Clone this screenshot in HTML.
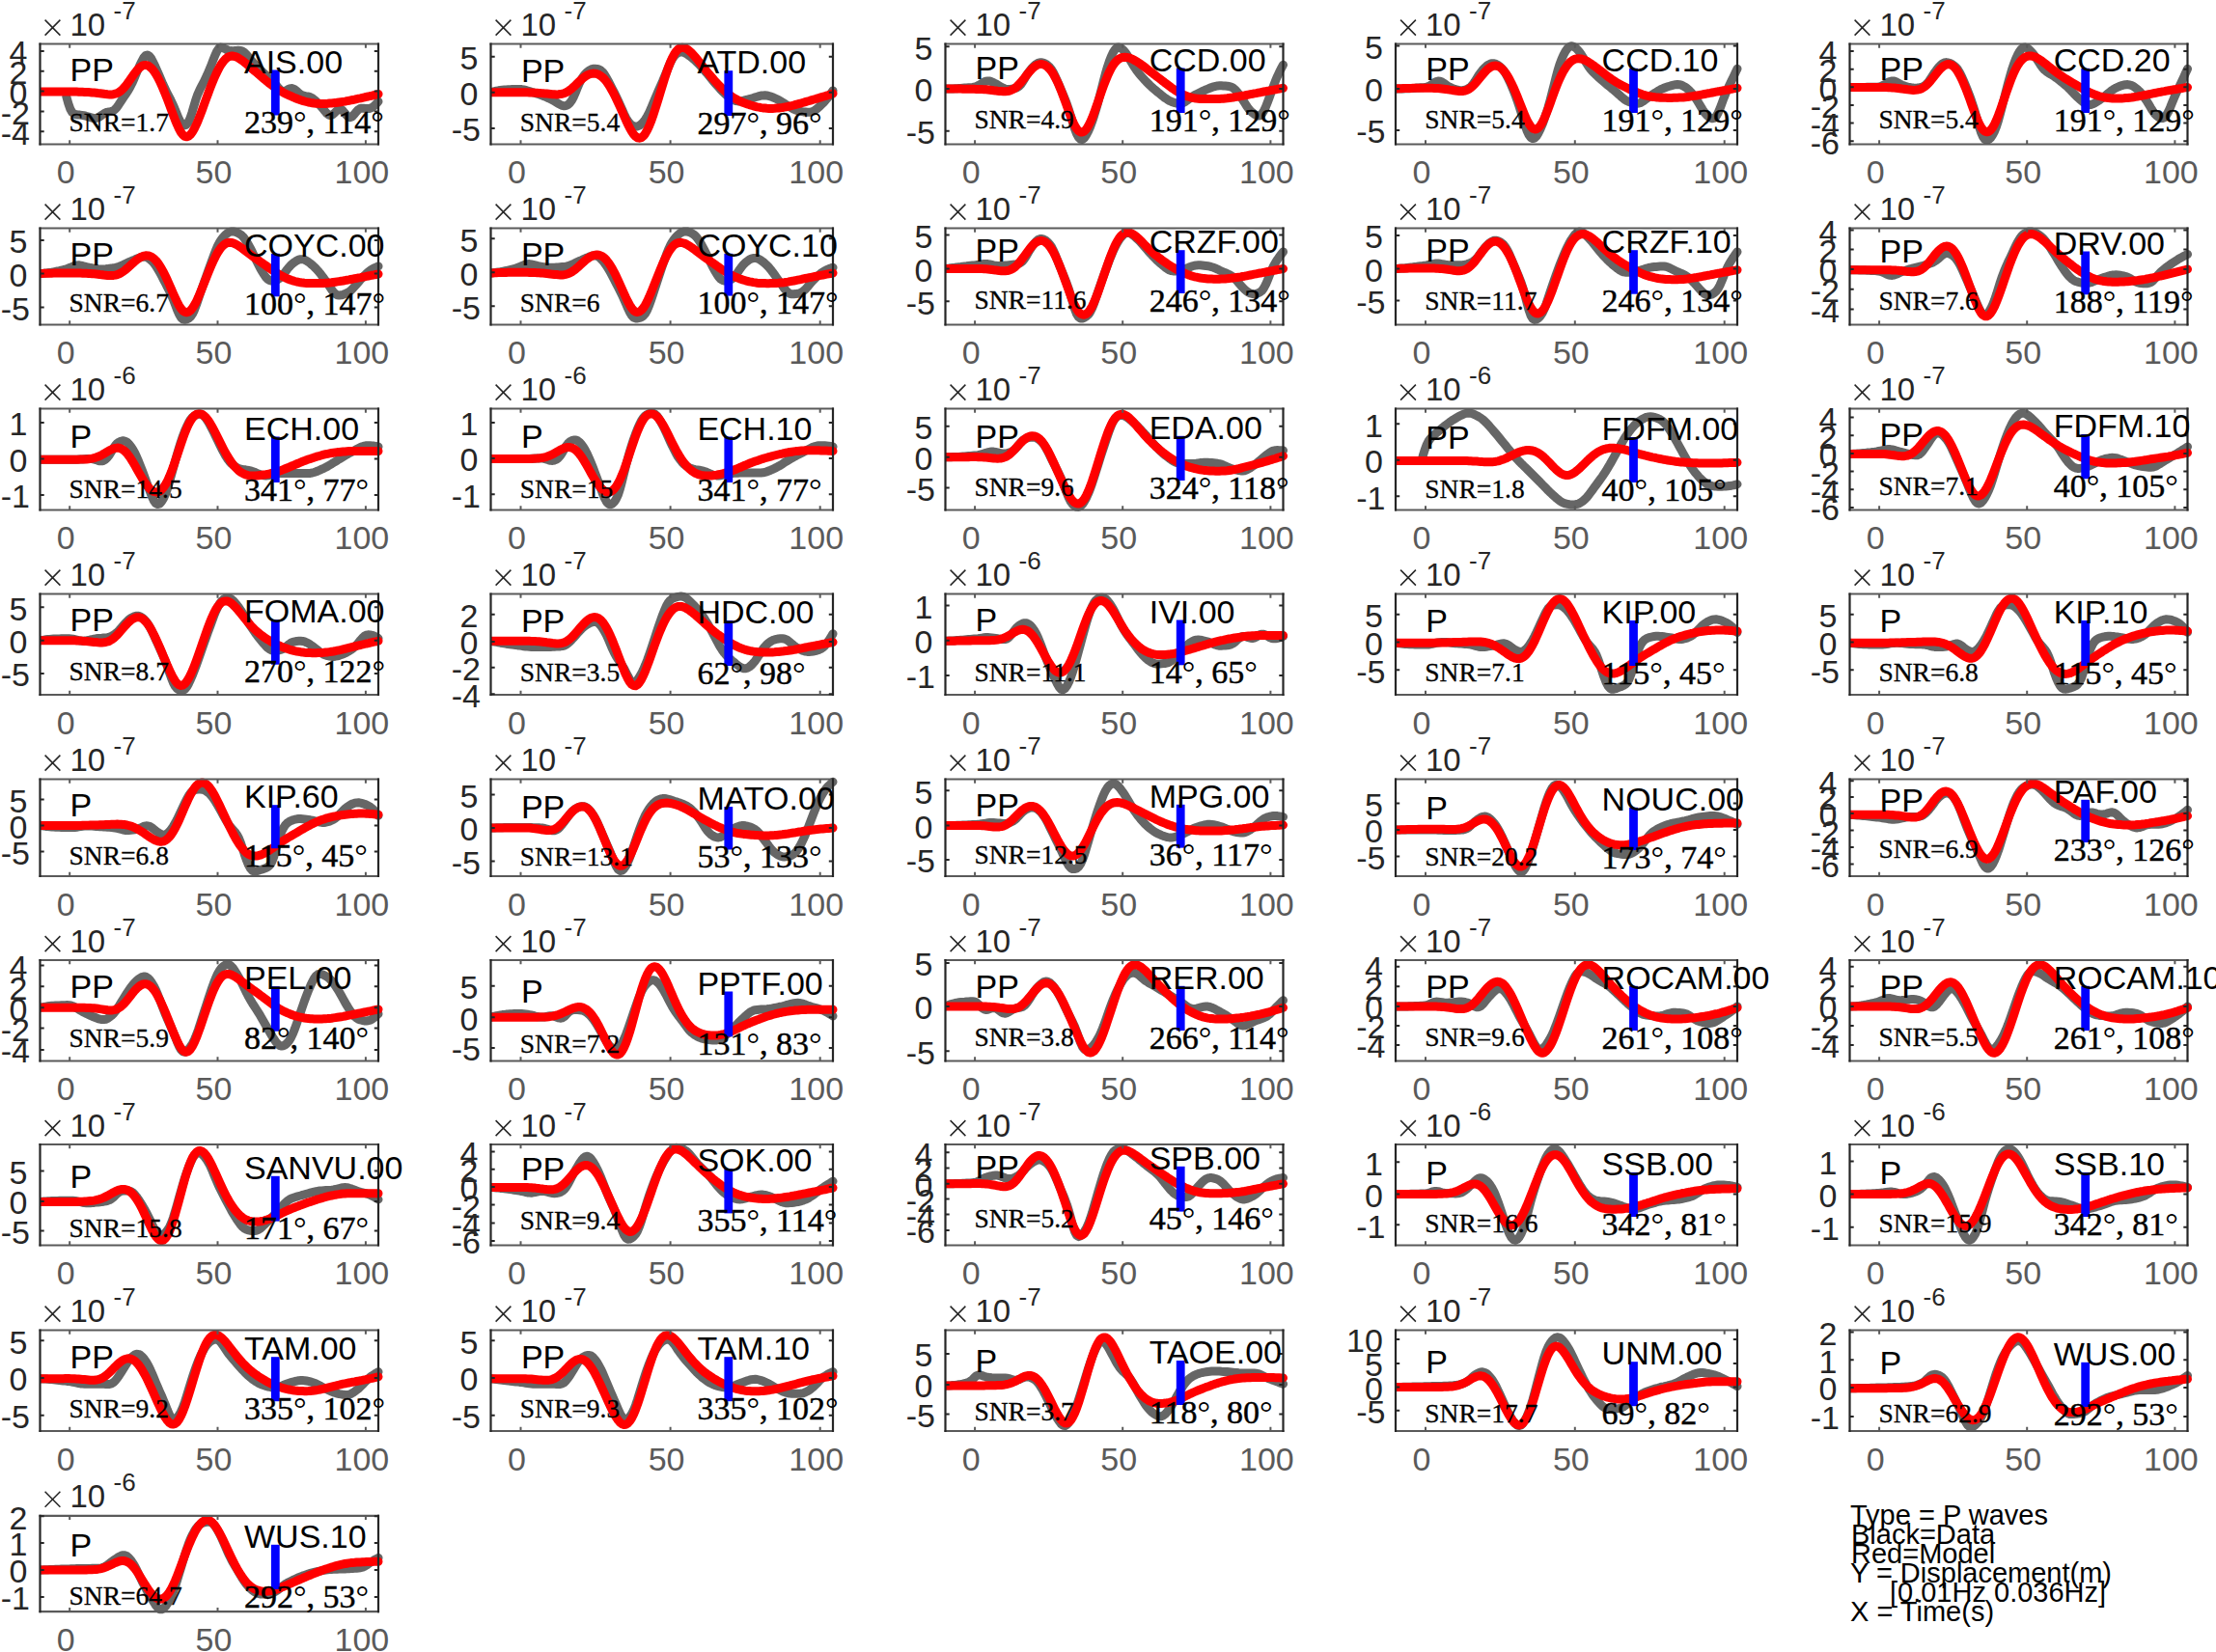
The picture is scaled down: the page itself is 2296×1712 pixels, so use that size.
<!DOCTYPE html><html><head><meta charset="utf-8"><title>Waveform fits</title><style>html,body{margin:0;padding:0;background:#fff;overflow:hidden}svg{display:block}</style></head><body>
<svg width="2296" height="1712" viewBox="0 0 2296 1712" font-family="Liberation Sans, sans-serif">
<rect width="100%" height="100%" fill="#fff"/>
<clipPath id="c0"><rect x="41.5" y="37.5" width="355.5" height="120.0"/></clipPath>
<g clip-path="url(#c0)" fill="none" stroke-linejoin="round" stroke-linecap="round">
<path d="M68.8,100.1l2,7.1 2,5.7 2,3.5 2,1.7 2,0.6 2,0.3 2,0.1 2,0.3 2,0.3 2,0.5 2,0.6 2,0.6 2,0.6 2,0.4 2,0.1 2,-0.4 2,-0.9 2,-1.4 2,-1.4 2,-1.3 2,-0.8 2,-0.4 2,-0.3 2,-0.6 2,-1.3 2,-2.1 2,-2.8 2,-3 2,-3.1 2,-2.9 2,-2.9 2,-3.1 2,-3.5 2,-4 2,-4.5 2,-4.7 2,-4.8 2,-4.5 2,-4.2 2,-3.6 2,-2.4 2,-0.6 2,1.1 2,2.7 2,3.8 2,4.2 2,4.5 2,4.6 2,4.7 2,4.6 2,4.3 2,4.1 2,3.9 2,3.9 2,4.2 2,4.5 2,4.9 2,4.9 2,4.1 2,2.9 2,1.1 2,-0.6 2,-2.4 2,-4.1 2,-5.8 2,-6.9 2,-6.8 2,-5.6 2,-4.5 2,-3.9 2,-3.8 2,-4.1 2,-4.3 2,-4.7 2,-4.9 2,-5.2 2,-5.1 2,-4.3 2,-2.9 2,-1 2,0.3 2,1 2,1.1 2,0.8 2,0.3 2,0.1 2,-0.1 2,-0.2 2,-0.1 2,0.1 2,0.5 2,1.2 2,1.9 2,2.3 2,2.5 2,2.4 2,2.1 2,2.1 2,2.1 2,2 2,1.9 2,2 2,1.8 2,1.7 2,1.7 2,1.7 2,1.9 2,2.3 2,2.5 2,2.5 2,2 2,1 2,-0.1 2,-0.8 2,-1.1 2,-0.8 2,-0.1 2,0.8 2,1.5 2,1.8 2,1.7 2,1.2 2,0.6 2,0.4 2,0.3 2,0.5 2,0.9 2,1.4 2,1.6 2,1.9 2,2 2,2.3 2,2.4 2,2.5 2,2.3 2,1.5 2,0.3 2,-0.9 2,-1.7 2,-2 2,-1.4 2,-0.3 2,1.1 2,2.3 2,2.5 2,2 2,0.6 2,-0.9 2,-2.1 2,-2.5 2,-2.2 2,-1.3 2,-0.5 2,0.1 2,0.2 2,0.1 2,-0.2 2,-0.6 2,-1.3 2,-1.8 2,-2.2 1.2,-1.4" stroke="#666666" stroke-width="9"/>
<path d="M41.5,95.0l2,0 2,0 2,0 2,0 2,0 2,0 2,0 2,0 2,0 2,0 2,0 2,0 2,0 2,0 2,0 2,0 2,0.1 2,0 2,0 2,0.1 2,0 2,0.1 2,0.1 2,0.1 2,0.1 2,0.1 2,0.2 2,0.1 2,0.2 2,0.3 2,0.2 2,0.3 2,0.3 2,0.3 2,0.2 2,0.1 2,0 2,-0.2 2,-0.5 2,-0.7 2,-1.2 2,-1.5 2,-1.8 2,-2.3 2,-2.5 2,-2.7 2,-2.9 2,-2.9 2,-2.7 2,-2.6 2,-2.2 2,-1.8 2,-1.3 2,-0.7 2,0 2,0.7 2,1.3 2,1.9 2,2.5 2,3 2,3.5 2,3.9 2,4.3 2,4.7 2,4.9 2,5.1 2,5.3 2,5.3 2,5.4 2,5.2 2,4.8 2,4.4 2,3.6 2,2.6 2,1.6 2,0.4 2,-0.8 2,-1.7 2,-2.7 2,-3.6 2,-4.1 2,-4.7 2,-5.1 2,-5.3 2,-5.5 2,-5.5 2,-5.4 2,-5.4 2,-5.1 2,-4.9 2,-4.5 2,-4.2 2,-3.8 2,-3.3 2,-2.7 2,-2.2 2,-1.7 2,-1 2,-0.5 2,0 2,0.5 2,0.7 2,1.1 2,1.3 2,1.4 2,1.6 2,1.6 2,1.7 2,1.8 2,1.7 2,1.7 2,1.7 2,1.7 2,1.7 2,1.7 2,1.7 2,1.7 2,1.6 2,1.7 2,1.5 2,1.5 2,1.4 2,1.4 2,1.2 2,1.1 2,1.1 2,1 2,1 2,0.9 2,0.9 2,0.9 2,0.9 2,0.8 2,0.8 2,0.7 2,0.6 2,0.6 2,0.5 2,0.5 2,0.4 2,0.3 2,0.3 2,0.2 2,0.1 2,0.1 2,0.1 2,-0.1 2,0 2,-0.1 2,-0.2 2,-0.1 2,-0.2 2,-0.2 2,-0.3 2,-0.3 2,-0.3 2,-0.3 2,-0.3 2,-0.4 2,-0.4 2,-0.4 2,-0.4 2,-0.4 2,-0.5 2,-0.4 2,-0.4 2,-0.5 2,-0.4 2,-0.5 2,-0.4 2,-0.5 2,-0.4 2,-0.5 2,-0.5 2,-0.4 0.5,-0.2" stroke="#ff0000" stroke-width="9"/>
</g>
<rect x="280.9" y="72.5" width="8.8" height="47.0" fill="#0000ff"/>
<path d="M40.5,45.5 H393.0 M40.5,149.5 H393.0" stroke="#5a5a5a" stroke-width="2.2" fill="none"/>
<path d="M41.5,44.5 V150.5 M392.0,44.5 V150.5" stroke="#262626" stroke-width="2.2" fill="none"/>
<text x="68.2" y="190.3" font-size="34" fill="#5a5a5a" text-anchor="middle">0</text>
<text x="221.5" y="190.3" font-size="34" fill="#5a5a5a" text-anchor="middle">50</text>
<text x="374.9" y="190.3" font-size="34" fill="#5a5a5a" text-anchor="middle">100</text>
<path d="M72.2,149.5 V145.3 M72.2,45.5 V49.7 M225.5,149.5 V145.3 M225.5,45.5 V49.7 M378.9,149.5 V145.3 M378.9,45.5 V49.7" stroke="#5a5a5a" stroke-width="2" fill="none"/>
<text x="28.3" y="66.4" font-size="34" fill="#262626" text-anchor="end">4</text>
<text x="28.3" y="87.2" font-size="34" fill="#262626" text-anchor="end">2</text>
<text x="28.3" y="108.0" font-size="34" fill="#262626" text-anchor="end">0</text>
<text x="31.0" y="128.9" font-size="34" fill="#262626" text-anchor="end">-2</text>
<text x="31.0" y="149.7" font-size="34" fill="#262626" text-anchor="end">-4</text>
<path d="M41.5,53.0 H45.7 M392.0,53.0 H387.8 M41.5,73.8 H45.7 M392.0,73.8 H387.8 M41.5,94.6 H45.7 M392.0,94.6 H387.8 M41.5,115.5 H45.7 M392.0,115.5 H387.8 M41.5,136.2 H45.7 M392.0,136.2 H387.8" stroke="#262626" stroke-width="2" fill="none"/>
<path d="M46.6,20.6 l15.8,16 M62.4,20.6 l-15.8,16" stroke="#262626" stroke-width="1.5"/>
<text x="72.5" y="37.1" font-size="33" fill="#262626">10</text>
<text x="117.5" y="20.1" font-size="26" fill="#262626">-7</text>
<text x="72.5" y="84.3" font-size="34" fill="#000">PP</text>
<text x="253.0" y="75.5" font-size="34" fill="#000">AIS.00</text>
<text x="71.5" y="135.7" font-size="27.5" fill="#000" stroke="#000" stroke-width="0.3" font-family="Liberation Serif, serif">SNR=<tspan>1.7</tspan></text>
<text x="253.0" y="138.1" font-size="34" fill="#000" stroke="#000" stroke-width="0.45" font-family="Liberation Serif, serif">239<tspan stroke-width="0">°</tspan>, 114<tspan stroke-width="0">°</tspan></text>
<clipPath id="c1"><rect x="508.5" y="37.5" width="359.5" height="120.0"/></clipPath>
<g clip-path="url(#c1)" fill="none" stroke-linejoin="round" stroke-linecap="round">
<path d="M508.5,95.7l2,-0.5 2,-0.5 2,-0.5 2,-0.4 2,-0.3 2,-0.3 2,-0.2 2,-0.1 2,-0.2 2,0 2,-0.1 2,-0.1 2,0 2,0 2,0 2,0.1 2,0.3 2,0.5 2,0.6 2,0.6 2,0.7 2,0.6 2,0.6 2,0.6 2,0.7 2,0.7 2,0.7 2,0.8 2,0.9 2,0.9 2,1 2,1 2,1.1 2,1.2 2,1.2 2,1.2 2,0.9 2,0.4 2,-0.2 2,-1 2,-1.9 2,-2.8 2,-3.8 2,-4.7 2,-5 2,-4.6 2,-3.8 2,-3.1 2,-2.4 2,-2 2,-1.6 2,-1 2,-0.6 2,-0.1 2,0.2 2,0.5 2,1.1 2,1.8 2,2.7 2,3.3 2,3.7 2,3.8 2,3.9 2,3.9 2,4.1 2,4.2 2,4.4 2,4.6 2,4.5 2,4.1 2,3.4 2,2.5 2,1.7 2,1.1 2,0.4 2,-0.2 2,-0.8 2,-1.5 2,-2.1 2,-2.6 2,-3.2 2,-3.8 2,-4.5 2,-4.9 2,-4.9 2,-4.7 2,-4.6 2,-4.5 2,-4.5 2,-4.8 2,-4.9 2,-5 2,-4.6 2,-3.9 2,-2.9 2,-2.1 2,-1.4 2,-0.7 2,-0.1 2,0.5 2,0.9 2,1.3 2,1.4 2,1.6 2,1.6 2,1.8 2,1.9 2,2.1 2,2.1 2,2.3 2,2.3 2,2.3 2,2.5 2,2.4 2,2.5 2,2.4 2,2.3 2,2.2 2,2.3 2,2.1 2,1.9 2,1.8 2,1.6 2,1.5 2,1.3 2,1 2,0.8 2,0.3 2,0 2,-0.3 2,-0.4 2,-0.5 2,-0.5 2,-0.6 2,-0.5 2,-0.6 2,-0.7 2,-0.6 2,-0.6 2,-0.5 2,-0.2 2,-0.1 2,0.2 2,0.4 2,0.7 2,0.7 2,0.8 2,0.9 2,1 2,1.1 2,1.3 2,1.2 2,1.3 2,1.3 2,1.3 2,1.1 2,1.1 2,0.9 2,0.7 2,0.5 2,0.3 2,0.3 2,0.2 2,0.2 2,0 2,-0.3 2,-0.7 2,-1.1 2,-1.5 2,-1.8 2,-1.9 2,-1.9 2,-2.2 2,-2.3 2,-2.5 2,-2.7 2,-2.8 0.5,-0.7" stroke="#666666" stroke-width="9"/>
<path d="M508.5,95.8l2,0 2,0 2,0 2,0 2,0 2,0 2,0 2,0 2,0 2,-0.1 2,0 2,0 2,0 2,0 2,0 2,0 2,0.1 2,0 2,0 2,0.1 2,0.1 2,0.1 2,0.1 2,0.1 2,0.1 2,0.2 2,0.1 2,0.2 2,0.2 2,0.2 2,0.2 2,0.2 2,0.1 2,0.1 2,-0.1 2,-0.2 2,-0.3 2,-0.6 2,-0.9 2,-1.1 2,-1.4 2,-1.6 2,-1.8 2,-1.9 2,-2 2,-1.9 2,-1.8 2,-1.7 2,-1.5 2,-1.2 2,-0.9 2,-0.6 2,-0.3 2,0.1 2,0.4 2,0.8 2,1.3 2,1.6 2,2 2,2.5 2,2.9 2,3.2 2,3.5 2,3.9 2,4 2,4.3 2,4.4 2,4.5 2,4.5 2,4.5 2,4.2 2,4 2,3.5 2,3 2,2.2 2,1.4 2,0.4 2,-0.5 2,-1.6 2,-2.5 2,-3.5 2,-4.2 2,-5 2,-5.6 2,-6.1 2,-6.3 2,-6.5 2,-6.6 2,-6.6 2,-6.5 2,-6.1 2,-5.8 2,-5.2 2,-4.5 2,-3.8 2,-3 2,-2.1 2,-1.4 2,-0.5 2,0.1 2,0.7 2,1.2 2,1.6 2,1.9 2,2.2 2,2.3 2,2.4 2,2.5 2,2.5 2,2.5 2,2.5 2,2.5 2,2.4 2,2.4 2,2.3 2,2.3 2,2.2 2,2.2 2,2 2,2 2,1.9 2,1.8 2,1.6 2,1.5 2,1.5 2,1.2 2,1.2 2,1.1 2,1 2,0.9 2,0.8 2,0.7 2,0.7 2,0.7 2,0.6 2,0.6 2,0.5 2,0.5 2,0.4 2,0.4 2,0.3 2,0.2 2,0.2 2,0.1 2,0 2,0 2,-0.1 2,-0.2 2,-0.1 2,-0.3 2,-0.2 2,-0.4 2,-0.3 2,-0.4 2,-0.4 2,-0.5 2,-0.5 2,-0.6 2,-0.5 2,-0.6 2,-0.5 2,-0.6 2,-0.6 2,-0.6 2,-0.5 2,-0.6 2,-0.6 2,-0.6 2,-0.6 2,-0.6 2,-0.6 2,-0.6 2,-0.6 2,-0.6 2,-0.6 2,-0.7 2,-0.6 0.5,-0.2" stroke="#ff0000" stroke-width="9"/>
</g>
<rect x="750.4" y="73.2" width="8.8" height="46.8" fill="#0000ff"/>
<path d="M507.5,45.5 H864.0 M507.5,149.5 H864.0" stroke="#5a5a5a" stroke-width="2.2" fill="none"/>
<path d="M508.5,44.5 V150.5 M863.0,44.5 V150.5" stroke="#262626" stroke-width="2.2" fill="none"/>
<text x="535.5" y="190.3" font-size="34" fill="#5a5a5a" text-anchor="middle">0</text>
<text x="690.6" y="190.3" font-size="34" fill="#5a5a5a" text-anchor="middle">50</text>
<text x="845.7" y="190.3" font-size="34" fill="#5a5a5a" text-anchor="middle">100</text>
<path d="M539.5,149.5 V145.3 M539.5,45.5 V49.7 M694.6,149.5 V145.3 M694.6,45.5 V49.7 M849.7,149.5 V145.3 M849.7,45.5 V49.7" stroke="#5a5a5a" stroke-width="2" fill="none"/>
<text x="495.3" y="72.2" font-size="34" fill="#262626" text-anchor="end">5</text>
<text x="495.3" y="109.2" font-size="34" fill="#262626" text-anchor="end">0</text>
<text x="498.0" y="146.4" font-size="34" fill="#262626" text-anchor="end">-5</text>
<path d="M508.5,58.8 H512.7 M863.0,58.8 H858.8 M508.5,95.8 H512.7 M863.0,95.8 H858.8 M508.5,133.0 H512.7 M863.0,133.0 H858.8" stroke="#262626" stroke-width="2" fill="none"/>
<path d="M513.6,20.6 l15.8,16 M529.4,20.6 l-15.8,16" stroke="#262626" stroke-width="1.5"/>
<text x="539.5" y="37.1" font-size="33" fill="#262626">10</text>
<text x="584.5" y="20.1" font-size="26" fill="#262626">-7</text>
<text x="539.9" y="85.0" font-size="34" fill="#000">PP</text>
<text x="722.4" y="76.2" font-size="34" fill="#000">ATD.00</text>
<text x="538.8" y="136.2" font-size="27.5" fill="#000" stroke="#000" stroke-width="0.3" font-family="Liberation Serif, serif">SNR=<tspan>5.4</tspan></text>
<text x="722.4" y="138.6" font-size="34" fill="#000" stroke="#000" stroke-width="0.45" font-family="Liberation Serif, serif">297<tspan stroke-width="0">°</tspan>, 96<tspan stroke-width="0">°</tspan></text>
<clipPath id="c2"><rect x="979.5" y="37.5" width="355.0" height="120.0"/></clipPath>
<g clip-path="url(#c2)" fill="none" stroke-linejoin="round" stroke-linecap="round">
<path d="M979.5,92.0l2,0 2,0 2,-0.1 2,0 2,-0.1 2,-0.1 2,-0.1 2,-0.1 2,-0.2 2,-0.2 2,-0.1 2,-0.2 2,-0.1 2,-0.2 2,-0.3 2,-0.6 2,-0.9 2,-1.2 2,-1.3 2,-1.2 2,-0.8 2,-0.3 2,0.2 2,0.7 2,0.9 2,1 2,1.2 2,1.2 2,1.2 2,1 2,0.8 2,0.3 2,0 2,-0.2 2,-0.3 2,-0.4 2,-0.6 2,-1.2 2,-1.9 2,-2.8 2,-3.3 2,-3.4 2,-3 2,-2.7 2,-2.4 2,-2 2,-1.7 2,-1.2 2,-0.6 2,0 2,0.6 2,1 2,1.4 2,1.9 2,2.5 2,3.3 2,4.1 2,4.4 2,4.7 2,4.7 2,4.7 2,4.9 2,5.3 2,5.8 2,6.3 2,6.7 2,6.3 2,5.3 2,3.7 2,2 2,0.2 2,-1.6 2,-2.9 2,-3.8 2,-4.5 2,-5.4 2,-6 2,-6.5 2,-7.1 2,-7.6 2,-7.8 2,-8 2,-7.5 2,-6.7 2,-5.9 2,-5.1 2,-4.2 2,-3 2,-1.6 2,-0.3 2,0.9 2,1.6 2,2.3 2,2.7 2,3.2 2,3.4 2,3.5 2,3.2 2,2.9 2,2.7 2,2.4 2,2.3 2,2.3 2,2.1 2,2 2,2 2,1.8 2,1.8 2,1.7 2,1.7 2,1.6 2,1.6 2,1.6 2,1.5 2,1.3 2,1.2 2,0.9 2,0.8 2,0.7 2,0.5 2,0.2 2,-0.1 2,-0.5 2,-1 2,-1.4 2,-1.5 2,-1.5 2,-1.3 2,-1.3 2,-1.1 2,-1 2,-1 2,-1 2,-0.9 2,-0.9 2,-0.8 2,-0.8 2,-0.8 2,-0.7 2,-0.5 2,-0.4 2,-0.1 2,0 2,0.1 2,0.1 2,0.2 2,0.3 2,0.6 2,1 2,1.6 2,2.1 2,2.5 2,2.8 2,3.1 2,3.2 2,3.2 2,2.9 2,2.3 2,1.9 2,1.5 2,1.1 2,0.6 2,-0.2 2,-1.7 2,-3.1 2,-4.3 2,-5.1 2,-5.4 2,-5.6 2,-5.4 2,-5.3 2,-4.7 2,-4.3 2,-3.9 2,-3.7" stroke="#666666" stroke-width="9"/>
<path d="M979.5,92.0l2,0 2,0 2,0 2,0.1 2,0 2,0 2,0 2,0 2,0.1 2,0 2,0 2,0 2,0.1 2,0 2,0 2,0.1 2,0 2,0.1 2,0.1 2,0.1 2,0.1 2,0.2 2,0.2 2,0.2 2,0.3 2,0.2 2,0.3 2,0.2 2,0.2 2,0.2 2,0 2,-0.2 2,-0.3 2,-0.7 2,-1 2,-1.2 2,-1.6 2,-2 2,-2.2 2,-2.4 2,-2.5 2,-2.6 2,-2.5 2,-2.3 2,-2.1 2,-1.8 2,-1.4 2,-1 2,-0.5 2,0 2,0.5 2,1 2,1.5 2,2 2,2.6 2,3 2,3.6 2,4 2,4.5 2,4.9 2,5.2 2,5.5 2,5.5 2,5.5 2,5.3 2,4.8 2,4.2 2,3.3 2,2.3 2,1.2 2,0.1 2,-1 2,-2.1 2,-3.1 2,-3.9 2,-4.6 2,-5.1 2,-5.6 2,-5.7 2,-5.8 2,-5.8 2,-5.5 2,-5.2 2,-4.9 2,-4.4 2,-3.8 2,-3.3 2,-2.6 2,-2.1 2,-1.6 2,-1 2,-0.5 2,-0.2 2,0.2 2,0.4 2,0.7 2,0.9 2,1.1 2,1.1 2,1.3 2,1.4 2,1.4 2,1.5 2,1.5 2,1.6 2,1.5 2,1.5 2,1.6 2,1.5 2,1.6 2,1.5 2,1.6 2,1.5 2,1.6 2,1.5 2,1.5 2,1.5 2,1.4 2,1.3 2,1.3 2,1.2 2,1 2,1 2,0.9 2,0.8 2,0.6 2,0.6 2,0.5 2,0.4 2,0.3 2,0.2 2,0.2 2,0.1 2,0.1 2,0 2,0 2,0 2,0 2,0 2,-0.1 2,0 2,-0.1 2,-0.1 2,-0.1 2,-0.2 2,-0.2 2,-0.3 2,-0.3 2,-0.2 2,-0.4 2,-0.3 2,-0.3 2,-0.4 2,-0.4 2,-0.3 2,-0.4 2,-0.4 2,-0.4 2,-0.4 2,-0.4 2,-0.3 2,-0.4 2,-0.4 2,-0.4 2,-0.4 2,-0.4 2,-0.3 2,-0.4 2,-0.4 2,-0.4 2,-0.3 2,-0.4 2,-0.4 2,-0.4 2,-0.3" stroke="#ff0000" stroke-width="9"/>
</g>
<rect x="1218.8" y="70.5" width="8.8" height="46.5" fill="#0000ff"/>
<path d="M978.5,45.5 H1330.5 M978.5,149.5 H1330.5" stroke="#5a5a5a" stroke-width="2.2" fill="none"/>
<path d="M979.5,44.5 V150.5 M1329.5,44.5 V150.5" stroke="#262626" stroke-width="2.2" fill="none"/>
<text x="1006.1" y="190.3" font-size="34" fill="#5a5a5a" text-anchor="middle">0</text>
<text x="1159.2" y="190.3" font-size="34" fill="#5a5a5a" text-anchor="middle">50</text>
<text x="1312.4" y="190.3" font-size="34" fill="#5a5a5a" text-anchor="middle">100</text>
<path d="M1010.1,149.5 V145.3 M1010.1,45.5 V49.7 M1163.2,149.5 V145.3 M1163.2,45.5 V49.7 M1316.4,149.5 V145.3 M1316.4,45.5 V49.7" stroke="#5a5a5a" stroke-width="2" fill="none"/>
<text x="966.3" y="61.6" font-size="34" fill="#262626" text-anchor="end">5</text>
<text x="966.3" y="105.4" font-size="34" fill="#262626" text-anchor="end">0</text>
<text x="969.0" y="149.2" font-size="34" fill="#262626" text-anchor="end">-5</text>
<path d="M979.5,48.2 H983.7 M1329.5,48.2 H1325.3 M979.5,92.0 H983.7 M1329.5,92.0 H1325.3 M979.5,135.8 H983.7 M1329.5,135.8 H1325.3" stroke="#262626" stroke-width="2" fill="none"/>
<path d="M984.6,20.6 l15.8,16 M1000.4,20.6 l-15.8,16" stroke="#262626" stroke-width="1.5"/>
<text x="1010.5" y="37.1" font-size="33" fill="#262626">10</text>
<text x="1055.5" y="20.1" font-size="26" fill="#262626">-7</text>
<text x="1010.5" y="82.3" font-size="34" fill="#000">PP</text>
<text x="1190.7" y="73.5" font-size="34" fill="#000">CCD.00</text>
<text x="1009.4" y="133.2" font-size="27.5" fill="#000" stroke="#000" stroke-width="0.3" font-family="Liberation Serif, serif">SNR=<tspan>4.9</tspan></text>
<text x="1190.7" y="135.6" font-size="34" fill="#000" stroke="#000" stroke-width="0.45" font-family="Liberation Serif, serif">191<tspan stroke-width="0">°</tspan>, 129<tspan stroke-width="0">°</tspan></text>
<clipPath id="c3"><rect x="1446.0" y="37.5" width="359.0" height="120.0"/></clipPath>
<g clip-path="url(#c3)" fill="none" stroke-linejoin="round" stroke-linecap="round">
<path d="M1446.0,92.0l2,0 2,0 2,-0.1 2,0 2,-0.1 2,0 2,-0.1 2,-0.2 2,-0.1 2,-0.1 2,-0.2 2,-0.1 2,-0.2 2,-0.1 2,-0.2 2,-0.3 2,-0.7 2,-1 2,-1.4 2,-1.4 2,-1.2 2,-0.5 2,0.2 2,0.8 2,1.3 2,1.4 2,1.4 2,1.1 2,0.9 2,0.8 2,0.7 2,0.6 2,0.3 2,0.2 2,-0.2 2,-0.4 2,-0.7 2,-1.1 2,-1.5 2,-2.3 2,-2.9 2,-3.2 2,-3.3 2,-2.9 2,-2.5 2,-2.1 2,-1.9 2,-1.5 2,-1 2,-0.5 2,0.1 2,0.6 2,1.1 2,1.4 2,1.9 2,2.4 2,3.1 2,3.7 2,4.2 2,4.5 2,4.9 2,5.1 2,5.5 2,5.9 2,6.3 2,6.6 2,6.5 2,5.8 2,4.4 2,2.8 2,1.1 2,-0.5 2,-2 2,-3.2 2,-4.1 2,-4.7 2,-5.4 2,-6 2,-6.5 2,-7.1 2,-7.6 2,-8 2,-8 2,-7.4 2,-6.5 2,-5.3 2,-4.5 2,-3.7 2,-2.8 2,-1.9 2,-0.7 2,0.4 2,1.1 2,1.8 2,2.2 2,2.7 2,3.2 2,3.4 2,3.4 2,3.2 2,2.7 2,2.3 2,2 2,1.9 2,1.8 2,1.8 2,1.8 2,1.7 2,1.7 2,1.7 2,1.6 2,1.6 2,1.7 2,1.7 2,1.7 2,1.8 2,1.9 2,1.6 2,1.5 2,1.1 2,0.9 2,0.8 2,0.6 2,0.3 2,0.1 2,-0.3 2,-0.7 2,-1.2 2,-1.4 2,-1.6 2,-1.4 2,-1.4 2,-1.4 2,-1.3 2,-1.2 2,-1.3 2,-1.1 2,-1 2,-0.8 2,-0.8 2,-0.7 2,-0.6 2,-0.6 2,-0.5 2,-0.4 2,-0.2 2,0.2 2,0.5 2,0.9 2,1.1 2,1.5 2,1.7 2,2.1 2,2.4 2,2.7 2,3 2,3.1 2,3.4 2,3.3 2,3.1 2,2.4 2,1.9 2,1.2 2,0.7 2,-0.3 2,-1.7 2,-3.4 2,-4.7 2,-5.4 2,-5.4 2,-5 2,-4.6 2,-4.3 2,-4.2 2,-4.1 2,-4.2 2,-4.1" stroke="#666666" stroke-width="9"/>
<path d="M1446.0,91.9l2,-0.1 2,0 2,-0.1 2,-0.1 2,-0.1 2,0 2,-0.1 2,0 2,-0.1 2,0 2,0 2,-0.1 2,0 2,0 2,0 2,0 2,0 2,0.1 2,0 2,0.1 2,0.1 2,0.1 2,0.2 2,0.2 2,0.2 2,0.2 2,0.3 2,0.4 2,0.3 2,0.3 2,0.4 2,0.2 2,0.2 2,0.1 2,-0.2 2,-0.4 2,-0.7 2,-1.1 2,-1.4 2,-1.7 2,-2 2,-2.3 2,-2.4 2,-2.5 2,-2.4 2,-2.3 2,-2.2 2,-1.8 2,-1.4 2,-1.1 2,-0.5 2,-0.1 2,0.5 2,1 2,1.6 2,2.1 2,2.5 2,3 2,3.5 2,3.9 2,4.2 2,4.6 2,4.8 2,5.1 2,5.1 2,5 2,4.9 2,4.4 2,3.8 2,3 2,2 2,0.9 2,-0.3 2,-1.3 2,-2.3 2,-3.3 2,-4 2,-4.7 2,-5.1 2,-5.4 2,-5.6 2,-5.5 2,-5.3 2,-5 2,-4.7 2,-4.2 2,-3.8 2,-3.2 2,-2.8 2,-2.3 2,-1.8 2,-1.3 2,-0.9 2,-0.4 2,-0.1 2,0.2 2,0.6 2,0.8 2,1 2,1.1 2,1.3 2,1.4 2,1.4 2,1.5 2,1.6 2,1.5 2,1.6 2,1.5 2,1.6 2,1.5 2,1.5 2,1.4 2,1.3 2,1.3 2,1.2 2,1.2 2,1.1 2,1 2,1 2,1 2,1 2,0.9 2,0.9 2,0.9 2,0.8 2,0.8 2,0.7 2,0.7 2,0.6 2,0.6 2,0.4 2,0.4 2,0.4 2,0.2 2,0.3 2,0.1 2,0.2 2,0.1 2,0 2,0 2,0.1 2,0 2,0 2,-0.1 2,0 2,-0.1 2,-0.1 2,-0.1 2,-0.1 2,-0.2 2,-0.2 2,-0.3 2,-0.3 2,-0.3 2,-0.3 2,-0.3 2,-0.4 2,-0.3 2,-0.4 2,-0.4 2,-0.4 2,-0.4 2,-0.3 2,-0.4 2,-0.4 2,-0.4 2,-0.4 2,-0.3 2,-0.4 2,-0.4 2,-0.3 2,-0.4 2,-0.3 2,-0.4 2,-0.4 2,-0.3 2,-0.4" stroke="#ff0000" stroke-width="9"/>
</g>
<rect x="1688.1" y="70.8" width="8.8" height="46.2" fill="#0000ff"/>
<path d="M1445.0,45.5 H1801.0 M1445.0,149.5 H1801.0" stroke="#5a5a5a" stroke-width="2.2" fill="none"/>
<path d="M1446.0,44.5 V150.5 M1800.0,44.5 V150.5" stroke="#262626" stroke-width="2.2" fill="none"/>
<text x="1473.0" y="190.3" font-size="34" fill="#5a5a5a" text-anchor="middle">0</text>
<text x="1627.8" y="190.3" font-size="34" fill="#5a5a5a" text-anchor="middle">50</text>
<text x="1782.7" y="190.3" font-size="34" fill="#5a5a5a" text-anchor="middle">100</text>
<path d="M1477.0,149.5 V145.3 M1477.0,45.5 V49.7 M1631.8,149.5 V145.3 M1631.8,45.5 V49.7 M1786.7,149.5 V145.3 M1786.7,45.5 V49.7" stroke="#5a5a5a" stroke-width="2" fill="none"/>
<text x="1432.8" y="60.9" font-size="34" fill="#262626" text-anchor="end">5</text>
<text x="1432.8" y="105.4" font-size="34" fill="#262626" text-anchor="end">0</text>
<text x="1435.5" y="148.4" font-size="34" fill="#262626" text-anchor="end">-5</text>
<path d="M1446.0,47.5 H1450.2 M1800.0,47.5 H1795.8 M1446.0,92.0 H1450.2 M1800.0,92.0 H1795.8 M1446.0,135.0 H1450.2 M1800.0,135.0 H1795.8" stroke="#262626" stroke-width="2" fill="none"/>
<path d="M1451.1,20.6 l15.8,16 M1466.9,20.6 l-15.8,16" stroke="#262626" stroke-width="1.5"/>
<text x="1477.0" y="37.1" font-size="33" fill="#262626">10</text>
<text x="1522.0" y="20.1" font-size="26" fill="#262626">-7</text>
<text x="1477.3" y="82.5" font-size="34" fill="#000">PP</text>
<text x="1659.6" y="73.8" font-size="34" fill="#000">CCD.10</text>
<text x="1476.3" y="133.2" font-size="27.5" fill="#000" stroke="#000" stroke-width="0.3" font-family="Liberation Serif, serif">SNR=<tspan>5.4</tspan></text>
<text x="1659.6" y="135.6" font-size="34" fill="#000" stroke="#000" stroke-width="0.45" font-family="Liberation Serif, serif">191<tspan stroke-width="0">°</tspan>, 129<tspan stroke-width="0">°</tspan></text>
<clipPath id="c4"><rect x="1916.5" y="37.5" width="355.0" height="120.0"/></clipPath>
<g clip-path="url(#c4)" fill="none" stroke-linejoin="round" stroke-linecap="round">
<path d="M1916.5,90.5l2,0 2,0 2,0 2,0 2,0 2,-0.1 2,0 2,0 2,-0.1 2,0 2,-0.1 2,0 2,0 2,0 2,-0.2 2,-0.4 2,-0.8 2,-1.1 2,-1.3 2,-1.2 2,-0.9 2,-0.4 2,0.2 2,0.7 2,1.1 2,1.1 2,1 2,0.9 2,0.6 2,0.6 2,0.4 2,0.4 2,0.2 2,0.1 2,-0.1 2,-0.2 2,-0.5 2,-0.7 2,-1.2 2,-1.8 2,-2.5 2,-3 2,-3.1 2,-3 2,-2.7 2,-2.5 2,-2.2 2,-1.7 2,-1 2,-0.4 2,0.3 2,0.7 2,1 2,1.3 2,1.7 2,2.4 2,3.3 2,3.9 2,4.6 2,4.7 2,5 2,5.1 2,5.5 2,6 2,6.5 2,7.1 2,7.2 2,6.3 2,4.6 2,2.6 2,0.9 2,-0.6 2,-1.8 2,-2.9 2,-3.9 2,-5.1 2,-6.2 2,-7.2 2,-7.7 2,-7.9 2,-7.8 2,-7.7 2,-7.4 2,-6.8 2,-5.9 2,-5.2 2,-4.4 2,-3.6 2,-2.6 2,-1.4 2,-0.1 2,0.8 2,1.5 2,2 2,2.3 2,2.7 2,3.1 2,3.2 2,3.1 2,2.6 2,2.2 2,1.6 2,1.4 2,1.2 2,1.2 2,1.3 2,1.4 2,1.5 2,1.6 2,1.5 2,1.7 2,1.7 2,1.8 2,2 2,2.1 2,2.1 2,2 2,2 2,1.9 2,1.7 2,1.6 2,1.4 2,0.9 2,0.4 2,-0.2 2,-0.6 2,-1 2,-1.3 2,-1.3 2,-1.4 2,-1.4 2,-1.5 2,-1.7 2,-1.7 2,-1.6 2,-1.5 2,-1.3 2,-1.1 2,-0.9 2,-0.8 2,-0.7 2,-0.6 2,-0.3 2,-0.1 2,0.3 2,0.7 2,1 2,1.3 2,1.6 2,1.9 2,2.2 2,2.6 2,2.9 2,3 2,3.3 2,3.4 2,3.2 2,2.8 2,2.1 2,1.5 2,1 2,0.2 2,-0.8 2,-2.2 2,-3.5 2,-4.6 2,-5 2,-4.8 2,-4.5 2,-4.3 2,-4.2 2,-4.3 2,-4.3 2,-4.4 2,-4.4" stroke="#666666" stroke-width="9"/>
<path d="M1916.5,90.5l2,0 2,0 2,0 2,0 2,0 2,0 2,0 2,0 2,0 2,0 2,0 2,0 2,0 2,0 2,0 2,0 2,0 2,0.1 2,0 2,0.1 2,0.1 2,0.1 2,0.2 2,0.2 2,0.2 2,0.2 2,0.3 2,0.2 2,0.3 2,0.3 2,0.2 2,0.2 2,0.2 2,-0.1 2,-0.2 2,-0.4 2,-0.7 2,-1.1 2,-1.4 2,-1.7 2,-2 2,-2.3 2,-2.5 2,-2.5 2,-2.5 2,-2.5 2,-2.2 2,-1.9 2,-1.5 2,-1 2,-0.4 2,0.3 2,0.9 2,1.6 2,2.2 2,2.9 2,3.5 2,4 2,4.5 2,4.8 2,5.2 2,5.4 2,5.6 2,5.5 2,5.4 2,5 2,4.5 2,3.8 2,2.8 2,1.8 2,0.6 2,-0.5 2,-1.5 2,-2.6 2,-3.5 2,-4.3 2,-5 2,-5.4 2,-5.7 2,-5.8 2,-5.9 2,-5.7 2,-5.5 2,-5.2 2,-4.7 2,-4.1 2,-3.7 2,-3 2,-2.4 2,-1.9 2,-1.3 2,-0.8 2,-0.4 2,0.1 2,0.4 2,0.7 2,1 2,1.1 2,1.3 2,1.4 2,1.6 2,1.6 2,1.6 2,1.6 2,1.6 2,1.5 2,1.5 2,1.5 2,1.4 2,1.3 2,1.3 2,1.3 2,1.2 2,1.2 2,1.2 2,1.2 2,1.1 2,1.2 2,1.2 2,1.1 2,1.1 2,1.1 2,1.1 2,1 2,1 2,0.9 2,0.8 2,0.7 2,0.7 2,0.5 2,0.5 2,0.5 2,0.3 2,0.3 2,0.2 2,0.1 2,0.1 2,0 2,0 2,0 2,-0.1 2,-0.1 2,-0.2 2,-0.2 2,-0.2 2,-0.2 2,-0.3 2,-0.3 2,-0.3 2,-0.4 2,-0.4 2,-0.4 2,-0.4 2,-0.4 2,-0.4 2,-0.4 2,-0.4 2,-0.4 2,-0.4 2,-0.4 2,-0.4 2,-0.4 2,-0.3 2,-0.4 2,-0.4 2,-0.3 2,-0.4 2,-0.3 2,-0.3 2,-0.4 2,-0.3 2,-0.3 2,-0.4 2,-0.3 2,-0.3" stroke="#ff0000" stroke-width="9"/>
</g>
<rect x="2156.3" y="70.8" width="8.8" height="46.2" fill="#0000ff"/>
<path d="M1915.5,45.5 H2267.5 M1915.5,149.5 H2267.5" stroke="#5a5a5a" stroke-width="2.2" fill="none"/>
<path d="M1916.5,44.5 V150.5 M2266.5,44.5 V150.5" stroke="#262626" stroke-width="2.2" fill="none"/>
<text x="1943.1" y="190.3" font-size="34" fill="#5a5a5a" text-anchor="middle">0</text>
<text x="2096.2" y="190.3" font-size="34" fill="#5a5a5a" text-anchor="middle">50</text>
<text x="2249.4" y="190.3" font-size="34" fill="#5a5a5a" text-anchor="middle">100</text>
<path d="M1947.1,149.5 V145.3 M1947.1,45.5 V49.7 M2100.2,149.5 V145.3 M2100.2,45.5 V49.7 M2253.4,149.5 V145.3 M2253.4,45.5 V49.7" stroke="#5a5a5a" stroke-width="2" fill="none"/>
<text x="1903.3" y="66.4" font-size="34" fill="#262626" text-anchor="end">4</text>
<text x="1903.3" y="85.1" font-size="34" fill="#262626" text-anchor="end">2</text>
<text x="1903.3" y="103.7" font-size="34" fill="#262626" text-anchor="end">0</text>
<text x="1906.0" y="122.4" font-size="34" fill="#262626" text-anchor="end">-2</text>
<text x="1906.0" y="141.0" font-size="34" fill="#262626" text-anchor="end">-4</text>
<text x="1906.0" y="159.7" font-size="34" fill="#262626" text-anchor="end">-6</text>
<path d="M1916.5,53.0 H1920.7 M2266.5,53.0 H2262.3 M1916.5,71.7 H1920.7 M2266.5,71.7 H2262.3 M1916.5,90.3 H1920.7 M2266.5,90.3 H2262.3 M1916.5,109.0 H1920.7 M2266.5,109.0 H2262.3 M1916.5,127.6 H1920.7 M2266.5,127.6 H2262.3 M1916.5,146.2 H1920.7 M2266.5,146.2 H2262.3" stroke="#262626" stroke-width="2" fill="none"/>
<path d="M1921.6,20.6 l15.8,16 M1937.4,20.6 l-15.8,16" stroke="#262626" stroke-width="1.5"/>
<text x="1947.5" y="37.1" font-size="33" fill="#262626">10</text>
<text x="1992.5" y="20.1" font-size="26" fill="#262626">-7</text>
<text x="1947.5" y="82.5" font-size="34" fill="#000">PP</text>
<text x="2127.7" y="73.8" font-size="34" fill="#000">CCD.20</text>
<text x="1946.4" y="133.2" font-size="27.5" fill="#000" stroke="#000" stroke-width="0.3" font-family="Liberation Serif, serif">SNR=<tspan>5.4</tspan></text>
<text x="2127.7" y="135.6" font-size="34" fill="#000" stroke="#000" stroke-width="0.45" font-family="Liberation Serif, serif">191<tspan stroke-width="0">°</tspan>, 129<tspan stroke-width="0">°</tspan></text>
<clipPath id="c5"><rect x="41.5" y="228.5" width="355.5" height="116.0"/></clipPath>
<g clip-path="url(#c5)" fill="none" stroke-linejoin="round" stroke-linecap="round">
<path d="M41.5,283.5l2,-0.1 2,-0.1 2,-0.2 2,-0.3 2,-0.3 2,-0.3 2,-0.4 2,-0.4 2,-0.4 2,-0.4 2,-0.5 2,-0.4 2,-0.5 2,-0.6 2,-0.8 2,-0.8 2,-0.9 2,-0.8 2,-0.4 2,-0.1 2,0.3 2,0.4 2,0.5 2,0.6 2,0.4 2,0.5 2,0.3 2,0.4 2,0.3 2,0.3 2,0.1 2,0.1 2,-0.1 2,-0.1 2,-0.2 2,-0.3 2,-0.2 2,-0.4 2,-0.4 2,-0.5 2,-0.6 2,-0.8 2,-0.9 2,-1 2,-0.9 2,-0.9 2,-0.9 2,-0.9 2,-0.8 2,-0.9 2,-0.8 2,-0.7 2,-0.5 2,-0.1 2,0.3 2,0.9 2,1.5 2,1.8 2,2.3 2,2.7 2,3.1 2,3.5 2,3.8 2,3.9 2,3.8 2,3.9 2,3.9 2,4.2 2,4.7 2,5.2 2,5.3 2,4.7 2,3.5 2,1.8 2,0.4 2,-0.4 2,-0.9 2,-1.8 2,-2.9 2,-4.3 2,-5.3 2,-5.9 2,-5.9 2,-5.8 2,-5.6 2,-5.6 2,-5.5 2,-5.6 2,-5.6 2,-5.5 2,-5.2 2,-4.6 2,-3.8 2,-3 2,-2.6 2,-2.1 2,-1.7 2,-1.1 2,-0.7 2,0 2,0.3 2,0.7 2,1 2,1.3 2,1.8 2,2.4 2,3 2,3.4 2,3.7 2,3.9 2,4.2 2,4.1 2,4.1 2,3.9 2,3.5 2,3.3 2,2.8 2,2.1 2,1.2 2,0.4 2,-0.1 2,-0.5 2,-0.7 2,-1.1 2,-1.6 2,-2.3 2,-2.7 2,-2.7 2,-2.5 2,-2.1 2,-1.8 2,-1.5 2,-1.3 2,-0.9 2,-0.5 2,0 2,0.5 2,1 2,1.3 2,1.5 2,1.7 2,1.8 2,2 2,2.2 2,2.4 2,2.6 2,2.6 2,2.8 2,2.9 2,3 2,3 2,2.7 2,1.9 2,1.1 2,0.3 2,-0.2 2,-0.5 2,-0.7 2,-0.9 2,-1.2 2,-1.6 2,-1.9 2,-2.2 2,-2.3 2,-2.3 2,-2.3 2,-2.2 2,-2.1 2,-2 2,-1.8 2,-1.5 2,-1.3 2,-1.1 2,-0.9 2,-0.9 0.5,-0.2" stroke="#666666" stroke-width="9"/>
<path d="M41.5,283.5l2,-0.1 2,-0.1 2,0 2,-0.1 2,0 2,0 2,-0.1 2,0 2,0 2,-0.1 2,0 2,0 2,0 2,0 2,0 2,0 2,0 2,0 2,0 2,0.1 2,0 2,0.1 2,0 2,0.1 2,0.1 2,0.1 2,0.2 2,0.1 2,0.2 2,0.2 2,0.3 2,0.2 2,0.3 2,0.2 2,0.2 2,0.1 2,0.1 2,-0.2 2,-0.3 2,-0.5 2,-0.8 2,-1.1 2,-1.2 2,-1.5 2,-1.7 2,-1.7 2,-1.9 2,-1.8 2,-1.8 2,-1.6 2,-1.5 2,-1.3 2,-0.9 2,-0.7 2,-0.3 2,0.1 2,0.6 2,1 2,1.5 2,1.9 2,2.5 2,2.9 2,3.3 2,3.6 2,4.1 2,4.2 2,4.5 2,4.6 2,4.6 2,4.4 2,4.2 2,3.8 2,3.1 2,2.3 2,1.4 2,0.3 2,-0.6 2,-1.5 2,-2.4 2,-3.2 2,-3.7 2,-4.3 2,-4.7 2,-4.9 2,-5 2,-5.1 2,-5 2,-4.8 2,-4.7 2,-4.4 2,-4 2,-3.6 2,-3.1 2,-2.6 2,-2 2,-1.5 2,-0.9 2,-0.4 2,0.1 2,0.5 2,0.8 2,1 2,1.3 2,1.4 2,1.4 2,1.5 2,1.5 2,1.5 2,1.5 2,1.5 2,1.5 2,1.4 2,1.4 2,1.5 2,1.4 2,1.4 2,1.4 2,1.4 2,1.4 2,1.4 2,1.4 2,1.3 2,1.2 2,1.2 2,1.2 2,1 2,1 2,0.9 2,0.8 2,0.8 2,0.6 2,0.6 2,0.5 2,0.4 2,0.4 2,0.3 2,0.2 2,0.1 2,0.1 2,0.1 2,0 2,0 2,0 2,0 2,0 2,-0.1 2,-0.1 2,-0.1 2,-0.1 2,-0.2 2,-0.2 2,-0.3 2,-0.3 2,-0.3 2,-0.3 2,-0.3 2,-0.3 2,-0.4 2,-0.4 2,-0.3 2,-0.4 2,-0.4 2,-0.4 2,-0.4 2,-0.4 2,-0.3 2,-0.4 2,-0.4 2,-0.4 2,-0.4 2,-0.4 2,-0.4 2,-0.3 2,-0.4 2,-0.4 0.5,-0.1" stroke="#ff0000" stroke-width="9"/>
</g>
<rect x="280.9" y="262.8" width="8.8" height="44.5" fill="#0000ff"/>
<path d="M40.5,236.5 H393.0 M40.5,336.5 H393.0" stroke="#5a5a5a" stroke-width="2.2" fill="none"/>
<path d="M41.5,235.5 V337.5 M392.0,235.5 V337.5" stroke="#262626" stroke-width="2.2" fill="none"/>
<text x="68.2" y="377.3" font-size="34" fill="#5a5a5a" text-anchor="middle">0</text>
<text x="221.5" y="377.3" font-size="34" fill="#5a5a5a" text-anchor="middle">50</text>
<text x="374.9" y="377.3" font-size="34" fill="#5a5a5a" text-anchor="middle">100</text>
<path d="M72.2,336.5 V332.3 M72.2,236.5 V240.7 M225.5,336.5 V332.3 M225.5,236.5 V240.7 M378.9,336.5 V332.3 M378.9,236.5 V240.7" stroke="#5a5a5a" stroke-width="2" fill="none"/>
<text x="28.3" y="262.4" font-size="34" fill="#262626" text-anchor="end">5</text>
<text x="28.3" y="296.9" font-size="34" fill="#262626" text-anchor="end">0</text>
<text x="31.0" y="331.9" font-size="34" fill="#262626" text-anchor="end">-5</text>
<path d="M41.5,249.0 H45.7 M392.0,249.0 H387.8 M41.5,283.5 H45.7 M392.0,283.5 H387.8 M41.5,318.5 H45.7 M392.0,318.5 H387.8" stroke="#262626" stroke-width="2" fill="none"/>
<path d="M46.6,211.6 l15.8,16 M62.4,211.6 l-15.8,16" stroke="#262626" stroke-width="1.5"/>
<text x="72.5" y="228.1" font-size="33" fill="#262626">10</text>
<text x="117.5" y="211.1" font-size="26" fill="#262626">-7</text>
<text x="72.5" y="274.6" font-size="34" fill="#000">PP</text>
<text x="253.0" y="265.8" font-size="34" fill="#000">COYC.00</text>
<text x="71.5" y="323.4" font-size="27.5" fill="#000" stroke="#000" stroke-width="0.3" font-family="Liberation Serif, serif">SNR=<tspan>6.7</tspan></text>
<text x="253.0" y="325.9" font-size="34" fill="#000" stroke="#000" stroke-width="0.45" font-family="Liberation Serif, serif">100<tspan stroke-width="0">°</tspan>, 147<tspan stroke-width="0">°</tspan></text>
<clipPath id="c6"><rect x="508.5" y="228.5" width="359.5" height="116.0"/></clipPath>
<g clip-path="url(#c6)" fill="none" stroke-linejoin="round" stroke-linecap="round">
<path d="M508.5,283.0l2,-0.2 2,-0.2 2,-0.3 2,-0.3 2,-0.3 2,-0.4 2,-0.4 2,-0.4 2,-0.5 2,-0.5 2,-0.5 2,-0.5 2,-0.5 2,-0.7 2,-0.7 2,-0.9 2,-0.9 2,-0.7 2,-0.4 2,-0.1 2,0.3 2,0.4 2,0.5 2,0.6 2,0.4 2,0.4 2,0.3 2,0.2 2,0.2 2,0.2 2,0.1 2,0 2,0 2,-0.1 2,-0.1 2,-0.2 2,-0.2 2,-0.2 2,-0.3 2,-0.5 2,-0.6 2,-0.8 2,-0.9 2,-1 2,-1 2,-0.9 2,-0.8 2,-0.9 2,-0.9 2,-0.8 2,-0.9 2,-0.7 2,-0.5 2,-0.1 2,0.5 2,1.1 2,1.7 2,2.2 2,2.5 2,2.8 2,3.2 2,3.6 2,3.7 2,3.9 2,3.9 2,3.9 2,4 2,4.1 2,4.3 2,4.6 2,4.6 2,4.3 2,3.3 2,2.1 2,0.8 2,0 2,-0.5 2,-0.7 2,-1.3 2,-2.3 2,-3.6 2,-4.7 2,-5.6 2,-5.9 2,-6.1 2,-6.1 2,-6.2 2,-6.1 2,-5.9 2,-5.7 2,-5.5 2,-5 2,-4.4 2,-3.6 2,-2.9 2,-2.4 2,-2 2,-1.6 2,-1.1 2,-0.7 2,-0.1 2,0.2 2,0.6 2,0.9 2,1.2 2,1.7 2,2.3 2,2.8 2,3.3 2,3.7 2,3.8 2,4.1 2,4.2 2,4.1 2,3.9 2,3.7 2,3.3 2,3 2,2.3 2,1.4 2,0.6 2,0 2,-0.4 2,-0.7 2,-1 2,-1.6 2,-2.3 2,-2.9 2,-3 2,-2.8 2,-2.4 2,-1.9 2,-1.6 2,-1.3 2,-1 2,-0.6 2,-0.1 2,0.4 2,0.8 2,1.2 2,1.5 2,1.7 2,1.8 2,2.1 2,2.4 2,2.6 2,2.8 2,2.8 2,2.8 2,2.9 2,2.8 2,2.8 2,2.4 2,1.9 2,1.2 2,0.5 2,0 2,-0.2 2,-0.3 2,-0.5 2,-0.9 2,-1.3 2,-1.9 2,-2.2 2,-2.4 2,-2.4 2,-2.2 2,-2 2,-1.9 2,-1.7 2,-1.6 2,-1.4 2,-1.1 2,-1.1 2,-0.9 2,-0.7 2,-0.8 0.5,-0.1" stroke="#666666" stroke-width="9"/>
<path d="M508.5,282.9l2,0 2,-0.1 2,-0.1 2,-0.1 2,0 2,-0.1 2,-0.1 2,0 2,-0.1 2,0 2,0 2,0 2,-0.1 2,0 2,0 2,0 2,0.1 2,0 2,0 2,0.1 2,0 2,0.1 2,0.1 2,0.1 2,0.1 2,0.2 2,0.1 2,0.2 2,0.2 2,0.2 2,0.3 2,0.2 2,0.2 2,0.2 2,0.2 2,0.1 2,0 2,-0.2 2,-0.4 2,-0.6 2,-0.9 2,-1.1 2,-1.4 2,-1.5 2,-1.7 2,-1.8 2,-1.9 2,-1.8 2,-1.8 2,-1.6 2,-1.4 2,-1.2 2,-0.8 2,-0.6 2,-0.2 2,0.2 2,0.7 2,1.1 2,1.6 2,2.1 2,2.5 2,3 2,3.4 2,3.7 2,4 2,4.3 2,4.4 2,4.5 2,4.5 2,4.4 2,4.1 2,3.7 2,3.1 2,2.4 2,1.4 2,0.4 2,-0.5 2,-1.5 2,-2.3 2,-3.1 2,-3.8 2,-4.3 2,-4.6 2,-5 2,-5 2,-5.1 2,-5 2,-4.9 2,-4.7 2,-4.4 2,-4.1 2,-3.6 2,-3.1 2,-2.6 2,-2 2,-1.4 2,-0.8 2,-0.4 2,0.2 2,0.5 2,0.8 2,1.1 2,1.2 2,1.3 2,1.5 2,1.4 2,1.5 2,1.5 2,1.5 2,1.5 2,1.5 2,1.4 2,1.5 2,1.4 2,1.4 2,1.4 2,1.5 2,1.4 2,1.4 2,1.3 2,1.3 2,1.3 2,1.2 2,1.1 2,1 2,1 2,0.9 2,0.8 2,0.8 2,0.7 2,0.6 2,0.6 2,0.5 2,0.5 2,0.4 2,0.4 2,0.3 2,0.3 2,0.2 2,0.1 2,0.1 2,0 2,0.1 2,0 2,-0.1 2,0 2,-0.1 2,-0.1 2,-0.1 2,-0.2 2,-0.2 2,-0.2 2,-0.3 2,-0.3 2,-0.4 2,-0.4 2,-0.3 2,-0.4 2,-0.4 2,-0.4 2,-0.4 2,-0.5 2,-0.4 2,-0.4 2,-0.4 2,-0.4 2,-0.4 2,-0.4 2,-0.4 2,-0.4 2,-0.4 2,-0.3 2,-0.4 2,-0.4 2,-0.4 2,-0.3 2,-0.4 0.5,-0.1" stroke="#ff0000" stroke-width="9"/>
</g>
<rect x="750.4" y="262.8" width="8.8" height="43.8" fill="#0000ff"/>
<path d="M507.5,236.5 H864.0 M507.5,336.5 H864.0" stroke="#5a5a5a" stroke-width="2.2" fill="none"/>
<path d="M508.5,235.5 V337.5 M863.0,235.5 V337.5" stroke="#262626" stroke-width="2.2" fill="none"/>
<text x="535.5" y="377.3" font-size="34" fill="#5a5a5a" text-anchor="middle">0</text>
<text x="690.6" y="377.3" font-size="34" fill="#5a5a5a" text-anchor="middle">50</text>
<text x="845.7" y="377.3" font-size="34" fill="#5a5a5a" text-anchor="middle">100</text>
<path d="M539.5,336.5 V332.3 M539.5,236.5 V240.7 M694.6,336.5 V332.3 M694.6,236.5 V240.7 M849.7,336.5 V332.3 M849.7,236.5 V240.7" stroke="#5a5a5a" stroke-width="2" fill="none"/>
<text x="495.3" y="260.6" font-size="34" fill="#262626" text-anchor="end">5</text>
<text x="495.3" y="295.6" font-size="34" fill="#262626" text-anchor="end">0</text>
<text x="498.0" y="330.6" font-size="34" fill="#262626" text-anchor="end">-5</text>
<path d="M508.5,247.2 H512.7 M863.0,247.2 H858.8 M508.5,282.2 H512.7 M863.0,282.2 H858.8 M508.5,317.2 H512.7 M863.0,317.2 H858.8" stroke="#262626" stroke-width="2" fill="none"/>
<path d="M513.6,211.6 l15.8,16 M529.4,211.6 l-15.8,16" stroke="#262626" stroke-width="1.5"/>
<text x="539.5" y="228.1" font-size="33" fill="#262626">10</text>
<text x="584.5" y="211.1" font-size="26" fill="#262626">-7</text>
<text x="539.9" y="274.6" font-size="34" fill="#000">PP</text>
<text x="722.4" y="265.8" font-size="34" fill="#000">COYC.10</text>
<text x="538.8" y="322.7" font-size="27.5" fill="#000" stroke="#000" stroke-width="0.3" font-family="Liberation Serif, serif">SNR=<tspan>6</tspan></text>
<text x="722.4" y="325.1" font-size="34" fill="#000" stroke="#000" stroke-width="0.45" font-family="Liberation Serif, serif">100<tspan stroke-width="0">°</tspan>, 147<tspan stroke-width="0">°</tspan></text>
<clipPath id="c7"><rect x="979.5" y="228.5" width="355.0" height="116.0"/></clipPath>
<g clip-path="url(#c7)" fill="none" stroke-linejoin="round" stroke-linecap="round">
<path d="M979.5,278.5l2,-0.3 2,-0.2 2,-0.3 2,-0.3 2,-0.2 2,-0.3 2,-0.2 2,-0.2 2,-0.3 2,-0.2 2,-0.2 2,-0.3 2,-0.2 2,-0.2 2,-0.2 2,-0.3 2,-0.2 2,-0.3 2,-0.3 2,-0.2 2,-0.1 2,0.1 2,0.3 2,0.5 2,0.5 2,0.3 2,0.3 2,0 2,-0.1 2,-0.1 2,-0.2 2,-0.2 2,-0.2 2,-0.2 2,-0.2 2,-0.2 2,-0.3 2,-0.5 2,-1 2,-1.6 2,-2.5 2,-3.2 2,-3.5 2,-3.3 2,-3.1 2,-2.7 2,-2.3 2,-1.7 2,-0.8 2,-0.1 2,0.6 2,1.1 2,1.7 2,2.1 2,2.9 2,3.9 2,4.5 2,5.1 2,5.1 2,4.9 2,4.9 2,4.9 2,5.2 2,5.7 2,6.5 2,6.9 2,6.6 2,5.3 2,3.2 2,1.3 2,0 2,-0.7 2,-1.2 2,-1.8 2,-2.7 2,-4 2,-5 2,-5.8 2,-5.9 2,-5.9 2,-5.7 2,-5.6 2,-5.5 2,-5.4 2,-5.2 2,-5 2,-4.7 2,-4.2 2,-3.8 2,-3.2 2,-2.7 2,-2.2 2,-1.6 2,-0.8 2,0 2,0.8 2,1.3 2,1.6 2,1.8 2,1.8 2,2.1 2,2.2 2,2.3 2,2.3 2,2.4 2,2.2 2,2.2 2,2.1 2,2.1 2,1.9 2,1.8 2,1.7 2,1.7 2,1.6 2,1.4 2,1.2 2,0.8 2,0.3 2,0 2,-0.2 2,-0.5 2,-0.5 2,-0.5 2,-0.6 2,-0.6 2,-0.7 2,-0.8 2,-0.7 2,-0.6 2,-0.3 2,-0.1 2,0 2,0.2 2,0.2 2,0.2 2,0.3 2,0.4 2,0.6 2,0.6 2,0.9 2,0.9 2,1 2,0.9 2,0.9 2,0.8 2,0.9 2,0.9 2,1.1 2,1.4 2,1.8 2,2.1 2,2.4 2,2.4 2,2.2 2,2 2,1.7 2,1.4 2,1 2,0.5 2,0.2 2,-0.3 2,-0.6 2,-1 2,-1.6 2,-2.7 2,-3.8 2,-4.8 2,-5.1 2,-4.8 2,-4.2 2,-3.6 2,-3.2 2,-2.8 2,-2.7 2,-2.6" stroke="#666666" stroke-width="9"/>
<path d="M979.5,278.5l2,0 2,0 2,0 2,0 2,0 2,0 2,0 2,0 2,0 2,0 2,0 2,0 2,-0.1 2,0 2,0 2,0 2,0 2,0.1 2,0.1 2,0.1 2,0.1 2,0.2 2,0.2 2,0.2 2,0.3 2,0.2 2,0.3 2,0.3 2,0.2 2,0.1 2,0 2,-0.2 2,-0.5 2,-0.8 2,-1.1 2,-1.4 2,-1.8 2,-2.1 2,-2.4 2,-2.7 2,-2.7 2,-2.8 2,-2.7 2,-2.6 2,-2.3 2,-2 2,-1.5 2,-1.1 2,-0.6 2,0 2,0.5 2,1.2 2,1.7 2,2.3 2,2.9 2,3.4 2,3.9 2,4.4 2,4.7 2,5.1 2,5.4 2,5.5 2,5.5 2,5.6 2,5.4 2,5 2,4.5 2,3.7 2,3 2,1.9 2,1 2,0.1 2,-0.9 2,-1.7 2,-2.7 2,-3.4 2,-4.2 2,-4.7 2,-5.3 2,-5.6 2,-5.8 2,-5.9 2,-5.9 2,-5.9 2,-5.6 2,-5.3 2,-5 2,-4.4 2,-3.8 2,-3.2 2,-2.5 2,-1.8 2,-1.2 2,-0.5 2,0 2,0.5 2,1 2,1.3 2,1.6 2,1.8 2,1.9 2,2 2,2.1 2,2 2,2.1 2,1.9 2,1.9 2,1.8 2,1.7 2,1.6 2,1.6 2,1.5 2,1.4 2,1.4 2,1.4 2,1.3 2,1.3 2,1.2 2,1.2 2,1.1 2,1 2,1 2,1 2,0.8 2,0.8 2,0.8 2,0.7 2,0.6 2,0.6 2,0.4 2,0.4 2,0.4 2,0.3 2,0.2 2,0.2 2,0.2 2,0.1 2,0.1 2,0.1 2,0 2,0 2,0 2,-0.1 2,-0.1 2,-0.1 2,-0.2 2,-0.2 2,-0.2 2,-0.3 2,-0.2 2,-0.3 2,-0.3 2,-0.3 2,-0.4 2,-0.3 2,-0.4 2,-0.4 2,-0.4 2,-0.4 2,-0.4 2,-0.4 2,-0.4 2,-0.4 2,-0.3 2,-0.4 2,-0.4 2,-0.4 2,-0.4 2,-0.3 2,-0.4 2,-0.4 2,-0.4 2,-0.3 2,-0.4 2,-0.4" stroke="#ff0000" stroke-width="9"/>
</g>
<rect x="1218.8" y="259.2" width="8.8" height="44.8" fill="#0000ff"/>
<path d="M978.5,236.5 H1330.5 M978.5,336.5 H1330.5" stroke="#5a5a5a" stroke-width="2.2" fill="none"/>
<path d="M979.5,235.5 V337.5 M1329.5,235.5 V337.5" stroke="#262626" stroke-width="2.2" fill="none"/>
<text x="1006.1" y="377.3" font-size="34" fill="#5a5a5a" text-anchor="middle">0</text>
<text x="1159.2" y="377.3" font-size="34" fill="#5a5a5a" text-anchor="middle">50</text>
<text x="1312.4" y="377.3" font-size="34" fill="#5a5a5a" text-anchor="middle">100</text>
<path d="M1010.1,336.5 V332.3 M1010.1,236.5 V240.7 M1163.2,336.5 V332.3 M1163.2,236.5 V240.7 M1316.4,336.5 V332.3 M1316.4,236.5 V240.7" stroke="#5a5a5a" stroke-width="2" fill="none"/>
<text x="966.3" y="256.9" font-size="34" fill="#262626" text-anchor="end">5</text>
<text x="966.3" y="291.9" font-size="34" fill="#262626" text-anchor="end">0</text>
<text x="969.0" y="325.6" font-size="34" fill="#262626" text-anchor="end">-5</text>
<path d="M979.5,243.5 H983.7 M1329.5,243.5 H1325.3 M979.5,278.5 H983.7 M1329.5,278.5 H1325.3 M979.5,312.2 H983.7 M1329.5,312.2 H1325.3" stroke="#262626" stroke-width="2" fill="none"/>
<path d="M984.6,211.6 l15.8,16 M1000.4,211.6 l-15.8,16" stroke="#262626" stroke-width="1.5"/>
<text x="1010.5" y="228.1" font-size="33" fill="#262626">10</text>
<text x="1055.5" y="211.1" font-size="26" fill="#262626">-7</text>
<text x="1010.5" y="271.1" font-size="34" fill="#000">PP</text>
<text x="1190.7" y="262.2" font-size="34" fill="#000">CRZF.00</text>
<text x="1009.4" y="320.2" font-size="27.5" fill="#000" stroke="#000" stroke-width="0.3" font-family="Liberation Serif, serif">SNR=<tspan>11.6</tspan></text>
<text x="1190.7" y="322.6" font-size="34" fill="#000" stroke="#000" stroke-width="0.45" font-family="Liberation Serif, serif">246<tspan stroke-width="0">°</tspan>, 134<tspan stroke-width="0">°</tspan></text>
<clipPath id="c8"><rect x="1446.0" y="228.5" width="359.0" height="116.0"/></clipPath>
<g clip-path="url(#c8)" fill="none" stroke-linejoin="round" stroke-linecap="round">
<path d="M1446.0,278.5l2,-0.1 2,-0.2 2,-0.2 2,-0.1 2,-0.2 2,-0.3 2,-0.2 2,-0.2 2,-0.2 2,-0.3 2,-0.2 2,-0.3 2,-0.3 2,-0.2 2,-0.3 2,-0.3 2,-0.4 2,-0.4 2,-0.4 2,-0.4 2,-0.2 2,0 2,0.2 2,0.3 2,0.4 2,0.4 2,0.2 2,0.1 2,0.1 2,0 2,0 2,0 2,0 2,-0.1 2,-0.2 2,-0.3 2,-0.4 2,-0.7 2,-0.8 2,-1.1 2,-1.5 2,-2 2,-2.5 2,-2.8 2,-2.7 2,-2.5 2,-2.3 2,-1.9 2,-1.7 2,-1.2 2,-0.8 2,-0.1 2,0.4 2,0.9 2,1.4 2,1.8 2,2.6 2,3.3 2,4.2 2,4.7 2,4.8 2,4.8 2,4.6 2,4.8 2,5.2 2,6 2,7.1 2,7.8 2,7.5 2,5.8 2,3.4 2,1.1 2,-0.4 2,-1.3 2,-2.1 2,-3 2,-4.3 2,-5.3 2,-6 2,-6.2 2,-5.9 2,-5.8 2,-5.6 2,-5.5 2,-5.3 2,-5.1 2,-4.9 2,-4.7 2,-4.3 2,-3.9 2,-3.4 2,-3 2,-2.6 2,-1.8 2,-0.9 2,0.1 2,0.9 2,1.6 2,1.9 2,2.1 2,2.1 2,2.3 2,2.5 2,2.5 2,2.5 2,2.4 2,2.4 2,2.2 2,2.1 2,2.1 2,1.9 2,1.8 2,1.7 2,1.6 2,1.6 2,1.4 2,1.2 2,0.8 2,0.4 2,0.1 2,-0.1 2,-0.3 2,-0.2 2,-0.3 2,-0.3 2,-0.5 2,-0.6 2,-0.6 2,-0.7 2,-0.7 2,-0.5 2,-0.4 2,-0.3 2,-0.2 2,-0.2 2,-0.2 2,-0.1 2,-0.1 2,0 2,0.3 2,0.6 2,0.8 2,1 2,1 2,1 2,1 2,0.8 2,0.9 2,1 2,1 2,1.2 2,1.5 2,1.8 2,2 2,2.1 2,2.2 2,2.3 2,2.2 2,2.1 2,1.7 2,1 2,0.4 2,-0.3 2,-0.7 2,-1.2 2,-1.8 2,-2.6 2,-3.7 2,-4.6 2,-5 2,-4.9 2,-4.4 2,-3.8 2,-3.3 2,-3.1 2,-2.8 2,-2.8" stroke="#666666" stroke-width="9"/>
<path d="M1446.0,278.5l2,-0.1 2,-0.1 2,0 2,-0.1 2,0 2,0 2,-0.1 2,0 2,0 2,-0.1 2,0 2,0 2,0 2,0 2,0 2,-0.1 2,0.1 2,0 2,0 2,0.1 2,0.1 2,0.1 2,0.1 2,0.2 2,0.2 2,0.2 2,0.3 2,0.3 2,0.3 2,0.3 2,0.3 2,0.2 2,0 2,-0.1 2,-0.4 2,-0.7 2,-1 2,-1.4 2,-1.7 2,-2 2,-2.4 2,-2.5 2,-2.8 2,-2.7 2,-2.7 2,-2.6 2,-2.3 2,-1.9 2,-1.6 2,-1.1 2,-0.5 2,-0.1 2,0.5 2,1.1 2,1.6 2,2.2 2,2.7 2,3.2 2,3.6 2,4.1 2,4.6 2,4.8 2,5.1 2,5.4 2,5.4 2,5.4 2,5.3 2,5 2,4.5 2,3.9 2,3 2,2.1 2,1.1 2,0.1 2,-0.9 2,-1.9 2,-2.7 2,-3.5 2,-4.2 2,-4.7 2,-5.2 2,-5.5 2,-5.7 2,-5.7 2,-5.7 2,-5.5 2,-5.3 2,-4.9 2,-4.5 2,-4 2,-3.5 2,-2.9 2,-2.3 2,-1.7 2,-1.2 2,-0.7 2,-0.2 2,0.3 2,0.6 2,1 2,1.2 2,1.5 2,1.6 2,1.7 2,1.8 2,1.9 2,1.9 2,1.8 2,1.9 2,1.8 2,1.7 2,1.6 2,1.6 2,1.5 2,1.5 2,1.3 2,1.4 2,1.2 2,1.2 2,1.2 2,1.2 2,1.1 2,1.1 2,1 2,1 2,1 2,0.9 2,0.9 2,0.8 2,0.7 2,0.7 2,0.6 2,0.5 2,0.5 2,0.4 2,0.4 2,0.3 2,0.2 2,0.2 2,0.2 2,0.1 2,0.1 2,0.1 2,0 2,0 2,0 2,-0.1 2,-0.1 2,-0.1 2,-0.2 2,-0.2 2,-0.3 2,-0.3 2,-0.3 2,-0.3 2,-0.3 2,-0.4 2,-0.3 2,-0.4 2,-0.4 2,-0.4 2,-0.4 2,-0.3 2,-0.4 2,-0.4 2,-0.4 2,-0.4 2,-0.3 2,-0.4 2,-0.4 2,-0.3 2,-0.4 2,-0.3 2,-0.4 2,-0.4 2,-0.3 2,-0.4" stroke="#ff0000" stroke-width="9"/>
</g>
<rect x="1688.1" y="259.2" width="8.8" height="45.5" fill="#0000ff"/>
<path d="M1445.0,236.5 H1801.0 M1445.0,336.5 H1801.0" stroke="#5a5a5a" stroke-width="2.2" fill="none"/>
<path d="M1446.0,235.5 V337.5 M1800.0,235.5 V337.5" stroke="#262626" stroke-width="2.2" fill="none"/>
<text x="1473.0" y="377.3" font-size="34" fill="#5a5a5a" text-anchor="middle">0</text>
<text x="1627.8" y="377.3" font-size="34" fill="#5a5a5a" text-anchor="middle">50</text>
<text x="1782.7" y="377.3" font-size="34" fill="#5a5a5a" text-anchor="middle">100</text>
<path d="M1477.0,336.5 V332.3 M1477.0,236.5 V240.7 M1631.8,336.5 V332.3 M1631.8,236.5 V240.7 M1786.7,336.5 V332.3 M1786.7,236.5 V240.7" stroke="#5a5a5a" stroke-width="2" fill="none"/>
<text x="1432.8" y="257.4" font-size="34" fill="#262626" text-anchor="end">5</text>
<text x="1432.8" y="291.9" font-size="34" fill="#262626" text-anchor="end">0</text>
<text x="1435.5" y="324.9" font-size="34" fill="#262626" text-anchor="end">-5</text>
<path d="M1446.0,244.0 H1450.2 M1800.0,244.0 H1795.8 M1446.0,278.5 H1450.2 M1800.0,278.5 H1795.8 M1446.0,311.5 H1450.2 M1800.0,311.5 H1795.8" stroke="#262626" stroke-width="2" fill="none"/>
<path d="M1451.1,211.6 l15.8,16 M1466.9,211.6 l-15.8,16" stroke="#262626" stroke-width="1.5"/>
<text x="1477.0" y="228.1" font-size="33" fill="#262626">10</text>
<text x="1522.0" y="211.1" font-size="26" fill="#262626">-7</text>
<text x="1477.3" y="271.1" font-size="34" fill="#000">PP</text>
<text x="1659.6" y="262.2" font-size="34" fill="#000">CRZF.10</text>
<text x="1476.3" y="320.9" font-size="27.5" fill="#000" stroke="#000" stroke-width="0.3" font-family="Liberation Serif, serif">SNR=<tspan>11.7</tspan></text>
<text x="1659.6" y="323.4" font-size="34" fill="#000" stroke="#000" stroke-width="0.45" font-family="Liberation Serif, serif">246<tspan stroke-width="0">°</tspan>, 134<tspan stroke-width="0">°</tspan></text>
<clipPath id="c9"><rect x="1916.5" y="228.5" width="355.0" height="116.0"/></clipPath>
<g clip-path="url(#c9)" fill="none" stroke-linejoin="round" stroke-linecap="round">
<path d="M1916.5,279.7l2,0.1 2,0 2,0 2,0 2,0.1 2,0 2,0.1 2,0.1 2,0.1 2,0.1 2,0.1 2,0.1 2,0.1 2,0.1 2,0.3 2,0.4 2,0.7 2,0.9 2,1 2,0.8 2,0.5 2,0.1 2,-0.4 2,-0.7 2,-0.8 2,-1 2,-0.9 2,-0.8 2,-0.6 2,-0.7 2,-0.6 2,-0.5 2,-0.6 2,-0.5 2,-0.5 2,-0.5 2,-0.5 2,-0.5 2,-0.6 2,-0.5 2,-0.7 2,-0.7 2,-0.8 2,-1.1 2,-1.4 2,-1.6 2,-1.8 2,-1.7 2,-1.3 2,-0.6 2,0 2,0.7 2,1.1 2,1.6 2,2.1 2,2.7 2,3.4 2,4.1 2,4.4 2,4.6 2,4.6 2,4.5 2,4.6 2,4.6 2,4.7 2,4.7 2,4.6 2,3.9 2,2.6 2,0.8 2,-1 2,-2.3 2,-3.4 2,-4.2 2,-5 2,-5.9 2,-6.4 2,-6.4 2,-5.9 2,-5.3 2,-4.7 2,-4.5 2,-4.2 2,-4.3 2,-4.3 2,-4.2 2,-4 2,-3.3 2,-2.7 2,-2 2,-1.4 2,-1 2,-0.5 2,0 2,0.4 2,0.8 2,1 2,1.2 2,1.5 2,1.8 2,2.2 2,2.5 2,2.8 2,3 2,3.1 2,3.2 2,3.3 2,3.4 2,3.3 2,3.2 2,3 2,2.8 2,2.5 2,2.2 2,1.9 2,1.4 2,1 2,0.7 2,0.5 2,0.4 2,0.3 2,0.1 2,0 2,-0.2 2,-0.5 2,-0.8 2,-0.8 2,-0.8 2,-0.9 2,-0.7 2,-0.7 2,-0.7 2,-0.6 2,-0.6 2,-0.6 2,-0.4 2,-0.2 2,-0.1 2,0.1 2,0.3 2,0.4 2,0.4 2,0.6 2,0.7 2,1 2,1.1 2,1.3 2,1.1 2,0.9 2,0.6 2,0.3 2,0.1 2,0.1 2,-0.1 2,-0.3 2,-0.8 2,-1.5 2,-2.1 2,-2.4 2,-2.3 2,-2.1 2,-1.8 2,-1.7 2,-1.6 2,-1.5 2,-1.4 2,-1.4 2,-1.3 2,-1.3 2,-1.3 2,-1.2 2,-1.1 2,-1.1 2,-1 2,-1" stroke="#666666" stroke-width="9"/>
<path d="M1916.5,279.7l2,0.1 2,0 2,0 2,0 2,0 2,0 2,0 2,0 2,0 2,0 2,0 2,-0.1 2,0 2,0 2,0 2,0 2,0 2,0 2,0 2,0 2,0.1 2,0.1 2,0 2,0.2 2,0.1 2,0.2 2,0.2 2,0.3 2,0.3 2,0.2 2,0.2 2,0.2 2,0 2,-0.2 2,-0.4 2,-0.7 2,-1 2,-1.4 2,-1.8 2,-2 2,-2.3 2,-2.5 2,-2.6 2,-2.5 2,-2.4 2,-2.2 2,-1.8 2,-1.5 2,-1 2,-0.4 2,0.2 2,0.8 2,1.5 2,2.2 2,2.8 2,3.4 2,4 2,4.5 2,4.8 2,5.2 2,5.5 2,5.5 2,5.6 2,5.5 2,5.2 2,4.8 2,4.2 2,3.4 2,2.3 2,1.2 2,0.1 2,-1.1 2,-2.1 2,-3.1 2,-3.9 2,-4.6 2,-5.1 2,-5.5 2,-5.7 2,-5.9 2,-5.8 2,-5.8 2,-5.6 2,-5.2 2,-4.9 2,-4.5 2,-4 2,-3.4 2,-2.9 2,-2.4 2,-1.7 2,-1.2 2,-0.7 2,-0.2 2,0.3 2,0.6 2,1 2,1.2 2,1.4 2,1.7 2,1.7 2,1.8 2,1.9 2,1.8 2,1.9 2,1.9 2,1.8 2,1.7 2,1.8 2,1.7 2,1.6 2,1.7 2,1.6 2,1.6 2,1.5 2,1.6 2,1.5 2,1.4 2,1.4 2,1.4 2,1.2 2,1.2 2,1.2 2,1 2,1 2,0.8 2,0.8 2,0.6 2,0.6 2,0.4 2,0.4 2,0.3 2,0.3 2,0.2 2,0.1 2,0.1 2,0 2,0 2,0 2,-0.1 2,0 2,-0.1 2,-0.2 2,-0.1 2,-0.2 2,-0.2 2,-0.2 2,-0.2 2,-0.3 2,-0.3 2,-0.3 2,-0.3 2,-0.3 2,-0.4 2,-0.4 2,-0.4 2,-0.4 2,-0.4 2,-0.4 2,-0.5 2,-0.5 2,-0.4 2,-0.5 2,-0.5 2,-0.5 2,-0.5 2,-0.5 2,-0.5 2,-0.5 2,-0.5 2,-0.5 2,-0.5 2,-0.5 2,-0.5 2,-0.6" stroke="#ff0000" stroke-width="9"/>
</g>
<rect x="2156.3" y="260.5" width="8.8" height="44.8" fill="#0000ff"/>
<path d="M1915.5,236.5 H2267.5 M1915.5,336.5 H2267.5" stroke="#5a5a5a" stroke-width="2.2" fill="none"/>
<path d="M1916.5,235.5 V337.5 M2266.5,235.5 V337.5" stroke="#262626" stroke-width="2.2" fill="none"/>
<text x="1943.1" y="377.3" font-size="34" fill="#5a5a5a" text-anchor="middle">0</text>
<text x="2096.2" y="377.3" font-size="34" fill="#5a5a5a" text-anchor="middle">50</text>
<text x="2249.4" y="377.3" font-size="34" fill="#5a5a5a" text-anchor="middle">100</text>
<path d="M1947.1,336.5 V332.3 M1947.1,236.5 V240.7 M2100.2,336.5 V332.3 M2100.2,236.5 V240.7 M2253.4,336.5 V332.3 M2253.4,236.5 V240.7" stroke="#5a5a5a" stroke-width="2" fill="none"/>
<text x="1903.3" y="251.9" font-size="34" fill="#262626" text-anchor="end">4</text>
<text x="1903.3" y="271.9" font-size="34" fill="#262626" text-anchor="end">2</text>
<text x="1903.3" y="292.4" font-size="34" fill="#262626" text-anchor="end">0</text>
<text x="1906.0" y="313.1" font-size="34" fill="#262626" text-anchor="end">-2</text>
<text x="1906.0" y="333.9" font-size="34" fill="#262626" text-anchor="end">-4</text>
<path d="M1916.5,238.5 H1920.7 M2266.5,238.5 H2262.3 M1916.5,258.5 H1920.7 M2266.5,258.5 H2262.3 M1916.5,279.0 H1920.7 M2266.5,279.0 H2262.3 M1916.5,299.8 H1920.7 M2266.5,299.8 H2262.3 M1916.5,320.5 H1920.7 M2266.5,320.5 H2262.3" stroke="#262626" stroke-width="2" fill="none"/>
<path d="M1921.6,211.6 l15.8,16 M1937.4,211.6 l-15.8,16" stroke="#262626" stroke-width="1.5"/>
<text x="1947.5" y="228.1" font-size="33" fill="#262626">10</text>
<text x="1992.5" y="211.1" font-size="26" fill="#262626">-7</text>
<text x="1947.5" y="272.3" font-size="34" fill="#000">PP</text>
<text x="2127.7" y="263.5" font-size="34" fill="#000">DRV.00</text>
<text x="1946.4" y="321.4" font-size="27.5" fill="#000" stroke="#000" stroke-width="0.3" font-family="Liberation Serif, serif">SNR=<tspan>7.6</tspan></text>
<text x="2127.7" y="323.9" font-size="34" fill="#000" stroke="#000" stroke-width="0.45" font-family="Liberation Serif, serif">188<tspan stroke-width="0">°</tspan>, 119<tspan stroke-width="0">°</tspan></text>
<clipPath id="c10"><rect x="41.5" y="415.5" width="355.5" height="121.0"/></clipPath>
<g clip-path="url(#c10)" fill="none" stroke-linejoin="round" stroke-linecap="round">
<path d="M41.5,476.2l2,0 2,0 2,0.1 2,0 2,0 2,0 2,0 2,0 2,-0.1 2,0 2,0 2,0 2,0 2,0.1 2,0 2,0 2,-0.1 2,0 2,0 2,-0.1 2,-0.1 2,-0.1 2,-0.2 2,-0.1 2,-0.1 2,0 2,0.1 2,0.4 2,0.6 2,0.7 2,0.5 2,0 2,-0.5 2,-1.3 2,-2.1 2,-2.7 2,-3.3 2,-3.4 2,-2.9 2,-2.2 2,-1.4 2,-0.9 2,-0.3 2,0.3 2,1.1 2,1.8 2,2.5 2,3 2,3.5 2,4.2 2,4.6 2,5 2,5.1 2,5.4 2,5.5 2,5.5 2,5.4 2,5.1 2,4.2 2,2.7 2,0.9 2,-0.7 2,-2.2 2,-3.3 2,-4.4 2,-5.7 2,-6.7 2,-7.2 2,-7.4 2,-7.2 2,-7.1 2,-6.8 2,-6.3 2,-5.8 2,-5.2 2,-4.7 2,-4 2,-3.3 2,-2.3 2,-1.5 2,-0.9 2,-0.6 2,0 2,0.5 2,1.5 2,2.4 2,3.1 2,3.5 2,3.8 2,4 2,4.1 2,4.2 2,4.1 2,4.1 2,3.8 2,3.6 2,3.2 2,2.7 2,2.2 2,1.8 2,1.5 2,1.2 2,0.9 2,0.6 2,0.4 2,0.3 2,0.3 2,0.4 2,0.4 2,0.6 2,0.7 2,0.9 2,0.9 2,0.8 2,0.6 2,0.4 2,0.2 2,-0.2 2,-0.3 2,-0.5 2,-0.5 2,-0.4 2,-0.4 2,-0.2 2,0 2,0 2,0 2,0 2,0 2,0 2,0 2,0 2,0 2,0 2,0 2,0 2,0 2,0 2,0 2,-0.1 2,-0.4 2,-0.5 2,-0.7 2,-0.8 2,-0.9 2,-0.9 2,-0.9 2,-1 2,-1.1 2,-1.2 2,-1.2 2,-1.3 2,-1.2 2,-1.2 2,-1.3 2,-1.2 2,-1.2 2,-1.2 2,-1.2 2,-1.1 2,-1.1 2,-1.1 2,-1.1 2,-1.1 2,-1 2,-1 2,-0.8 2,-0.6 2,-0.3 2,-0.1 2,0 2,0.2 2,0.2 2,0.3 2,0.4 0.5,0.1" stroke="#666666" stroke-width="9"/>
<path d="M41.5,476.3l2,0 2,0 2,0 2,-0.1 2,0 2,0 2,0 2,0 2,0 2,0 2,0 2,0 2,0 2,0 2,0 2,0 2,0 2,0 2,0 2,0 2,-0.1 2,0 2,-0.1 2,-0.1 2,-0.2 2,-0.3 2,-0.3 2,-0.5 2,-0.6 2,-0.7 2,-0.9 2,-1 2,-1.1 2,-1.2 2,-1.2 2,-1.1 2,-1 2,-0.9 2,-0.5 2,-0.3 2,0.2 2,0.7 2,1.1 2,1.7 2,2 2,2.6 2,2.9 2,3.2 2,3.4 2,3.6 2,3.6 2,3.5 2,3.4 2,3.2 2,2.9 2,2.6 2,2.1 2,1.6 2,1.1 2,0.5 2,-0.1 2,-0.9 2,-1.7 2,-2.3 2,-3 2,-3.7 2,-4.4 2,-4.9 2,-5.3 2,-5.8 2,-5.9 2,-6 2,-6 2,-5.8 2,-5.4 2,-4.9 2,-4.4 2,-3.6 2,-2.9 2,-2.2 2,-1.4 2,-0.6 2,0 2,0.7 2,1.4 2,1.9 2,2.5 2,3 2,3.4 2,3.7 2,3.9 2,4 2,4 2,4 2,3.9 2,3.8 2,3.5 2,3.2 2,3.1 2,2.7 2,2.4 2,2.1 2,1.8 2,1.5 2,1.2 2,1 2,0.7 2,0.4 2,0.3 2,0.2 2,0 2,-0.1 2,-0.2 2,-0.2 2,-0.3 2,-0.3 2,-0.3 2,-0.4 2,-0.4 2,-0.5 2,-0.5 2,-0.6 2,-0.6 2,-0.6 2,-0.7 2,-0.8 2,-0.8 2,-0.8 2,-0.8 2,-0.9 2,-0.8 2,-0.9 2,-0.8 2,-0.8 2,-0.9 2,-0.8 2,-0.7 2,-0.8 2,-0.7 2,-0.7 2,-0.7 2,-0.6 2,-0.7 2,-0.6 2,-0.5 2,-0.6 2,-0.5 2,-0.5 2,-0.4 2,-0.4 2,-0.4 2,-0.3 2,-0.3 2,-0.3 2,-0.2 2,-0.2 2,-0.2 2,-0.1 2,-0.2 2,-0.1 2,0 2,-0.1 2,0 2,0 2,0 2,0 2,0 2,0 2,0 2,0 2,0 2,0 2,0 2,0 2,0 0.5,0" stroke="#ff0000" stroke-width="9"/>
</g>
<rect x="280.9" y="452.5" width="8.8" height="47.5" fill="#0000ff"/>
<path d="M40.5,423.5 H393.0 M40.5,528.5 H393.0" stroke="#5a5a5a" stroke-width="2.2" fill="none"/>
<path d="M41.5,422.5 V529.5 M392.0,422.5 V529.5" stroke="#262626" stroke-width="2.2" fill="none"/>
<text x="68.2" y="569.3" font-size="34" fill="#5a5a5a" text-anchor="middle">0</text>
<text x="221.5" y="569.3" font-size="34" fill="#5a5a5a" text-anchor="middle">50</text>
<text x="374.9" y="569.3" font-size="34" fill="#5a5a5a" text-anchor="middle">100</text>
<path d="M72.2,528.5 V524.3 M72.2,423.5 V427.7 M225.5,528.5 V524.3 M225.5,423.5 V427.7 M378.9,528.5 V524.3 M378.9,423.5 V427.7" stroke="#5a5a5a" stroke-width="2" fill="none"/>
<text x="28.3" y="451.4" font-size="34" fill="#262626" text-anchor="end">1</text>
<text x="28.3" y="488.9" font-size="34" fill="#262626" text-anchor="end">0</text>
<text x="31.0" y="526.4" font-size="34" fill="#262626" text-anchor="end">-1</text>
<path d="M41.5,438.0 H45.7 M392.0,438.0 H387.8 M41.5,475.5 H45.7 M392.0,475.5 H387.8 M41.5,513.0 H45.7 M392.0,513.0 H387.8" stroke="#262626" stroke-width="2" fill="none"/>
<path d="M46.6,398.6 l15.8,16 M62.4,398.6 l-15.8,16" stroke="#262626" stroke-width="1.5"/>
<text x="72.5" y="415.1" font-size="33" fill="#262626">10</text>
<text x="117.5" y="398.1" font-size="26" fill="#262626">-6</text>
<text x="72.5" y="464.3" font-size="34" fill="#000">P</text>
<text x="253.0" y="455.5" font-size="34" fill="#000">ECH.00</text>
<text x="71.5" y="516.2" font-size="27.5" fill="#000" stroke="#000" stroke-width="0.3" font-family="Liberation Serif, serif">SNR=<tspan>14.5</tspan></text>
<text x="253.0" y="518.6" font-size="34" fill="#000" stroke="#000" stroke-width="0.45" font-family="Liberation Serif, serif">341<tspan stroke-width="0">°</tspan>, 77<tspan stroke-width="0">°</tspan></text>
<clipPath id="c11"><rect x="508.5" y="415.5" width="359.5" height="121.0"/></clipPath>
<g clip-path="url(#c11)" fill="none" stroke-linejoin="round" stroke-linecap="round">
<path d="M508.5,475.5l2,0 2,0 2,0 2,0 2,0 2,0 2,0 2,0 2,0 2,0 2,0 2,0 2,0 2,0 2,0 2,0 2,0 2,0 2,-0.1 2,0 2,-0.1 2,-0.1 2,-0.1 2,-0.1 2,0 2,0 2,0.1 2,0.4 2,0.6 2,0.7 2,0.5 2,0.1 2,-0.4 2,-0.9 2,-1.5 2,-2.3 2,-3.1 2,-3.5 2,-3.4 2,-2.7 2,-1.9 2,-1.1 2,-0.6 2,0 2,0.8 2,1.5 2,2.2 2,2.9 2,3.3 2,3.9 2,4.4 2,4.7 2,5 2,5.3 2,5.4 2,5.5 2,5.5 2,5.3 2,4.7 2,3.7 2,2.2 2,0.5 2,-0.8 2,-1.9 2,-3.1 2,-4.4 2,-6.2 2,-7.6 2,-8.1 2,-8.1 2,-7.7 2,-7.1 2,-6.5 2,-6.1 2,-5.5 2,-5.1 2,-4.6 2,-3.9 2,-3 2,-2.2 2,-1.4 2,-0.9 2,-0.5 2,0 2,0.9 2,1.8 2,2.7 2,3.3 2,3.8 2,4 2,4.4 2,4.4 2,4.4 2,4.3 2,4 2,3.8 2,3.5 2,2.9 2,2.5 2,2.1 2,1.6 2,1.4 2,1 2,0.8 2,0.5 2,0.4 2,0.3 2,0.3 2,0.4 2,0.5 2,0.6 2,0.8 2,0.9 2,0.9 2,0.8 2,0.5 2,0.3 2,0.1 2,-0.3 2,-0.3 2,-0.5 2,-0.5 2,-0.4 2,-0.3 2,-0.2 2,-0.2 2,0 2,-0.1 2,-0.1 2,0 2,-0.1 2,0 2,0 2,0 2,0 2,0 2,0 2,0 2,0 2,0 2,-0.2 2,-0.5 2,-0.5 2,-0.8 2,-0.8 2,-0.9 2,-0.9 2,-1 2,-1.1 2,-1.1 2,-1.3 2,-1.3 2,-1.3 2,-1.2 2,-1.2 2,-1.2 2,-1.1 2,-1.1 2,-1.1 2,-1 2,-1 2,-1 2,-1.1 2,-1 2,-1.1 2,-1.1 2,-0.9 2,-0.7 2,-0.5 2,-0.3 2,0 2,0 2,0.1 2,0.2 2,0.2 2,0.3 2,0.3 0.5,0.1" stroke="#666666" stroke-width="9"/>
<path d="M508.5,475.5l2,0 2,0 2,0 2,0 2,0 2,0 2,0 2,0 2,0 2,0 2,0 2,0 2,0 2,0 2,0 2,0 2,0 2,0 2,0 2,-0.1 2,0 2,-0.1 2,-0.1 2,-0.1 2,-0.2 2,-0.3 2,-0.3 2,-0.5 2,-0.5 2,-0.7 2,-0.9 2,-1 2,-1 2,-1.2 2,-1.1 2,-1.1 2,-1 2,-0.9 2,-0.6 2,-0.3 2,0.1 2,0.5 2,0.9 2,1.4 2,1.9 2,2.4 2,2.7 2,3.1 2,3.3 2,3.5 2,3.6 2,3.6 2,3.5 2,3.3 2,3.1 2,2.7 2,2.4 2,2 2,1.4 2,0.9 2,0.2 2,-0.4 2,-1.2 2,-1.9 2,-2.5 2,-3.3 2,-4 2,-4.5 2,-5.1 2,-5.5 2,-5.9 2,-6 2,-6 2,-5.9 2,-5.7 2,-5.2 2,-4.7 2,-4.1 2,-3.4 2,-2.6 2,-1.9 2,-1.1 2,-0.4 2,0.3 2,1 2,1.6 2,2.2 2,2.7 2,3.1 2,3.5 2,3.8 2,3.9 2,4.1 2,4 2,3.9 2,3.8 2,3.6 2,3.3 2,3.1 2,2.8 2,2.5 2,2.2 2,2 2,1.6 2,1.4 2,1.2 2,0.9 2,0.7 2,0.5 2,0.4 2,0.2 2,0 2,0 2,-0.1 2,-0.2 2,-0.3 2,-0.3 2,-0.4 2,-0.4 2,-0.4 2,-0.5 2,-0.6 2,-0.6 2,-0.7 2,-0.7 2,-0.8 2,-0.8 2,-0.8 2,-0.9 2,-0.8 2,-0.9 2,-0.8 2,-0.9 2,-0.8 2,-0.8 2,-0.7 2,-0.7 2,-0.7 2,-0.7 2,-0.7 2,-0.6 2,-0.6 2,-0.6 2,-0.6 2,-0.5 2,-0.6 2,-0.5 2,-0.5 2,-0.5 2,-0.5 2,-0.4 2,-0.5 2,-0.4 2,-0.4 2,-0.3 2,-0.3 2,-0.3 2,-0.3 2,-0.2 2,-0.2 2,-0.2 2,-0.1 2,-0.1 2,-0.1 2,0 2,0 2,0 2,0 2,0.1 2,0 2,0.1 2,0.1 2,0 2,0.1 2,0.1 2,0.1 2,0.1 0.5,0" stroke="#ff0000" stroke-width="9"/>
</g>
<rect x="750.4" y="452.5" width="8.8" height="47.5" fill="#0000ff"/>
<path d="M507.5,423.5 H864.0 M507.5,528.5 H864.0" stroke="#5a5a5a" stroke-width="2.2" fill="none"/>
<path d="M508.5,422.5 V529.5 M863.0,422.5 V529.5" stroke="#262626" stroke-width="2.2" fill="none"/>
<text x="535.5" y="569.3" font-size="34" fill="#5a5a5a" text-anchor="middle">0</text>
<text x="690.6" y="569.3" font-size="34" fill="#5a5a5a" text-anchor="middle">50</text>
<text x="845.7" y="569.3" font-size="34" fill="#5a5a5a" text-anchor="middle">100</text>
<path d="M539.5,528.5 V524.3 M539.5,423.5 V427.7 M694.6,528.5 V524.3 M694.6,423.5 V427.7 M849.7,528.5 V524.3 M849.7,423.5 V427.7" stroke="#5a5a5a" stroke-width="2" fill="none"/>
<text x="495.3" y="451.4" font-size="34" fill="#262626" text-anchor="end">1</text>
<text x="495.3" y="488.4" font-size="34" fill="#262626" text-anchor="end">0</text>
<text x="498.0" y="525.6" font-size="34" fill="#262626" text-anchor="end">-1</text>
<path d="M508.5,438.0 H512.7 M863.0,438.0 H858.8 M508.5,475.0 H512.7 M863.0,475.0 H858.8 M508.5,512.2 H512.7 M863.0,512.2 H858.8" stroke="#262626" stroke-width="2" fill="none"/>
<path d="M513.6,398.6 l15.8,16 M529.4,398.6 l-15.8,16" stroke="#262626" stroke-width="1.5"/>
<text x="539.5" y="415.1" font-size="33" fill="#262626">10</text>
<text x="584.5" y="398.1" font-size="26" fill="#262626">-6</text>
<text x="539.9" y="464.3" font-size="34" fill="#000">P</text>
<text x="722.4" y="455.5" font-size="34" fill="#000">ECH.10</text>
<text x="538.8" y="516.2" font-size="27.5" fill="#000" stroke="#000" stroke-width="0.3" font-family="Liberation Serif, serif">SNR=<tspan>15</tspan></text>
<text x="722.4" y="518.6" font-size="34" fill="#000" stroke="#000" stroke-width="0.45" font-family="Liberation Serif, serif">341<tspan stroke-width="0">°</tspan>, 77<tspan stroke-width="0">°</tspan></text>
<clipPath id="c12"><rect x="979.5" y="415.5" width="355.0" height="121.0"/></clipPath>
<g clip-path="url(#c12)" fill="none" stroke-linejoin="round" stroke-linecap="round">
<path d="M979.5,473.8l2,-0.1 2,0 2,0 2,-0.1 2,-0.1 2,0 2,-0.1 2,-0.2 2,-0.1 2,-0.1 2,-0.2 2,-0.2 2,-0.1 2,-0.2 2,-0.2 2,-0.2 2,-0.2 2,-0.5 2,-0.5 2,-0.7 2,-0.7 2,-0.6 2,-0.4 2,-0.2 2,0 2,0.3 2,0.4 2,0.5 2,0.4 2,0.2 2,0 2,-0.2 2,-0.5 2,-0.8 2,-1.1 2,-1.7 2,-2.1 2,-2.5 2,-2.4 2,-2.1 2,-1.4 2,-0.9 2,-0.7 2,-0.3 2,-0.1 2,0.1 2,0.6 2,1.1 2,1.4 2,1.9 2,2.4 2,3.2 2,3.7 2,4.1 2,4.1 2,4.1 2,3.9 2,3.9 2,4.1 2,4.3 2,4.9 2,5.2 2,5.3 2,4.8 2,3.9 2,2.6 2,1.7 2,0.9 2,0.1 2,-0.8 2,-2 2,-2.9 2,-3.7 2,-4.3 2,-4.9 2,-5.6 2,-6.1 2,-6.4 2,-6.4 2,-6.4 2,-6.2 2,-6.2 2,-6 2,-6 2,-5.7 2,-5.2 2,-4.2 2,-3 2,-1.8 2,-0.9 2,-0.3 2,0.2 2,0.7 2,1.1 2,1.4 2,1.6 2,1.7 2,1.8 2,1.9 2,2 2,2.1 2,2.2 2,2.1 2,2.2 2,2.3 2,2.2 2,2.3 2,2.2 2,2.1 2,2 2,2 2,2 2,1.8 2,1.7 2,1.5 2,1.5 2,1.4 2,1.3 2,1.1 2,0.9 2,0.5 2,0.3 2,0.1 2,0 2,-0.1 2,0 2,0 2,0 2,-0.1 2,-0.2 2,-0.3 2,-0.3 2,-0.2 2,-0.1 2,0 2,0 2,0.1 2,0.2 2,0.2 2,0.2 2,0.3 2,0.4 2,0.5 2,0.8 2,0.9 2,0.9 2,0.9 2,0.8 2,0.6 2,0.6 2,0.5 2,0.4 2,0.3 2,0 2,-0.2 2,-0.7 2,-1 2,-1.2 2,-1.4 2,-1.4 2,-1.6 2,-1.6 2,-1.7 2,-1.7 2,-1.7 2,-1.6 2,-1.6 2,-1.5 2,-1.2 2,-0.7 2,-0.4 2,-0.1 2,0.1 2,0 2,0.1" stroke="#666666" stroke-width="9"/>
<path d="M979.5,473.8l2,0 2,0 2,0 2,0 2,0 2,0 2,0 2,-0.1 2,0 2,0 2,0 2,0 2,-0.1 2,0 2,0 2,0 2,0.1 2,0 2,0.1 2,0.1 2,0.2 2,0.2 2,0.2 2,0.2 2,0.2 2,0.2 2,0.1 2,-0.1 2,-0.2 2,-0.5 2,-0.8 2,-1 2,-1.4 2,-1.7 2,-1.9 2,-2.1 2,-2.2 2,-2.2 2,-2.1 2,-2 2,-1.7 2,-1.5 2,-1.1 2,-0.7 2,-0.3 2,0.2 2,0.6 2,1.1 2,1.7 2,2.1 2,2.7 2,3.1 2,3.5 2,3.8 2,4.2 2,4.3 2,4.4 2,4.6 2,4.5 2,4.5 2,4.5 2,4.3 2,4 2,3.6 2,3.1 2,2.5 2,1.8 2,1 2,0.2 2,-0.8 2,-1.7 2,-2.6 2,-3.5 2,-4.3 2,-4.9 2,-5.5 2,-6 2,-6.3 2,-6.5 2,-6.6 2,-6.5 2,-6.3 2,-5.9 2,-5.6 2,-5 2,-4.4 2,-3.6 2,-2.8 2,-2.1 2,-1.3 2,-0.5 2,0.1 2,0.6 2,1.2 2,1.5 2,1.8 2,2.1 2,2.2 2,2.3 2,2.4 2,2.3 2,2.4 2,2.3 2,2.2 2,2.1 2,2.1 2,2 2,1.9 2,1.9 2,1.7 2,1.8 2,1.6 2,1.6 2,1.5 2,1.5 2,1.4 2,1.3 2,1.2 2,1.2 2,1.1 2,1.1 2,0.9 2,0.9 2,0.8 2,0.8 2,0.6 2,0.7 2,0.5 2,0.6 2,0.4 2,0.5 2,0.4 2,0.3 2,0.3 2,0.2 2,0.2 2,0.2 2,0.1 2,0 2,0.1 2,0 2,0 2,-0.1 2,0 2,-0.2 2,-0.1 2,-0.3 2,-0.3 2,-0.3 2,-0.4 2,-0.5 2,-0.4 2,-0.5 2,-0.6 2,-0.5 2,-0.5 2,-0.5 2,-0.5 2,-0.5 2,-0.5 2,-0.5 2,-0.6 2,-0.5 2,-0.5 2,-0.6 2,-0.6 2,-0.6 2,-0.6 2,-0.6 2,-0.6 2,-0.6 2,-0.7 2,-0.6 2,-0.7 2,-0.6" stroke="#ff0000" stroke-width="9"/>
</g>
<rect x="1218.8" y="451.8" width="8.8" height="46.2" fill="#0000ff"/>
<path d="M978.5,423.5 H1330.5 M978.5,528.5 H1330.5" stroke="#5a5a5a" stroke-width="2.2" fill="none"/>
<path d="M979.5,422.5 V529.5 M1329.5,422.5 V529.5" stroke="#262626" stroke-width="2.2" fill="none"/>
<text x="1006.1" y="569.3" font-size="34" fill="#5a5a5a" text-anchor="middle">0</text>
<text x="1159.2" y="569.3" font-size="34" fill="#5a5a5a" text-anchor="middle">50</text>
<text x="1312.4" y="569.3" font-size="34" fill="#5a5a5a" text-anchor="middle">100</text>
<path d="M1010.1,528.5 V524.3 M1010.1,423.5 V427.7 M1163.2,528.5 V524.3 M1163.2,423.5 V427.7 M1316.4,528.5 V524.3 M1316.4,423.5 V427.7" stroke="#5a5a5a" stroke-width="2" fill="none"/>
<text x="966.3" y="455.1" font-size="34" fill="#262626" text-anchor="end">5</text>
<text x="966.3" y="487.1" font-size="34" fill="#262626" text-anchor="end">0</text>
<text x="969.0" y="518.9" font-size="34" fill="#262626" text-anchor="end">-5</text>
<path d="M979.5,441.8 H983.7 M1329.5,441.8 H1325.3 M979.5,473.8 H983.7 M1329.5,473.8 H1325.3 M979.5,505.5 H983.7 M1329.5,505.5 H1325.3" stroke="#262626" stroke-width="2" fill="none"/>
<path d="M984.6,398.6 l15.8,16 M1000.4,398.6 l-15.8,16" stroke="#262626" stroke-width="1.5"/>
<text x="1010.5" y="415.1" font-size="33" fill="#262626">10</text>
<text x="1055.5" y="398.1" font-size="26" fill="#262626">-7</text>
<text x="1010.5" y="463.6" font-size="34" fill="#000">PP</text>
<text x="1190.7" y="454.8" font-size="34" fill="#000">EDA.00</text>
<text x="1009.4" y="514.2" font-size="27.5" fill="#000" stroke="#000" stroke-width="0.3" font-family="Liberation Serif, serif">SNR=<tspan>9.6</tspan></text>
<text x="1190.7" y="516.6" font-size="34" fill="#000" stroke="#000" stroke-width="0.45" font-family="Liberation Serif, serif">324<tspan stroke-width="0">°</tspan>, 118<tspan stroke-width="0">°</tspan></text>
<clipPath id="c13"><rect x="1446.0" y="415.5" width="359.0" height="121.0"/></clipPath>
<g clip-path="url(#c13)" fill="none" stroke-linejoin="round" stroke-linecap="round">
<path d="M1474.0,473.3l2,-6.6 2,-5.5 2,-4 2,-2.7 2,-2.1 2,-1.7 2,-1.8 2,-1.7 2,-1.7 2,-1.7 2,-1.7 2,-1.6 2,-1.5 2,-1.5 2,-1.4 2,-1.3 2,-1.2 2,-1.2 2,-1.1 2,-1 2,-0.9 2,-0.8 2,-0.4 2,-0.1 2,0.2 2,0.6 2,0.8 2,1 2,1.1 2,1.2 2,1.5 2,1.7 2,2 2,2.1 2,2.3 2,2.3 2,2.3 2,2.3 2,2.4 2,2.5 2,2.4 2,2.5 2,2.4 2,2.5 2,2.4 2,2.5 2,2.4 2,2.3 2,2.2 2,2.1 2,2.1 2,1.9 2,2 2,1.9 2,2 2,2 2,2 2,2 2,2 2,2 2,2 2,2.1 2,2 2,2.1 2,2.1 2,1.9 2,1.9 2,1.8 2,1.8 2,1.7 2,1.5 2,1.3 2,1 2,0.7 2,0.4 2,0.4 2,0.2 2,0.1 2,-0.1 2,-0.5 2,-0.7 2,-1.1 2,-1.4 2,-1.7 2,-2 2,-2.4 2,-2.7 2,-2.7 2,-2.8 2,-2.7 2,-2.7 2,-2.7 2,-2.8 2,-3 2,-3 2,-3.3 2,-3.4 2,-3.6 2,-3.6 2,-3.6 2,-3.7 2,-3.6 2,-3.6 2,-3.4 2,-3.2 2,-3 2,-2.7 2,-2.6 2,-2.4 2,-2.1 2,-1.8 2,-1.6 2,-1.4 2,-1.2 2,-1.1 2,-0.8 2,-0.4 2,-0.1 2,0.2 2,0.4 2,0.6 2,0.8 2,0.9 2,1.3 2,1.7 2,2.2 2,2.7 2,3 2,3.1 2,3.4 2,3.4 2,3.6 2,3.7 2,3.6 2,3.7 2,3.6 2,3.6 2,3.3 2,3.1 2,2.9 2,2.7 2,2.4 2,2.3 2,2.1 2,1.9 2,1.7 2,1.5 2,1.1 2,0.8 2,0.5 2,0.3 2,0.2 2,0.1 2,0 2,0 2,-0.1 2,-0.1 2,-0.2 2,-0.3 2,-0.3 2,-0.4 2,-0.5 2,-0.5" stroke="#666666" stroke-width="9"/>
<path d="M1446.0,477.5l2,0 2,0 2,0 2,0 2,0 2,0 2,0 2,0 2,0 2,0 2,0 2,0 2,0 2,0 2,0 2,0 2,0 2,0 2,0 2,0 2,0 2,0 2,0 2,0 2,0 2,0 2,0 2,0 2,0 2,0 2,0 2,0 2,0 2,0 2,0 2,0 2,0.1 2,0.1 2,0.1 2,0.1 2,0.1 2,0.1 2,0.2 2,0.1 2,0.2 2,0.1 2,0.1 2,0 2,0 2,-0.1 2,-0.2 2,-0.3 2,-0.4 2,-0.5 2,-0.7 2,-0.7 2,-0.8 2,-1 2,-0.9 2,-1 2,-1 2,-1 2,-0.9 2,-0.8 2,-0.7 2,-0.6 2,-0.4 2,-0.2 2,-0.1 2,0.2 2,0.3 2,0.6 2,0.9 2,1 2,1.4 2,1.5 2,1.8 2,1.9 2,2 2,2.1 2,2.1 2,2.1 2,2 2,1.8 2,1.5 2,1.3 2,0.9 2,0.5 2,0.1 2,-0.3 2,-0.7 2,-1 2,-1.3 2,-1.6 2,-1.7 2,-1.9 2,-1.9 2,-2 2,-2 2,-1.9 2,-1.8 2,-1.8 2,-1.6 2,-1.4 2,-1.3 2,-1 2,-1 2,-0.7 2,-0.6 2,-0.4 2,-0.3 2,-0.1 2,0 2,0.2 2,0.2 2,0.3 2,0.4 2,0.4 2,0.5 2,0.5 2,0.6 2,0.6 2,0.6 2,0.6 2,0.6 2,0.6 2,0.5 2,0.5 2,0.6 2,0.4 2,0.5 2,0.5 2,0.5 2,0.4 2,0.5 2,0.4 2,0.4 2,0.4 2,0.4 2,0.3 2,0.4 2,0.3 2,0.3 2,0.3 2,0.3 2,0.2 2,0.3 2,0.2 2,0.1 2,0.2 2,0.1 2,0.2 2,0.1 2,0.1 2,0.1 2,0 2,0.1 2,0 2,0.1 2,0 2,0 2,0 2,0 2,0 2,0 2,0 2,-0.1 2,0 2,0 2,-0.1 2,-0.1 2,0 2,-0.1 2,-0.1 2,0 2,-0.1 2,-0.1" stroke="#ff0000" stroke-width="9"/>
</g>
<rect x="1688.1" y="453.0" width="8.8" height="47.0" fill="#0000ff"/>
<path d="M1445.0,423.5 H1801.0 M1445.0,528.5 H1801.0" stroke="#5a5a5a" stroke-width="2.2" fill="none"/>
<path d="M1446.0,422.5 V529.5 M1800.0,422.5 V529.5" stroke="#262626" stroke-width="2.2" fill="none"/>
<text x="1473.0" y="569.3" font-size="34" fill="#5a5a5a" text-anchor="middle">0</text>
<text x="1627.8" y="569.3" font-size="34" fill="#5a5a5a" text-anchor="middle">50</text>
<text x="1782.7" y="569.3" font-size="34" fill="#5a5a5a" text-anchor="middle">100</text>
<path d="M1477.0,528.5 V524.3 M1477.0,423.5 V427.7 M1631.8,528.5 V524.3 M1631.8,423.5 V427.7 M1786.7,528.5 V524.3 M1786.7,423.5 V427.7" stroke="#5a5a5a" stroke-width="2" fill="none"/>
<text x="1432.8" y="452.6" font-size="34" fill="#262626" text-anchor="end">1</text>
<text x="1432.8" y="490.1" font-size="34" fill="#262626" text-anchor="end">0</text>
<text x="1435.5" y="527.6" font-size="34" fill="#262626" text-anchor="end">-1</text>
<path d="M1446.0,439.2 H1450.2 M1800.0,439.2 H1795.8 M1446.0,476.8 H1450.2 M1800.0,476.8 H1795.8 M1446.0,514.2 H1450.2 M1800.0,514.2 H1795.8" stroke="#262626" stroke-width="2" fill="none"/>
<path d="M1451.1,398.6 l15.8,16 M1466.9,398.6 l-15.8,16" stroke="#262626" stroke-width="1.5"/>
<text x="1477.0" y="415.1" font-size="33" fill="#262626">10</text>
<text x="1522.0" y="398.1" font-size="26" fill="#262626">-6</text>
<text x="1477.3" y="464.8" font-size="34" fill="#000">PP</text>
<text x="1659.6" y="456.0" font-size="34" fill="#000">FDFM.00</text>
<text x="1476.3" y="516.2" font-size="27.5" fill="#000" stroke="#000" stroke-width="0.3" font-family="Liberation Serif, serif">SNR=<tspan>1.8</tspan></text>
<text x="1659.6" y="518.6" font-size="34" fill="#000" stroke="#000" stroke-width="0.45" font-family="Liberation Serif, serif">40<tspan stroke-width="0">°</tspan>, 105<tspan stroke-width="0">°</tspan></text>
<clipPath id="c14"><rect x="1916.5" y="415.5" width="355.0" height="121.0"/></clipPath>
<g clip-path="url(#c14)" fill="none" stroke-linejoin="round" stroke-linecap="round">
<path d="M1916.5,470.5l2,-0.1 2,-0.1 2,-0.1 2,-0.1 2,-0.1 2,-0.2 2,-0.2 2,-0.2 2,-0.3 2,-0.2 2,-0.2 2,-0.3 2,-0.2 2,-0.3 2,-0.4 2,-0.4 2,-0.4 2,-0.5 2,-0.4 2,-0.2 2,0 2,0.3 2,0.5 2,0.6 2,0.6 2,0.6 2,0.5 2,0.5 2,0.5 2,0.4 2,0.5 2,0.5 2,0.5 2,0.2 2,-0.1 2,-0.8 2,-1.6 2,-2.3 2,-2.8 2,-2.9 2,-3.1 2,-3.1 2,-2.8 2,-2.2 2,-1.2 2,-0.1 2,0.7 2,1.3 2,1.9 2,2.3 2,2.8 2,3.5 2,4 2,4.4 2,4.5 2,4.5 2,4.5 2,4.5 2,4.5 2,4.7 2,4.9 2,5 2,4.8 2,4.3 2,3.4 2,2.1 2,0.6 2,-0.9 2,-2.1 2,-3 2,-3.6 2,-4.3 2,-5.1 2,-6 2,-6.4 2,-6.7 2,-6.6 2,-6.4 2,-6.3 2,-6 2,-5.5 2,-5.1 2,-4.6 2,-4.1 2,-3.5 2,-2.9 2,-2.2 2,-1.5 2,-0.9 2,-0.1 2,0.6 2,1.1 2,1.5 2,1.8 2,1.8 2,1.9 2,2.1 2,2.1 2,2.3 2,2.4 2,2.3 2,2.2 2,2.1 2,2.1 2,2.1 2,2.2 2,2.4 2,2.6 2,3 2,3.2 2,3.1 2,2.9 2,2.6 2,2.2 2,1.9 2,1.4 2,0.9 2,0.4 2,0 2,-0.3 2,-0.4 2,-0.5 2,-0.6 2,-0.7 2,-0.8 2,-1 2,-1.1 2,-1.1 2,-1 2,-0.9 2,-0.7 2,-0.6 2,-0.5 2,-0.4 2,-0.4 2,-0.1 2,0.1 2,0.3 2,0.5 2,0.7 2,0.7 2,0.8 2,0.8 2,0.7 2,0.8 2,0.7 2,0.8 2,0.7 2,0.5 2,0.5 2,0.3 2,0.3 2,0.3 2,0.2 2,0.2 2,0.1 2,-0.2 2,-0.6 2,-0.8 2,-1.2 2,-1.2 2,-1.3 2,-1.3 2,-1.2 2,-1.1 2,-1.2 2,-1.2 2,-1.3 2,-1.2 2,-1.2 2,-1.3 2,-1.2 2,-1.3 2,-1.2 2,-1.3" stroke="#666666" stroke-width="9"/>
<path d="M1916.5,470.5l2,0 2,0 2,0 2,0 2,0 2,0 2,0 2,0 2,0 2,-0.1 2,0 2,0 2,0 2,0 2,0 2,0 2,0.1 2,0.1 2,0.2 2,0.2 2,0.3 2,0.2 2,0.3 2,0.3 2,0.3 2,0.2 2,0.1 2,0 2,-0.3 2,-0.4 2,-0.8 2,-1 2,-1.4 2,-1.7 2,-1.9 2,-2.2 2,-2.4 2,-2.4 2,-2.4 2,-2.3 2,-2.1 2,-1.8 2,-1.5 2,-1 2,-0.6 2,0.1 2,0.6 2,1.2 2,1.7 2,2.4 2,2.9 2,3.4 2,3.8 2,4.3 2,4.5 2,4.8 2,5 2,5 2,5 2,4.8 2,4.5 2,4.2 2,3.5 2,2.8 2,1.9 2,1 2,0 2,-0.9 2,-1.7 2,-2.6 2,-3.3 2,-3.9 2,-4.4 2,-4.8 2,-5.1 2,-5.3 2,-5.2 2,-5.2 2,-4.9 2,-4.7 2,-4.3 2,-3.9 2,-3.4 2,-3 2,-2.4 2,-1.9 2,-1.4 2,-0.9 2,-0.5 2,-0.1 2,0.2 2,0.5 2,0.8 2,1 2,1.1 2,1.3 2,1.4 2,1.4 2,1.5 2,1.5 2,1.4 2,1.5 2,1.5 2,1.4 2,1.3 2,1.4 2,1.2 2,1.3 2,1.2 2,1.1 2,1.1 2,1 2,1.1 2,0.9 2,1 2,1 2,0.9 2,0.9 2,0.9 2,0.8 2,0.9 2,0.7 2,0.8 2,0.6 2,0.6 2,0.5 2,0.5 2,0.4 2,0.3 2,0.3 2,0.3 2,0.1 2,0.2 2,0.1 2,0 2,0 2,0 2,-0.1 2,-0.1 2,0 2,-0.2 2,-0.1 2,-0.1 2,-0.2 2,-0.2 2,-0.2 2,-0.2 2,-0.3 2,-0.3 2,-0.3 2,-0.3 2,-0.3 2,-0.3 2,-0.3 2,-0.4 2,-0.3 2,-0.3 2,-0.3 2,-0.3 2,-0.3 2,-0.3 2,-0.3 2,-0.3 2,-0.3 2,-0.3 2,-0.4 2,-0.3 2,-0.4 2,-0.4 2,-0.3 2,-0.4 2,-0.4 2,-0.4 2,-0.4 2,-0.4" stroke="#ff0000" stroke-width="9"/>
</g>
<rect x="2156.3" y="450.0" width="8.8" height="46.2" fill="#0000ff"/>
<path d="M1915.5,423.5 H2267.5 M1915.5,528.5 H2267.5" stroke="#5a5a5a" stroke-width="2.2" fill="none"/>
<path d="M1916.5,422.5 V529.5 M2266.5,422.5 V529.5" stroke="#262626" stroke-width="2.2" fill="none"/>
<text x="1943.1" y="569.3" font-size="34" fill="#5a5a5a" text-anchor="middle">0</text>
<text x="2096.2" y="569.3" font-size="34" fill="#5a5a5a" text-anchor="middle">50</text>
<text x="2249.4" y="569.3" font-size="34" fill="#5a5a5a" text-anchor="middle">100</text>
<path d="M1947.1,528.5 V524.3 M1947.1,423.5 V427.7 M2100.2,528.5 V524.3 M2100.2,423.5 V427.7 M2253.4,528.5 V524.3 M2253.4,423.5 V427.7" stroke="#5a5a5a" stroke-width="2" fill="none"/>
<text x="1903.3" y="445.9" font-size="34" fill="#262626" text-anchor="end">4</text>
<text x="1903.3" y="464.6" font-size="34" fill="#262626" text-anchor="end">2</text>
<text x="1903.3" y="483.4" font-size="34" fill="#262626" text-anchor="end">0</text>
<text x="1906.0" y="501.9" font-size="34" fill="#262626" text-anchor="end">-2</text>
<text x="1906.0" y="520.6" font-size="34" fill="#262626" text-anchor="end">-4</text>
<text x="1906.0" y="539.4" font-size="34" fill="#262626" text-anchor="end">-6</text>
<path d="M1916.5,432.5 H1920.7 M2266.5,432.5 H2262.3 M1916.5,451.2 H1920.7 M2266.5,451.2 H2262.3 M1916.5,470.0 H1920.7 M2266.5,470.0 H2262.3 M1916.5,488.5 H1920.7 M2266.5,488.5 H2262.3 M1916.5,507.2 H1920.7 M2266.5,507.2 H2262.3 M1916.5,526.0 H1920.7 M2266.5,526.0 H2262.3" stroke="#262626" stroke-width="2" fill="none"/>
<path d="M1921.6,398.6 l15.8,16 M1937.4,398.6 l-15.8,16" stroke="#262626" stroke-width="1.5"/>
<text x="1947.5" y="415.1" font-size="33" fill="#262626">10</text>
<text x="1992.5" y="398.1" font-size="26" fill="#262626">-7</text>
<text x="1947.5" y="461.8" font-size="34" fill="#000">PP</text>
<text x="2127.7" y="453.0" font-size="34" fill="#000">FDFM.10</text>
<text x="1946.4" y="512.5" font-size="27.5" fill="#000" stroke="#000" stroke-width="0.3" font-family="Liberation Serif, serif">SNR=<tspan>7.1</tspan></text>
<text x="2127.7" y="514.9" font-size="34" fill="#000" stroke="#000" stroke-width="0.45" font-family="Liberation Serif, serif">40<tspan stroke-width="0">°</tspan>, 105<tspan stroke-width="0">°</tspan></text>
<clipPath id="c15"><rect x="41.5" y="607.5" width="355.5" height="120.5"/></clipPath>
<g clip-path="url(#c15)" fill="none" stroke-linejoin="round" stroke-linecap="round">
<path d="M41.5,663.7l2,-0.3 2,-0.3 2,-0.3 2,-0.2 2,-0.2 2,-0.2 2,-0.1 2,-0.1 2,-0.1 2,0 2,-0.1 2,0 2,-0.1 2,0 2,0 2,0.2 2,0.3 2,0.5 2,0.5 2,0.5 2,0.4 2,0.1 2,-0.1 2,-0.2 2,-0.4 2,-0.5 2,-0.4 2,-0.4 2,-0.4 2,-0.2 2,-0.2 2,-0.1 2,-0.2 2,-0.1 2,-0.3 2,-0.5 2,-0.9 2,-1.1 2,-1.4 2,-1.7 2,-2 2,-2.2 2,-2.4 2,-2.4 2,-2.1 2,-1.8 2,-1.5 2,-1.2 2,-0.9 2,-0.4 2,0.1 2,0.7 2,1.3 2,1.7 2,2.3 2,2.7 2,3.4 2,3.9 2,4.3 2,4.5 2,4.4 2,4.4 2,4.4 2,4.6 2,4.9 2,5.4 2,5.7 2,5.7 2,5 2,3.7 2,2.5 2,1.3 2,0.6 2,-0.2 2,-1.2 2,-2.4 2,-3.5 2,-4.3 2,-4.7 2,-5 2,-5.3 2,-5.6 2,-5.7 2,-5.8 2,-5.7 2,-5.6 2,-5.6 2,-5.5 2,-5.5 2,-5.4 2,-5 2,-4.4 2,-3.6 2,-2.6 2,-1.9 2,-1.2 2,-0.6 2,0.3 2,1 2,1.7 2,2.2 2,2.4 2,2.6 2,2.9 2,3.2 2,3.3 2,3.2 2,3.3 2,3.1 2,3 2,2.9 2,2.8 2,2.6 2,2.5 2,2.5 2,2.4 2,2.2 2,2 2,1.5 2,0.9 2,0.4 2,0 2,-0.2 2,-0.3 2,-0.6 2,-0.9 2,-1.4 2,-1.7 2,-1.6 2,-1.4 2,-0.9 2,-0.5 2,-0.4 2,-0.1 2,-0.1 2,0.2 2,0.5 2,0.9 2,1 2,1.3 2,1.4 2,1.4 2,1.6 2,1.6 2,1.6 2,1.4 2,1.1 2,0.8 2,0.7 2,0.4 2,0.3 2,0 2,-0.2 2,-0.4 2,-0.5 2,-0.7 2,-0.8 2,-0.9 2,-1 2,-1.1 2,-1.3 2,-1.4 2,-1.7 2,-2.1 2,-2.4 2,-2.5 2,-2.3 2,-1.8 2,-1.1 2,-0.4 2,0.1 2,0.4 2,0.7 2,1 2,1.2 0.5,0.3" stroke="#666666" stroke-width="9"/>
<path d="M41.5,663.8l2,0 2,0 2,0 2,0 2,0 2,0 2,0 2,0 2,-0.1 2,0 2,0 2,0 2,0 2,0 2,0 2,0 2,0 2,0.1 2,0.1 2,0.1 2,0.1 2,0.1 2,0.2 2,0.2 2,0.2 2,0.2 2,0.2 2,0.2 2,0.2 2,0.2 2,0.1 2,0.1 2,-0.2 2,-0.3 2,-0.5 2,-0.8 2,-1.2 2,-1.4 2,-1.8 2,-1.9 2,-2.2 2,-2.3 2,-2.3 2,-2.3 2,-2.2 2,-2 2,-1.8 2,-1.4 2,-1 2,-0.6 2,-0.1 2,0.4 2,1 2,1.6 2,2 2,2.6 2,3.1 2,3.6 2,3.8 2,4.2 2,4.4 2,4.5 2,4.7 2,4.8 2,4.7 2,4.8 2,4.5 2,4.3 2,3.8 2,3.2 2,2.5 2,1.6 2,0.6 2,-0.4 2,-1.4 2,-2.4 2,-3.2 2,-3.9 2,-4.4 2,-5 2,-5.3 2,-5.6 2,-5.7 2,-5.9 2,-5.8 2,-5.7 2,-5.6 2,-5.2 2,-4.9 2,-4.4 2,-3.8 2,-3.1 2,-2.5 2,-1.8 2,-1.1 2,-0.4 2,0.2 2,0.7 2,1.3 2,1.6 2,2 2,2.2 2,2.4 2,2.5 2,2.5 2,2.5 2,2.4 2,2.4 2,2.3 2,2.1 2,2 2,1.8 2,1.8 2,1.6 2,1.6 2,1.4 2,1.4 2,1.2 2,1.3 2,1.1 2,1.1 2,1 2,1 2,0.9 2,0.9 2,0.8 2,0.7 2,0.7 2,0.7 2,0.6 2,0.5 2,0.5 2,0.4 2,0.3 2,0.4 2,0.2 2,0.3 2,0.2 2,0.1 2,0.1 2,0.1 2,0 2,0 2,-0.1 2,0 2,-0.2 2,-0.1 2,-0.2 2,-0.2 2,-0.3 2,-0.3 2,-0.3 2,-0.4 2,-0.4 2,-0.4 2,-0.4 2,-0.5 2,-0.5 2,-0.5 2,-0.5 2,-0.5 2,-0.5 2,-0.5 2,-0.5 2,-0.5 2,-0.4 2,-0.5 2,-0.5 2,-0.5 2,-0.4 2,-0.5 2,-0.4 2,-0.5 2,-0.4 2,-0.5 0.5,-0.1" stroke="#ff0000" stroke-width="9"/>
</g>
<rect x="280.9" y="642.2" width="8.8" height="46.5" fill="#0000ff"/>
<path d="M40.5,615.5 H393.0 M40.5,720.0 H393.0" stroke="#5a5a5a" stroke-width="2.2" fill="none"/>
<path d="M41.5,614.5 V721.0 M392.0,614.5 V721.0" stroke="#262626" stroke-width="2.2" fill="none"/>
<text x="68.2" y="760.8" font-size="34" fill="#5a5a5a" text-anchor="middle">0</text>
<text x="221.5" y="760.8" font-size="34" fill="#5a5a5a" text-anchor="middle">50</text>
<text x="374.9" y="760.8" font-size="34" fill="#5a5a5a" text-anchor="middle">100</text>
<path d="M72.2,720.0 V715.8 M72.2,615.5 V619.7 M225.5,720.0 V715.8 M225.5,615.5 V619.7 M378.9,720.0 V715.8 M378.9,615.5 V619.7" stroke="#5a5a5a" stroke-width="2" fill="none"/>
<text x="28.3" y="642.6" font-size="34" fill="#262626" text-anchor="end">5</text>
<text x="28.3" y="677.1" font-size="34" fill="#262626" text-anchor="end">0</text>
<text x="31.0" y="711.4" font-size="34" fill="#262626" text-anchor="end">-5</text>
<path d="M41.5,629.2 H45.7 M392.0,629.2 H387.8 M41.5,663.8 H45.7 M392.0,663.8 H387.8 M41.5,698.0 H45.7 M392.0,698.0 H387.8" stroke="#262626" stroke-width="2" fill="none"/>
<path d="M46.6,590.6 l15.8,16 M62.4,590.6 l-15.8,16" stroke="#262626" stroke-width="1.5"/>
<text x="72.5" y="607.1" font-size="33" fill="#262626">10</text>
<text x="117.5" y="590.1" font-size="26" fill="#262626">-7</text>
<text x="72.5" y="654.0" font-size="34" fill="#000">PP</text>
<text x="253.0" y="645.2" font-size="34" fill="#000">FOMA.00</text>
<text x="71.5" y="705.0" font-size="27.5" fill="#000" stroke="#000" stroke-width="0.3" font-family="Liberation Serif, serif">SNR=<tspan>8.7</tspan></text>
<text x="253.0" y="707.4" font-size="34" fill="#000" stroke="#000" stroke-width="0.45" font-family="Liberation Serif, serif">270<tspan stroke-width="0">°</tspan>, 122<tspan stroke-width="0">°</tspan></text>
<clipPath id="c16"><rect x="508.5" y="607.5" width="359.5" height="120.5"/></clipPath>
<g clip-path="url(#c16)" fill="none" stroke-linejoin="round" stroke-linecap="round">
<path d="M508.5,664.3l2,0.4 2,0.3 2,0.4 2,0.4 2,0.4 2,0.3 2,0.3 2,0.4 2,0.3 2,0.3 2,0.3 2,0.2 2,0.3 2,0.3 2,0.2 2,0.3 2,0.3 2,0.2 2,0.2 2,0.2 2,0.1 2,0.1 2,0 2,0 2,0 2,0 2,0 2,0 2,0 2,0 2,-0.1 2,-0.1 2,-0.1 2,-0.1 2,-0.1 2,-0.1 2,-0.3 2,-0.5 2,-0.9 2,-1.5 2,-1.8 2,-2.1 2,-2.2 2,-2.2 2,-2.3 2,-2.2 2,-2.1 2,-1.9 2,-1.5 2,-1.3 2,-1.1 2,-0.9 2,-0.6 2,-0.1 2,0.5 2,1.4 2,2.2 2,2.8 2,3.3 2,3.9 2,4.5 2,4.7 2,4.7 2,4.3 2,3.7 2,3.1 2,2.9 2,2.9 2,3.3 2,3.9 2,4 2,3.7 2,2.4 2,0.9 2,-0.8 2,-2.1 2,-3 2,-3.5 2,-4.1 2,-4.6 2,-5.1 2,-5.5 2,-5.8 2,-6 2,-6.1 2,-6.2 2,-6.1 2,-5.7 2,-5.5 2,-5.1 2,-4.5 2,-3.4 2,-2.4 2,-1.5 2,-0.9 2,-0.7 2,-0.5 2,-0.3 2,0 2,0.4 2,1 2,1.5 2,1.9 2,2 2,2 2,2.2 2,2.2 2,2.4 2,2.6 2,2.8 2,3 2,3.2 2,3.5 2,3.6 2,3.8 2,3.7 2,3.8 2,3.7 2,3.5 2,3.1 2,2.7 2,2.4 2,2.1 2,1.8 2,1.7 2,1.6 2,1.7 2,1.5 2,1.5 2,1.1 2,0.7 2,0 2,-0.6 2,-1.2 2,-1.7 2,-2.1 2,-2.4 2,-2.9 2,-3.1 2,-3.2 2,-3 2,-2.6 2,-2.1 2,-1.8 2,-1.4 2,-1.1 2,-0.7 2,-0.5 2,-0.4 2,-0.2 2,-0.1 2,0.3 2,0.7 2,1.2 2,1.6 2,1.8 2,1.7 2,1.4 2,1.3 2,1.1 2,0.9 2,0.8 2,0.6 2,0.3 2,0 2,-0.1 2,-0.3 2,-0.4 2,-0.5 2,-0.7 2,-0.9 2,-1.4 2,-1.8 2,-2.4 2,-2.8 2,-3.2 2,-3.2 0.5,-0.9" stroke="#666666" stroke-width="9"/>
<path d="M508.5,664.2l2,0 2,0.1 2,0 2,0 2,0 2,0 2,0 2,0 2,0 2,0 2,0 2,-0.1 2,0 2,0 2,0 2,0 2,0 2,0.1 2,0 2,0 2,0.1 2,0.1 2,0.1 2,0.1 2,0.1 2,0.2 2,0.2 2,0.2 2,0.3 2,0.2 2,0.3 2,0.3 2,0.2 2,0.2 2,0 2,-0.1 2,-0.4 2,-0.6 2,-0.9 2,-1.3 2,-1.5 2,-1.9 2,-2 2,-2.3 2,-2.3 2,-2.4 2,-2.3 2,-2.2 2,-2 2,-1.8 2,-1.5 2,-1.1 2,-0.6 2,-0.1 2,0.4 2,0.9 2,1.6 2,2.2 2,2.8 2,3.3 2,3.8 2,4.3 2,4.7 2,5 2,5.1 2,5.3 2,5.4 2,5.2 2,5.1 2,4.7 2,4.1 2,3.4 2,2.4 2,1.3 2,0.1 2,-1.1 2,-2.2 2,-3.1 2,-4 2,-4.6 2,-5.2 2,-5.4 2,-5.7 2,-5.7 2,-5.6 2,-5.4 2,-5.2 2,-4.9 2,-4.6 2,-4.1 2,-3.7 2,-3.2 2,-2.7 2,-2.2 2,-1.7 2,-1.1 2,-0.7 2,-0.2 2,0.2 2,0.6 2,0.9 2,1.2 2,1.3 2,1.5 2,1.6 2,1.6 2,1.8 2,1.8 2,1.8 2,1.8 2,1.8 2,1.8 2,1.8 2,1.7 2,1.7 2,1.6 2,1.6 2,1.5 2,1.4 2,1.4 2,1.4 2,1.3 2,1.3 2,1.3 2,1.2 2,1.1 2,1 2,1 2,0.9 2,0.8 2,0.7 2,0.6 2,0.6 2,0.4 2,0.4 2,0.3 2,0.3 2,0.2 2,0.1 2,0.1 2,0.1 2,0.1 2,0 2,0 2,-0.1 2,0 2,-0.1 2,-0.2 2,-0.1 2,-0.2 2,-0.2 2,-0.3 2,-0.2 2,-0.3 2,-0.3 2,-0.3 2,-0.3 2,-0.4 2,-0.4 2,-0.4 2,-0.4 2,-0.4 2,-0.4 2,-0.4 2,-0.4 2,-0.4 2,-0.3 2,-0.4 2,-0.4 2,-0.4 2,-0.4 2,-0.4 2,-0.4 2,-0.3 2,-0.4 2,-0.4 2,-0.4 0.5,-0.1" stroke="#ff0000" stroke-width="9"/>
</g>
<rect x="750.4" y="643.0" width="8.8" height="47.0" fill="#0000ff"/>
<path d="M507.5,615.5 H864.0 M507.5,720.0 H864.0" stroke="#5a5a5a" stroke-width="2.2" fill="none"/>
<path d="M508.5,614.5 V721.0 M863.0,614.5 V721.0" stroke="#262626" stroke-width="2.2" fill="none"/>
<text x="535.5" y="760.8" font-size="34" fill="#5a5a5a" text-anchor="middle">0</text>
<text x="690.6" y="760.8" font-size="34" fill="#5a5a5a" text-anchor="middle">50</text>
<text x="845.7" y="760.8" font-size="34" fill="#5a5a5a" text-anchor="middle">100</text>
<path d="M539.5,720.0 V715.8 M539.5,615.5 V619.7 M694.6,720.0 V715.8 M694.6,615.5 V619.7 M849.7,720.0 V715.8 M849.7,615.5 V619.7" stroke="#5a5a5a" stroke-width="2" fill="none"/>
<text x="495.3" y="650.1" font-size="34" fill="#262626" text-anchor="end">2</text>
<text x="495.3" y="678.4" font-size="34" fill="#262626" text-anchor="end">0</text>
<text x="498.0" y="705.1" font-size="34" fill="#262626" text-anchor="end">-2</text>
<text x="498.0" y="732.6" font-size="34" fill="#262626" text-anchor="end">-4</text>
<path d="M508.5,636.8 H512.7 M863.0,636.8 H858.8 M508.5,665.0 H512.7 M863.0,665.0 H858.8 M508.5,691.8 H512.7 M863.0,691.8 H858.8 M508.5,719.2 H512.7 M863.0,719.2 H858.8" stroke="#262626" stroke-width="2" fill="none"/>
<path d="M513.6,590.6 l15.8,16 M529.4,590.6 l-15.8,16" stroke="#262626" stroke-width="1.5"/>
<text x="539.5" y="607.1" font-size="33" fill="#262626">10</text>
<text x="584.5" y="590.1" font-size="26" fill="#262626">-7</text>
<text x="539.9" y="654.8" font-size="34" fill="#000">PP</text>
<text x="722.4" y="646.0" font-size="34" fill="#000">HDC.00</text>
<text x="538.8" y="706.2" font-size="27.5" fill="#000" stroke="#000" stroke-width="0.3" font-family="Liberation Serif, serif">SNR=<tspan>3.5</tspan></text>
<text x="722.4" y="708.6" font-size="34" fill="#000" stroke="#000" stroke-width="0.45" font-family="Liberation Serif, serif">62<tspan stroke-width="0">°</tspan>, 98<tspan stroke-width="0">°</tspan></text>
<clipPath id="c17"><rect x="979.5" y="607.5" width="355.0" height="120.5"/></clipPath>
<g clip-path="url(#c17)" fill="none" stroke-linejoin="round" stroke-linecap="round">
<path d="M979.5,664.3l2,-0.1 2,-0.1 2,-0.1 2,-0.1 2,-0.2 2,-0.1 2,-0.1 2,-0.2 2,-0.1 2,-0.2 2,-0.2 2,-0.2 2,-0.1 2,-0.2 2,-0.2 2,-0.2 2,-0.2 2,-0.3 2,-0.3 2,-0.3 2,-0.2 2,0 2,0.1 2,0.2 2,0.3 2,0.3 2,0.3 2,0.3 2,0.3 2,0.2 2,0 2,-0.7 2,-1.5 2,-2.3 2,-2.8 2,-2.7 2,-2.3 2,-1.8 2,-1.3 2,-1 2,-0.5 2,0.1 2,0.8 2,1.5 2,2.2 2,2.8 2,3.4 2,4.2 2,4.9 2,5.3 2,5.4 2,5.2 2,5 2,4.6 2,4.6 2,4.5 2,4.3 2,4.2 2,3.5 2,2.2 2,0.4 2,-1.3 2,-2.8 2,-3.9 2,-4.9 2,-5.9 2,-6.6 2,-7.2 2,-7.3 2,-7.4 2,-7.4 2,-7.3 2,-7 2,-6.5 2,-5.7 2,-5 2,-3.9 2,-2.7 2,-1.6 2,-0.9 2,-0.3 2,0.3 2,1.1 2,1.9 2,2.5 2,3 2,3.4 2,3.8 2,4.1 2,4.2 2,4 2,3.7 2,3.3 2,2.9 2,2.8 2,2.6 2,2.6 2,2.7 2,2.7 2,2.7 2,2.6 2,2.3 2,2.1 2,1.8 2,1.7 2,1.4 2,1.2 2,0.8 2,0.5 2,0.1 2,0 2,-0.2 2,-0.2 2,-0.2 2,-0.5 2,-0.7 2,-1.2 2,-1.7 2,-2 2,-2.1 2,-2.2 2,-2.2 2,-2.1 2,-2.1 2,-1.8 2,-1.6 2,-1.4 2,-1.2 2,-0.9 2,-0.5 2,-0.2 2,0.2 2,0.3 2,0.5 2,0.5 2,0.6 2,0.7 2,0.8 2,0.9 2,0.8 2,0.6 2,0.3 2,0 2,-0.1 2,-0.1 2,-0.2 2,-0.3 2,-0.6 2,-1.1 2,-1.5 2,-1.8 2,-1.8 2,-1.4 2,-0.8 2,0 2,0.5 2,0.7 2,0.6 2,0.2 2,-0.4 2,-0.9 2,-1.3 2,-1.2 2,-0.5 2,0.1 2,0.9 2,1.2 2,1.2 2,0.9 2,0.3 2,0 2,-0.3 2,-0.6 2,-0.7 2,-0.8" stroke="#666666" stroke-width="9"/>
<path d="M979.5,664.3l2,0 2,-0.1 2,0 2,0 2,0 2,-0.1 2,0 2,0 2,-0.1 2,0 2,-0.1 2,0 2,0 2,-0.1 2,0 2,0 2,-0.1 2,0 2,0 2,0 2,0 2,0 2,0 2,-0.1 2,-0.1 2,-0.2 2,-0.3 2,-0.4 2,-0.5 2,-0.7 2,-0.9 2,-0.9 2,-1.1 2,-1.2 2,-1.2 2,-1.2 2,-1 2,-0.8 2,-0.6 2,-0.2 2,0.2 2,0.7 2,1.1 2,1.7 2,2 2,2.6 2,2.9 2,3.2 2,3.4 2,3.6 2,3.7 2,3.6 2,3.5 2,3.3 2,2.9 2,2.5 2,2 2,1.3 2,0.6 2,-0.1 2,-1 2,-1.7 2,-2.5 2,-3.2 2,-3.9 2,-4.5 2,-5 2,-5.3 2,-5.7 2,-5.7 2,-5.7 2,-5.5 2,-5.2 2,-4.8 2,-4.2 2,-3.5 2,-2.8 2,-2.2 2,-1.4 2,-0.6 2,-0.1 2,0.7 2,1.2 2,1.7 2,2.3 2,2.6 2,2.9 2,3.2 2,3.3 2,3.4 2,3.3 2,3.3 2,3.1 2,2.8 2,2.8 2,2.5 2,2.3 2,2.1 2,2 2,1.7 2,1.6 2,1.5 2,1.2 2,1.1 2,0.9 2,0.8 2,0.6 2,0.5 2,0.3 2,0.2 2,0.2 2,0 2,0 2,-0.1 2,-0.2 2,-0.2 2,-0.3 2,-0.3 2,-0.4 2,-0.5 2,-0.4 2,-0.6 2,-0.5 2,-0.6 2,-0.6 2,-0.6 2,-0.5 2,-0.6 2,-0.6 2,-0.6 2,-0.6 2,-0.6 2,-0.6 2,-0.6 2,-0.6 2,-0.6 2,-0.6 2,-0.5 2,-0.6 2,-0.5 2,-0.5 2,-0.5 2,-0.5 2,-0.4 2,-0.5 2,-0.4 2,-0.4 2,-0.3 2,-0.4 2,-0.3 2,-0.3 2,-0.3 2,-0.3 2,-0.3 2,-0.2 2,-0.3 2,-0.2 2,-0.1 2,-0.2 2,-0.1 2,-0.1 2,-0.1 2,0 2,0 2,0 2,0 2,0 2,0 2,0 2,0 2,0 2,0 2,0 2,0 2,0" stroke="#ff0000" stroke-width="9"/>
</g>
<rect x="1218.8" y="642.5" width="8.8" height="46.8" fill="#0000ff"/>
<path d="M978.5,615.5 H1330.5 M978.5,720.0 H1330.5" stroke="#5a5a5a" stroke-width="2.2" fill="none"/>
<path d="M979.5,614.5 V721.0 M1329.5,614.5 V721.0" stroke="#262626" stroke-width="2.2" fill="none"/>
<text x="1006.1" y="760.8" font-size="34" fill="#5a5a5a" text-anchor="middle">0</text>
<text x="1159.2" y="760.8" font-size="34" fill="#5a5a5a" text-anchor="middle">50</text>
<text x="1312.4" y="760.8" font-size="34" fill="#5a5a5a" text-anchor="middle">100</text>
<path d="M1010.1,720.0 V715.8 M1010.1,615.5 V619.7 M1163.2,720.0 V715.8 M1163.2,615.5 V619.7 M1316.4,720.0 V715.8 M1316.4,615.5 V619.7" stroke="#5a5a5a" stroke-width="2" fill="none"/>
<text x="966.3" y="640.9" font-size="34" fill="#262626" text-anchor="end">1</text>
<text x="966.3" y="677.1" font-size="34" fill="#262626" text-anchor="end">0</text>
<text x="969.0" y="713.4" font-size="34" fill="#262626" text-anchor="end">-1</text>
<path d="M979.5,627.5 H983.7 M1329.5,627.5 H1325.3 M979.5,663.8 H983.7 M1329.5,663.8 H1325.3 M979.5,700.0 H983.7 M1329.5,700.0 H1325.3" stroke="#262626" stroke-width="2" fill="none"/>
<path d="M984.6,590.6 l15.8,16 M1000.4,590.6 l-15.8,16" stroke="#262626" stroke-width="1.5"/>
<text x="1010.5" y="607.1" font-size="33" fill="#262626">10</text>
<text x="1055.5" y="590.1" font-size="26" fill="#262626">-6</text>
<text x="1010.5" y="654.3" font-size="34" fill="#000">P</text>
<text x="1190.7" y="645.5" font-size="34" fill="#000">IVI.00</text>
<text x="1009.4" y="705.5" font-size="27.5" fill="#000" stroke="#000" stroke-width="0.3" font-family="Liberation Serif, serif">SNR=<tspan>11.1</tspan></text>
<text x="1190.7" y="707.9" font-size="34" fill="#000" stroke="#000" stroke-width="0.45" font-family="Liberation Serif, serif">14<tspan stroke-width="0">°</tspan>, 65<tspan stroke-width="0">°</tspan></text>
<clipPath id="c18"><rect x="1446.0" y="607.5" width="359.0" height="120.5"/></clipPath>
<g clip-path="url(#c18)" fill="none" stroke-linejoin="round" stroke-linecap="round">
<path d="M1446.0,666.3l2,0.2 2,0.3 2,0.2 2,0.2 2,0.2 2,0.2 2,0.1 2,0.1 2,0 2,0.1 2,0 2,0.1 2,0 2,0 2,0 2,0 2,-0.1 2,-0.2 2,-0.4 2,-0.4 2,-0.5 2,-0.4 2,-0.3 2,-0.2 2,0 2,0.1 2,0.2 2,0.2 2,0.2 2,0.3 2,0.2 2,0.1 2,0.2 2,0.1 2,0.1 2,0.2 2,0.1 2,0.2 2,0.4 2,0.4 2,0.6 2,0.6 2,0.5 2,0.2 2,0.1 2,-0.1 2,-0.2 2,-0.3 2,-0.3 2,-0.3 2,-0.3 2,-0.5 2,-0.6 2,-0.5 2,-0.4 2,-0.2 2,0.3 2,0.9 2,1.3 2,1.5 2,1.5 2,1.2 2,1 2,0.7 2,0.2 2,-0.5 2,-1.3 2,-1.9 2,-2.5 2,-2.9 2,-3.3 2,-3.7 2,-4.1 2,-4.4 2,-4.3 2,-4.4 2,-4.3 2,-3.9 2,-3.2 2,-2.1 2,-1.2 2,-0.5 2,-0.2 2,0 2,0.4 2,0.8 2,1.2 2,1.8 2,2 2,2.5 2,2.8 2,3 2,3.3 2,3.5 2,3.6 2,3.7 2,3.6 2,3.4 2,3 2,2.5 2,2.2 2,2.2 2,2.8 2,3.7 2,4.9 2,5.9 2,6.3 2,5.9 2,5.2 2,3.9 2,2.4 2,1.1 2,-0.1 2,-0.5 2,-0.8 2,-0.8 2,-0.7 2,-0.9 2,-1.3 2,-2 2,-3.5 2,-5.2 2,-6.8 2,-7.3 2,-6.6 2,-5.5 2,-4.2 2,-3.1 2,-2 2,-1.3 2,-0.8 2,-0.6 2,-0.4 2,-0.4 2,-0.2 2,0 2,0.1 2,0.2 2,0.2 2,0.3 2,0.3 2,0.3 2,0.3 2,0.4 2,0.5 2,0.3 2,0.2 2,0 2,-0.2 2,-0.5 2,-0.6 2,-0.9 2,-1 2,-1.3 2,-1.7 2,-2 2,-2.1 2,-2.1 2,-1.9 2,-1.6 2,-1.4 2,-1.2 2,-1 2,-0.7 2,-0.3 2,-0.1 2,0.3 2,0.5 2,0.7 2,0.8 2,0.9 2,1.1 2,1.3 2,1.7 2,1.9 2,2.2 2,2.2" stroke="#666666" stroke-width="9"/>
<path d="M1446.0,666.2l2,0 2,0 2,0 2,0 2,0 2,0 2,0.1 2,0 2,0 2,0 2,0 2,0 2,0 2,0 2,0 2,-0.1 2,0 2,0 2,0 2,0 2,-0.1 2,0 2,-0.1 2,0 2,-0.1 2,0 2,-0.1 2,-0.1 2,0 2,-0.1 2,0 2,-0.1 2,0 2,-0.1 2,-0.1 2,0 2,-0.1 2,-0.1 2,-0.1 2,-0.1 2,0 2,0 2,0 2,0.1 2,0.2 2,0.3 2,0.4 2,0.5 2,0.6 2,0.8 2,0.9 2,1.1 2,1.2 2,1.2 2,1.4 2,1.4 2,1.4 2,1.5 2,1.3 2,1.2 2,1 2,0.8 2,0.4 2,0 2,-0.5 2,-0.9 2,-1.5 2,-2.1 2,-2.6 2,-3.1 2,-3.6 2,-3.9 2,-4.4 2,-4.5 2,-4.7 2,-4.7 2,-4.6 2,-4.4 2,-4.1 2,-3.6 2,-3.1 2,-2.5 2,-1.8 2,-1.1 2,-0.4 2,0.4 2,1.1 2,1.8 2,2.4 2,3 2,3.4 2,3.7 2,4 2,4.2 2,4.3 2,4.3 2,4.4 2,4.2 2,4.2 2,4.1 2,3.9 2,3.8 2,3.5 2,3.3 2,3.1 2,2.7 2,2.3 2,1.9 2,1.5 2,1.1 2,0.7 2,0.3 2,-0.1 2,-0.4 2,-0.6 2,-0.9 2,-1.1 2,-1.2 2,-1.3 2,-1.4 2,-1.5 2,-1.4 2,-1.5 2,-1.4 2,-1.4 2,-1.4 2,-1.3 2,-1.3 2,-1.2 2,-1.2 2,-1.2 2,-1.2 2,-1.2 2,-1.1 2,-1.2 2,-1.2 2,-1.1 2,-1.2 2,-1.1 2,-1.1 2,-1 2,-1 2,-0.9 2,-0.8 2,-0.8 2,-0.8 2,-0.7 2,-0.6 2,-0.6 2,-0.6 2,-0.6 2,-0.5 2,-0.5 2,-0.4 2,-0.5 2,-0.4 2,-0.3 2,-0.3 2,-0.3 2,-0.3 2,-0.2 2,-0.2 2,-0.2 2,-0.1 2,-0.1 2,-0.1 2,-0.1 2,0 2,0.1 2,0 2,0.1 2,0.1 2,0.1 2,0.2 2,0.2 2,0.1 2,0.2" stroke="#ff0000" stroke-width="9"/>
</g>
<rect x="1688.1" y="643.0" width="8.8" height="47.0" fill="#0000ff"/>
<path d="M1445.0,615.5 H1801.0 M1445.0,720.0 H1801.0" stroke="#5a5a5a" stroke-width="2.2" fill="none"/>
<path d="M1446.0,614.5 V721.0 M1800.0,614.5 V721.0" stroke="#262626" stroke-width="2.2" fill="none"/>
<text x="1473.0" y="760.8" font-size="34" fill="#5a5a5a" text-anchor="middle">0</text>
<text x="1627.8" y="760.8" font-size="34" fill="#5a5a5a" text-anchor="middle">50</text>
<text x="1782.7" y="760.8" font-size="34" fill="#5a5a5a" text-anchor="middle">100</text>
<path d="M1477.0,720.0 V715.8 M1477.0,615.5 V619.7 M1631.8,720.0 V715.8 M1631.8,615.5 V619.7 M1786.7,720.0 V715.8 M1786.7,615.5 V619.7" stroke="#5a5a5a" stroke-width="2" fill="none"/>
<text x="1432.8" y="650.1" font-size="34" fill="#262626" text-anchor="end">5</text>
<text x="1432.8" y="678.9" font-size="34" fill="#262626" text-anchor="end">0</text>
<text x="1435.5" y="707.6" font-size="34" fill="#262626" text-anchor="end">-5</text>
<path d="M1446.0,636.8 H1450.2 M1800.0,636.8 H1795.8 M1446.0,665.5 H1450.2 M1800.0,665.5 H1795.8 M1446.0,694.2 H1450.2 M1800.0,694.2 H1795.8" stroke="#262626" stroke-width="2" fill="none"/>
<path d="M1451.1,590.6 l15.8,16 M1466.9,590.6 l-15.8,16" stroke="#262626" stroke-width="1.5"/>
<text x="1477.0" y="607.1" font-size="33" fill="#262626">10</text>
<text x="1522.0" y="590.1" font-size="26" fill="#262626">-7</text>
<text x="1477.3" y="654.8" font-size="34" fill="#000">P</text>
<text x="1659.6" y="646.0" font-size="34" fill="#000">KIP.00</text>
<text x="1476.3" y="706.2" font-size="27.5" fill="#000" stroke="#000" stroke-width="0.3" font-family="Liberation Serif, serif">SNR=<tspan>7.1</tspan></text>
<text x="1659.6" y="708.6" font-size="34" fill="#000" stroke="#000" stroke-width="0.45" font-family="Liberation Serif, serif">115<tspan stroke-width="0">°</tspan>, 45<tspan stroke-width="0">°</tspan></text>
<clipPath id="c19"><rect x="1916.5" y="607.5" width="355.0" height="120.5"/></clipPath>
<g clip-path="url(#c19)" fill="none" stroke-linejoin="round" stroke-linecap="round">
<path d="M1916.5,666.3l2,0.2 2,0.3 2,0.2 2,0.2 2,0.2 2,0.2 2,0.1 2,0.1 2,0 2,0.1 2,0 2,0.1 2,0 2,0 2,0 2,0 2,-0.1 2,-0.1 2,-0.3 2,-0.3 2,-0.3 2,-0.3 2,-0.2 2,-0.1 2,0 2,0.1 2,0.2 2,0.2 2,0.3 2,0.2 2,0.1 2,0.2 2,0 2,0.1 2,0 2,0 2,0.1 2,0.1 2,0.2 2,0.4 2,0.5 2,0.6 2,0.5 2,0.3 2,0.1 2,0 2,-0.1 2,0 2,-0.2 2,-0.2 2,-0.4 2,-0.6 2,-0.8 2,-0.7 2,-0.5 2,0.1 2,0.8 2,1.3 2,1.7 2,1.6 2,1.3 2,1 2,0.6 2,0 2,-0.7 2,-1.5 2,-2.1 2,-2.6 2,-3 2,-3.4 2,-3.8 2,-4.2 2,-4.3 2,-4.4 2,-4.4 2,-4.3 2,-3.7 2,-2.9 2,-1.9 2,-0.9 2,-0.5 2,-0.1 2,0.1 2,0.4 2,0.9 2,1.4 2,1.9 2,2.1 2,2.5 2,2.9 2,3.2 2,3.3 2,3.5 2,3.6 2,3.7 2,3.6 2,3.3 2,2.9 2,2.4 2,2.2 2,2.3 2,2.9 2,4.1 2,5.2 2,6.1 2,6.1 2,5.4 2,4.6 2,3.4 2,2.3 2,1.1 2,0.1 2,-0.4 2,-0.6 2,-0.7 2,-0.7 2,-1 2,-1.5 2,-2.6 2,-4 2,-5.8 2,-7.1 2,-7.2 2,-6.3 2,-5.2 2,-3.9 2,-2.8 2,-1.8 2,-1.1 2,-0.7 2,-0.6 2,-0.4 2,-0.3 2,-0.2 2,0 2,0.1 2,0.2 2,0.3 2,0.2 2,0.3 2,0.4 2,0.3 2,0.5 2,0.4 2,0.3 2,0.1 2,0 2,-0.3 2,-0.5 2,-0.7 2,-0.9 2,-1.1 2,-1.4 2,-1.7 2,-2.1 2,-2.1 2,-2.1 2,-1.8 2,-1.6 2,-1.3 2,-1.2 2,-0.9 2,-0.6 2,-0.3 2,0.1 2,0.3 2,0.5 2,0.7 2,0.8 2,1 2,1.3 2,1.8 2,2.1 2,2.4 2,2.5" stroke="#666666" stroke-width="9"/>
<path d="M1916.5,666.2l2,0 2,0 2,0 2,0 2,0 2,0 2,0.1 2,0 2,0 2,0 2,0 2,0 2,0 2,0 2,0 2,-0.1 2,0 2,0 2,0 2,0 2,-0.1 2,0 2,-0.1 2,0 2,-0.1 2,0 2,-0.1 2,-0.1 2,0 2,-0.1 2,0 2,-0.1 2,0 2,-0.1 2,-0.1 2,0 2,-0.1 2,-0.1 2,-0.1 2,-0.1 2,0 2,0 2,0 2,0.1 2,0.2 2,0.2 2,0.4 2,0.5 2,0.7 2,0.8 2,0.9 2,1.1 2,1.2 2,1.4 2,1.4 2,1.5 2,1.5 2,1.4 2,1.4 2,1.1 2,0.9 2,0.6 2,0.1 2,-0.4 2,-1 2,-1.6 2,-2.1 2,-2.7 2,-3.3 2,-3.7 2,-4.1 2,-4.4 2,-4.6 2,-4.7 2,-4.7 2,-4.6 2,-4.4 2,-4 2,-3.5 2,-3 2,-2.4 2,-1.7 2,-1 2,-0.3 2,0.4 2,1.2 2,1.9 2,2.5 2,3.1 2,3.5 2,3.9 2,4.2 2,4.4 2,4.4 2,4.4 2,4.4 2,4.4 2,4.2 2,4 2,3.9 2,3.7 2,3.4 2,3.2 2,2.9 2,2.6 2,2.2 2,1.8 2,1.4 2,1.1 2,0.7 2,0.4 2,0.1 2,-0.3 2,-0.4 2,-0.8 2,-0.9 2,-1.2 2,-1.2 2,-1.4 2,-1.5 2,-1.5 2,-1.4 2,-1.5 2,-1.5 2,-1.5 2,-1.4 2,-1.4 2,-1.4 2,-1.3 2,-1.3 2,-1.4 2,-1.3 2,-1.2 2,-1.3 2,-1.2 2,-1.2 2,-1.2 2,-1.1 2,-1 2,-1 2,-0.9 2,-0.9 2,-0.8 2,-0.8 2,-0.7 2,-0.7 2,-0.7 2,-0.6 2,-0.6 2,-0.5 2,-0.5 2,-0.5 2,-0.4 2,-0.5 2,-0.4 2,-0.3 2,-0.3 2,-0.3 2,-0.3 2,-0.2 2,-0.2 2,-0.1 2,-0.2 2,-0.1 2,0 2,-0.1 2,0.1 2,0 2,0.1 2,0.1 2,0.1 2,0.2 2,0.1 2,0.2 2,0.2" stroke="#ff0000" stroke-width="9"/>
</g>
<rect x="2156.3" y="643.0" width="8.8" height="47.0" fill="#0000ff"/>
<path d="M1915.5,615.5 H2267.5 M1915.5,720.0 H2267.5" stroke="#5a5a5a" stroke-width="2.2" fill="none"/>
<path d="M1916.5,614.5 V721.0 M2266.5,614.5 V721.0" stroke="#262626" stroke-width="2.2" fill="none"/>
<text x="1943.1" y="760.8" font-size="34" fill="#5a5a5a" text-anchor="middle">0</text>
<text x="2096.2" y="760.8" font-size="34" fill="#5a5a5a" text-anchor="middle">50</text>
<text x="2249.4" y="760.8" font-size="34" fill="#5a5a5a" text-anchor="middle">100</text>
<path d="M1947.1,720.0 V715.8 M1947.1,615.5 V619.7 M2100.2,720.0 V715.8 M2100.2,615.5 V619.7 M2253.4,720.0 V715.8 M2253.4,615.5 V619.7" stroke="#5a5a5a" stroke-width="2" fill="none"/>
<text x="1903.3" y="650.1" font-size="34" fill="#262626" text-anchor="end">5</text>
<text x="1903.3" y="678.9" font-size="34" fill="#262626" text-anchor="end">0</text>
<text x="1906.0" y="707.6" font-size="34" fill="#262626" text-anchor="end">-5</text>
<path d="M1916.5,636.8 H1920.7 M2266.5,636.8 H2262.3 M1916.5,665.5 H1920.7 M2266.5,665.5 H2262.3 M1916.5,694.2 H1920.7 M2266.5,694.2 H2262.3" stroke="#262626" stroke-width="2" fill="none"/>
<path d="M1921.6,590.6 l15.8,16 M1937.4,590.6 l-15.8,16" stroke="#262626" stroke-width="1.5"/>
<text x="1947.5" y="607.1" font-size="33" fill="#262626">10</text>
<text x="1992.5" y="590.1" font-size="26" fill="#262626">-7</text>
<text x="1947.5" y="654.8" font-size="34" fill="#000">P</text>
<text x="2127.7" y="646.0" font-size="34" fill="#000">KIP.10</text>
<text x="1946.4" y="706.2" font-size="27.5" fill="#000" stroke="#000" stroke-width="0.3" font-family="Liberation Serif, serif">SNR=<tspan>6.8</tspan></text>
<text x="2127.7" y="708.6" font-size="34" fill="#000" stroke="#000" stroke-width="0.45" font-family="Liberation Serif, serif">115<tspan stroke-width="0">°</tspan>, 45<tspan stroke-width="0">°</tspan></text>
<clipPath id="c20"><rect x="41.5" y="799.5" width="355.5" height="116.5"/></clipPath>
<g clip-path="url(#c20)" fill="none" stroke-linejoin="round" stroke-linecap="round">
<path d="M41.5,855.5l2,0.3 2,0.3 2,0.3 2,0.2 2,0.2 2,0.1 2,0.2 2,0.1 2,0.1 2,0 2,0.1 2,0 2,0.1 2,0 2,0 2,0 2,0 2,-0.1 2,-0.2 2,-0.3 2,-0.3 2,-0.3 2,-0.2 2,-0.1 2,0 2,0 2,0.1 2,0.2 2,0.1 2,0.1 2,0.2 2,0.1 2,0.1 2,0.1 2,0.2 2,0.1 2,0.2 2,0.2 2,0.3 2,0.4 2,0.6 2,0.5 2,0.5 2,0.4 2,0.1 2,-0.1 2,-0.1 2,-0.2 2,-0.3 2,-0.4 2,-0.6 2,-0.8 2,-0.9 2,-0.9 2,-0.4 2,0.1 2,0.7 2,1.2 2,1.6 2,1.6 2,1.5 2,1.4 2,1 2,0.4 2,-0.4 2,-1.2 2,-2 2,-2.5 2,-2.9 2,-3.4 2,-3.7 2,-4.2 2,-4.2 2,-4.3 2,-4.2 2,-4.1 2,-3.6 2,-2.9 2,-1.9 2,-1.1 2,-0.5 2,-0.2 2,0 2,0.2 2,0.6 2,1 2,1.4 2,1.8 2,2.3 2,2.7 2,3.1 2,3.4 2,3.5 2,3.6 2,3.7 2,3.6 2,3.4 2,3 2,2.5 2,2.2 2,2.2 2,2.8 2,3.7 2,5 2,5.9 2,6.3 2,5.7 2,4.8 2,3.6 2,2.2 2,0.8 2,-0.1 2,-0.6 2,-0.7 2,-0.7 2,-0.7 2,-0.7 2,-1 2,-1.8 2,-3.2 2,-5 2,-6.8 2,-7.2 2,-6.6 2,-5.5 2,-4.2 2,-3.1 2,-2.1 2,-1.4 2,-1 2,-0.8 2,-0.6 2,-0.4 2,-0.2 2,0 2,0.1 2,0.2 2,0.3 2,0.3 2,0.3 2,0.4 2,0.5 2,0.5 2,0.5 2,0.4 2,0.3 2,0 2,-0.2 2,-0.5 2,-0.6 2,-0.9 2,-1 2,-1.3 2,-1.7 2,-2 2,-2.1 2,-2.1 2,-1.9 2,-1.6 2,-1.4 2,-1.2 2,-1 2,-0.7 2,-0.3 2,-0.1 2,0.3 2,0.5 2,0.6 2,0.8 2,1 2,1.2 2,1.6 2,2 2,2.4 2,2.5 0.5,0.6" stroke="#666666" stroke-width="9"/>
<path d="M41.5,855.5l2,0 2,0 2,0 2,0 2,0 2,0 2,0 2,0 2,0 2,0 2,0 2,0 2,0 2,0 2,0 2,0 2,0 2,0 2,-0.1 2,0 2,0 2,-0.1 2,0 2,-0.1 2,0 2,-0.1 2,0 2,-0.1 2,0 2,-0.1 2,-0.1 2,0 2,-0.1 2,-0.1 2,-0.1 2,-0.1 2,-0.1 2,0 2,-0.1 2,-0.1 2,0.1 2,0 2,0.2 2,0.2 2,0.4 2,0.5 2,0.6 2,0.7 2,0.9 2,1 2,1.1 2,1.2 2,1.3 2,1.3 2,1.4 2,1.4 2,1.3 2,1.3 2,1.2 2,0.9 2,0.7 2,0.4 2,0 2,-0.4 2,-0.9 2,-1.5 2,-2 2,-2.5 2,-3.1 2,-3.5 2,-4 2,-4.3 2,-4.5 2,-4.7 2,-4.7 2,-4.5 2,-4.4 2,-4 2,-3.5 2,-3.1 2,-2.4 2,-1.7 2,-1.1 2,-0.4 2,0.4 2,1 2,1.7 2,2.4 2,2.8 2,3.4 2,3.7 2,4 2,4.1 2,4.3 2,4.4 2,4.3 2,4.3 2,4.2 2,4 2,4 2,3.7 2,3.5 2,3.2 2,2.9 2,2.5 2,2.2 2,1.8 2,1.4 2,1 2,0.6 2,0.3 2,-0.1 2,-0.3 2,-0.5 2,-0.8 2,-0.9 2,-1.1 2,-1.2 2,-1.3 2,-1.3 2,-1.4 2,-1.5 2,-1.4 2,-1.4 2,-1.3 2,-1.3 2,-1.3 2,-1.3 2,-1.2 2,-1.2 2,-1.2 2,-1.1 2,-1.2 2,-1.2 2,-1.2 2,-1.1 2,-1.2 2,-1.1 2,-1.1 2,-1 2,-1.1 2,-0.9 2,-0.9 2,-0.9 2,-0.8 2,-0.7 2,-0.7 2,-0.7 2,-0.5 2,-0.6 2,-0.5 2,-0.4 2,-0.4 2,-0.4 2,-0.3 2,-0.3 2,-0.3 2,-0.3 2,-0.2 2,-0.2 2,-0.2 2,-0.2 2,-0.1 2,-0.1 2,-0.1 2,0 2,0 2,0 2,0.1 2,0.1 2,0.1 2,0.1 2,0.2 2,0.2 2,0.1 0.5,0.1" stroke="#ff0000" stroke-width="9"/>
</g>
<rect x="280.9" y="834.2" width="8.8" height="45.0" fill="#0000ff"/>
<path d="M40.5,807.5 H393.0 M40.5,908.0 H393.0" stroke="#5a5a5a" stroke-width="2.2" fill="none"/>
<path d="M41.5,806.5 V909.0 M392.0,806.5 V909.0" stroke="#262626" stroke-width="2.2" fill="none"/>
<text x="68.2" y="948.8" font-size="34" fill="#5a5a5a" text-anchor="middle">0</text>
<text x="221.5" y="948.8" font-size="34" fill="#5a5a5a" text-anchor="middle">50</text>
<text x="374.9" y="948.8" font-size="34" fill="#5a5a5a" text-anchor="middle">100</text>
<path d="M72.2,908.0 V903.8 M72.2,807.5 V811.7 M225.5,908.0 V903.8 M225.5,807.5 V811.7 M378.9,908.0 V903.8 M378.9,807.5 V811.7" stroke="#5a5a5a" stroke-width="2" fill="none"/>
<text x="28.3" y="841.9" font-size="34" fill="#262626" text-anchor="end">5</text>
<text x="28.3" y="868.9" font-size="34" fill="#262626" text-anchor="end">0</text>
<text x="31.0" y="895.9" font-size="34" fill="#262626" text-anchor="end">-5</text>
<path d="M41.5,828.5 H45.7 M392.0,828.5 H387.8 M41.5,855.5 H45.7 M392.0,855.5 H387.8 M41.5,882.5 H45.7 M392.0,882.5 H387.8" stroke="#262626" stroke-width="2" fill="none"/>
<path d="M46.6,782.6 l15.8,16 M62.4,782.6 l-15.8,16" stroke="#262626" stroke-width="1.5"/>
<text x="72.5" y="799.1" font-size="33" fill="#262626">10</text>
<text x="117.5" y="782.1" font-size="26" fill="#262626">-7</text>
<text x="72.5" y="846.0" font-size="34" fill="#000">P</text>
<text x="253.0" y="837.2" font-size="34" fill="#000">KIP.60</text>
<text x="71.5" y="895.5" font-size="27.5" fill="#000" stroke="#000" stroke-width="0.3" font-family="Liberation Serif, serif">SNR=<tspan>6.8</tspan></text>
<text x="253.0" y="897.9" font-size="34" fill="#000" stroke="#000" stroke-width="0.45" font-family="Liberation Serif, serif">115<tspan stroke-width="0">°</tspan>, 45<tspan stroke-width="0">°</tspan></text>
<clipPath id="c21"><rect x="508.5" y="799.5" width="359.5" height="116.5"/></clipPath>
<g clip-path="url(#c21)" fill="none" stroke-linejoin="round" stroke-linecap="round">
<path d="M508.5,858.0l2,-0.1 2,0 2,-0.1 2,-0.1 2,0 2,0 2,-0.1 2,0 2,0 2,-0.1 2,0 2,0 2,0 2,0 2,0 2,0 2,0 2,0 2,0 2,0.1 2,0 2,0.1 2,0 2,0 2,0.1 2,0.1 2,0.2 2,0.4 2,0.5 2,0.7 2,0.7 2,0.4 2,0 2,-0.7 2,-1.4 2,-2 2,-2.4 2,-2.6 2,-2.7 2,-2.8 2,-2.6 2,-2.4 2,-1.8 2,-1.4 2,-1.1 2,-0.8 2,-0.4 2,0 2,0.5 2,1.2 2,1.8 2,2.3 2,2.8 2,3.4 2,3.9 2,4.4 2,4.7 2,4.6 2,4.6 2,4.6 2,4.5 2,4.7 2,4.9 2,4.9 2,4.4 2,3.1 2,1.5 2,-0.4 2,-1.8 2,-2.9 2,-3.9 2,-4.8 2,-5.6 2,-6 2,-6 2,-5.9 2,-5.6 2,-5.4 2,-4.9 2,-4.3 2,-3.7 2,-3.2 2,-2.7 2,-2.3 2,-1.9 2,-1.4 2,-1.1 2,-0.7 2,-0.4 2,0 2,0.2 2,0.5 2,0.6 2,0.6 2,0.7 2,0.6 2,0.7 2,0.6 2,0.8 2,0.8 2,1 2,1.2 2,1.4 2,1.7 2,1.9 2,2.2 2,2.4 2,2.7 2,3 2,3.2 2,3.2 2,2.9 2,2.3 2,1.9 2,1.4 2,1 2,0.6 2,0.2 2,-0.4 2,-1 2,-1.3 2,-1.5 2,-1.5 2,-1.3 2,-1.3 2,-1.1 2,-1 2,-0.8 2,-0.7 2,-0.4 2,0 2,0.2 2,0.4 2,0.6 2,0.7 2,1 2,1.2 2,1.6 2,2.1 2,2.4 2,2.7 2,2.7 2,2.7 2,2.8 2,2.6 2,2.2 2,1.9 2,1.5 2,1.3 2,0.9 2,0.6 2,0.2 2,-0.1 2,-0.3 2,-0.5 2,-0.8 2,-1.2 2,-1.8 2,-2.6 2,-3.3 2,-3.7 2,-4.2 2,-4.5 2,-5 2,-5.2 2,-5.3 2,-5.2 2,-5 2,-4.9 2,-4.5 2,-4.1 2,-3.5 2,-3 2,-2.6 2,-2.2 2,-1.9 2,-1.8 0.5,-0.4" stroke="#666666" stroke-width="9"/>
<path d="M508.5,858.0l2,0 2,0 2,0 2,0 2,0 2,0 2,0 2,0 2,0 2,0 2,0 2,-0.1 2,0 2,0 2,0 2,0 2,0 2,0 2,0.1 2,0.1 2,0.2 2,0.2 2,0.2 2,0.3 2,0.3 2,0.4 2,0.3 2,0.2 2,0.2 2,0.1 2,-0.2 2,-0.4 2,-0.7 2,-1.1 2,-1.4 2,-1.8 2,-2 2,-2.3 2,-2.3 2,-2.3 2,-2.3 2,-2.1 2,-1.9 2,-1.5 2,-1.2 2,-0.8 2,-0.4 2,0.1 2,0.6 2,1.2 2,1.8 2,2.3 2,2.9 2,3.4 2,3.9 2,4.3 2,4.6 2,4.8 2,4.9 2,4.9 2,4.7 2,4.5 2,3.9 2,3.4 2,2.6 2,1.8 2,0.8 2,-0.1 2,-1.2 2,-2 2,-2.9 2,-3.6 2,-4.2 2,-4.6 2,-4.8 2,-5 2,-4.9 2,-4.8 2,-4.5 2,-4.1 2,-3.8 2,-3.3 2,-2.8 2,-2.4 2,-1.9 2,-1.5 2,-1.1 2,-0.8 2,-0.5 2,-0.2 2,-0.1 2,0.2 2,0.2 2,0.4 2,0.5 2,0.6 2,0.6 2,0.8 2,0.9 2,0.9 2,1.1 2,1 2,1.2 2,1.1 2,1.2 2,1.2 2,1.1 2,1.2 2,1.2 2,1.1 2,1.2 2,1 2,1.1 2,1.1 2,1 2,1 2,0.9 2,1 2,0.9 2,0.8 2,0.8 2,0.8 2,0.7 2,0.6 2,0.6 2,0.5 2,0.5 2,0.4 2,0.3 2,0.3 2,0.3 2,0.2 2,0.2 2,0.2 2,0.2 2,0.1 2,0.2 2,0.1 2,0.1 2,0.1 2,0.1 2,0 2,0 2,0 2,-0.1 2,-0.1 2,-0.1 2,-0.2 2,-0.2 2,-0.2 2,-0.2 2,-0.3 2,-0.3 2,-0.2 2,-0.4 2,-0.3 2,-0.3 2,-0.3 2,-0.4 2,-0.3 2,-0.3 2,-0.4 2,-0.3 2,-0.2 2,-0.3 2,-0.3 2,-0.2 2,-0.3 2,-0.2 2,-0.2 2,-0.2 2,-0.2 2,-0.2 2,-0.2 2,-0.1 2,-0.2 2,-0.2 0.5,0" stroke="#ff0000" stroke-width="9"/>
</g>
<rect x="750.4" y="836.0" width="8.8" height="44.5" fill="#0000ff"/>
<path d="M507.5,807.5 H864.0 M507.5,908.0 H864.0" stroke="#5a5a5a" stroke-width="2.2" fill="none"/>
<path d="M508.5,806.5 V909.0 M863.0,806.5 V909.0" stroke="#262626" stroke-width="2.2" fill="none"/>
<text x="535.5" y="948.8" font-size="34" fill="#5a5a5a" text-anchor="middle">0</text>
<text x="690.6" y="948.8" font-size="34" fill="#5a5a5a" text-anchor="middle">50</text>
<text x="845.7" y="948.8" font-size="34" fill="#5a5a5a" text-anchor="middle">100</text>
<path d="M539.5,908.0 V903.8 M539.5,807.5 V811.7 M694.6,908.0 V903.8 M694.6,807.5 V811.7 M849.7,908.0 V903.8 M849.7,807.5 V811.7" stroke="#5a5a5a" stroke-width="2" fill="none"/>
<text x="495.3" y="836.9" font-size="34" fill="#262626" text-anchor="end">5</text>
<text x="495.3" y="871.4" font-size="34" fill="#262626" text-anchor="end">0</text>
<text x="498.0" y="905.9" font-size="34" fill="#262626" text-anchor="end">-5</text>
<path d="M508.5,823.5 H512.7 M863.0,823.5 H858.8 M508.5,858.0 H512.7 M863.0,858.0 H858.8 M508.5,892.5 H512.7 M863.0,892.5 H858.8" stroke="#262626" stroke-width="2" fill="none"/>
<path d="M513.6,782.6 l15.8,16 M529.4,782.6 l-15.8,16" stroke="#262626" stroke-width="1.5"/>
<text x="539.5" y="799.1" font-size="33" fill="#262626">10</text>
<text x="584.5" y="782.1" font-size="26" fill="#262626">-7</text>
<text x="539.9" y="847.8" font-size="34" fill="#000">PP</text>
<text x="722.4" y="839.0" font-size="34" fill="#000">MATO.00</text>
<text x="538.8" y="896.7" font-size="27.5" fill="#000" stroke="#000" stroke-width="0.3" font-family="Liberation Serif, serif">SNR=<tspan>13.1</tspan></text>
<text x="722.4" y="899.1" font-size="34" fill="#000" stroke="#000" stroke-width="0.45" font-family="Liberation Serif, serif">53<tspan stroke-width="0">°</tspan>, 133<tspan stroke-width="0">°</tspan></text>
<clipPath id="c22"><rect x="979.5" y="799.5" width="355.0" height="116.5"/></clipPath>
<g clip-path="url(#c22)" fill="none" stroke-linejoin="round" stroke-linecap="round">
<path d="M979.5,855.5l2,0 2,0 2,-0.1 2,0 2,0 2,-0.1 2,-0.1 2,0 2,-0.1 2,-0.1 2,-0.1 2,-0.1 2,-0.1 2,-0.1 2,-0.1 2,-0.1 2,-0.2 2,-0.2 2,-0.3 2,-0.3 2,-0.3 2,-0.3 2,-0.2 2,-0.1 2,0.1 2,0.1 2,0.2 2,0.2 2,0.2 2,0.2 2,-0.1 2,-0.2 2,-0.5 2,-0.7 2,-1 2,-1.4 2,-1.8 2,-2.2 2,-2.2 2,-1.9 2,-1.6 2,-1.2 2,-0.9 2,-0.7 2,-0.2 2,0.1 2,0.8 2,1.3 2,1.7 2,2.2 2,2.7 2,3.2 2,3.7 2,4.1 2,4.1 2,4.1 2,4.1 2,4 2,4 2,4.2 2,4.3 2,4.3 2,4.2 2,3.3 2,2.3 2,1 2,0 2,-0.7 2,-1.6 2,-2.8 2,-4.3 2,-5.5 2,-6.5 2,-6.7 2,-6.9 2,-6.8 2,-6.7 2,-6.5 2,-6.2 2,-5.7 2,-5.4 2,-4.9 2,-4.1 2,-3.2 2,-2.2 2,-1.4 2,-0.6 2,0.4 2,1.4 2,2 2,2.6 2,2.8 2,3 2,3.3 2,3.3 2,3.4 2,3.3 2,3 2,2.9 2,2.7 2,2.5 2,2.3 2,2.2 2,2 2,1.8 2,1.7 2,1.6 2,1.3 2,1.3 2,1.1 2,0.9 2,0.9 2,0.8 2,0.6 2,0.6 2,0.3 2,0 2,-0.2 2,-0.4 2,-0.6 2,-0.8 2,-0.8 2,-0.9 2,-0.9 2,-1 2,-1.1 2,-1.1 2,-1 2,-0.9 2,-0.8 2,-0.7 2,-0.6 2,-0.6 2,-0.5 2,-0.4 2,-0.3 2,0 2,0.1 2,0.3 2,0.4 2,0.5 2,0.6 2,0.6 2,0.7 2,0.9 2,0.9 2,0.8 2,0.8 2,0.7 2,0.5 2,0.4 2,0.3 2,0.2 2,0 2,-0.3 2,-0.7 2,-1 2,-1.2 2,-1.4 2,-1.6 2,-1.7 2,-1.8 2,-1.8 2,-1.6 2,-1.3 2,-1 2,-0.8 2,-0.6 2,-0.4 2,-0.2 2,-0.1 2,0.1 2,0.3 2,0.3 2,0.4" stroke="#666666" stroke-width="9"/>
<path d="M979.5,855.5l2,0 2,0 2,0 2,0 2,0 2,0 2,0 2,0 2,0 2,-0.1 2,0 2,0 2,0 2,0 2,0 2,0 2,0.1 2,0.1 2,0.1 2,0.1 2,0.2 2,0.2 2,0.3 2,0.2 2,0.2 2,0.1 2,0 2,-0.1 2,-0.3 2,-0.5 2,-0.9 2,-1.1 2,-1.5 2,-1.7 2,-1.9 2,-2 2,-2.1 2,-2 2,-1.9 2,-1.7 2,-1.5 2,-1.1 2,-0.8 2,-0.5 2,0 2,0.4 2,0.9 2,1.3 2,1.8 2,2.2 2,2.7 2,3 2,3.3 2,3.6 2,3.8 2,3.9 2,3.8 2,3.8 2,3.6 2,3.4 2,3 2,2.6 2,2 2,1.6 2,0.8 2,0.2 2,-0.4 2,-1.2 2,-1.8 2,-2.4 2,-2.9 2,-3.3 2,-3.8 2,-3.9 2,-4.1 2,-4.1 2,-4 2,-3.8 2,-3.6 2,-3.2 2,-3 2,-2.5 2,-2.2 2,-1.8 2,-1.4 2,-1 2,-0.7 2,-0.3 2,-0.1 2,0.1 2,0.4 2,0.5 2,0.7 2,0.8 2,0.8 2,1 2,0.9 2,1.1 2,1 2,1 2,1.1 2,1 2,1.1 2,1 2,1 2,1 2,1 2,1 2,1 2,0.9 2,0.9 2,0.9 2,0.8 2,0.8 2,0.8 2,0.8 2,0.6 2,0.7 2,0.6 2,0.5 2,0.5 2,0.5 2,0.4 2,0.4 2,0.3 2,0.3 2,0.3 2,0.2 2,0.2 2,0.2 2,0.1 2,0.1 2,0.1 2,0 2,0.1 2,0 2,0 2,0 2,0 2,-0.1 2,0 2,-0.1 2,0 2,-0.1 2,-0.2 2,-0.1 2,-0.2 2,-0.2 2,-0.2 2,-0.2 2,-0.3 2,-0.2 2,-0.3 2,-0.2 2,-0.3 2,-0.2 2,-0.3 2,-0.3 2,-0.2 2,-0.2 2,-0.3 2,-0.2 2,-0.2 2,-0.2 2,-0.1 2,-0.2 2,-0.1 2,-0.2 2,-0.1 2,-0.1 2,-0.1 2,-0.1 2,-0.1 2,-0.1 2,-0.1" stroke="#ff0000" stroke-width="9"/>
</g>
<rect x="1218.8" y="833.8" width="8.8" height="44.8" fill="#0000ff"/>
<path d="M978.5,807.5 H1330.5 M978.5,908.0 H1330.5" stroke="#5a5a5a" stroke-width="2.2" fill="none"/>
<path d="M979.5,806.5 V909.0 M1329.5,806.5 V909.0" stroke="#262626" stroke-width="2.2" fill="none"/>
<text x="1006.1" y="948.8" font-size="34" fill="#5a5a5a" text-anchor="middle">0</text>
<text x="1159.2" y="948.8" font-size="34" fill="#5a5a5a" text-anchor="middle">50</text>
<text x="1312.4" y="948.8" font-size="34" fill="#5a5a5a" text-anchor="middle">100</text>
<path d="M1010.1,908.0 V903.8 M1010.1,807.5 V811.7 M1163.2,908.0 V903.8 M1163.2,807.5 V811.7 M1316.4,908.0 V903.8 M1316.4,807.5 V811.7" stroke="#5a5a5a" stroke-width="2" fill="none"/>
<text x="966.3" y="832.6" font-size="34" fill="#262626" text-anchor="end">5</text>
<text x="966.3" y="868.9" font-size="34" fill="#262626" text-anchor="end">0</text>
<text x="969.0" y="904.4" font-size="34" fill="#262626" text-anchor="end">-5</text>
<path d="M979.5,819.2 H983.7 M1329.5,819.2 H1325.3 M979.5,855.5 H983.7 M1329.5,855.5 H1325.3 M979.5,891.0 H983.7 M1329.5,891.0 H1325.3" stroke="#262626" stroke-width="2" fill="none"/>
<path d="M984.6,782.6 l15.8,16 M1000.4,782.6 l-15.8,16" stroke="#262626" stroke-width="1.5"/>
<text x="1010.5" y="799.1" font-size="33" fill="#262626">10</text>
<text x="1055.5" y="782.1" font-size="26" fill="#262626">-7</text>
<text x="1010.5" y="845.5" font-size="34" fill="#000">PP</text>
<text x="1190.7" y="836.8" font-size="34" fill="#000">MPG.00</text>
<text x="1009.4" y="894.7" font-size="27.5" fill="#000" stroke="#000" stroke-width="0.3" font-family="Liberation Serif, serif">SNR=<tspan>12.5</tspan></text>
<text x="1190.7" y="897.1" font-size="34" fill="#000" stroke="#000" stroke-width="0.45" font-family="Liberation Serif, serif">36<tspan stroke-width="0">°</tspan>, 117<tspan stroke-width="0">°</tspan></text>
<clipPath id="c23"><rect x="1446.0" y="799.5" width="359.0" height="116.5"/></clipPath>
<g clip-path="url(#c23)" fill="none" stroke-linejoin="round" stroke-linecap="round">
<path d="M1446.0,860.0l2,0 2,0 2,0 2,0 2,0 2,0 2,0 2,0 2,0 2,0 2,0 2,0 2,0 2,0 2,0 2,0 2,0 2,0 2,0.1 2,0 2,0 2,0.1 2,0.1 2,0 2,0.1 2,0 2,0.1 2,0 2,0 2,-0.1 2,0 2,-0.1 2,-0.1 2,-0.1 2,-0.2 2,-0.5 2,-0.8 2,-1.4 2,-1.8 2,-2 2,-1.9 2,-1.6 2,-1.4 2,-1.2 2,-0.8 2,-0.4 2,0.2 2,0.9 2,1.4 2,2 2,2.3 2,2.8 2,3.2 2,3.6 2,4 2,4.3 2,4.5 2,4.7 2,4.8 2,4.7 2,4.2 2,3.8 2,3.1 2,2.3 2,0.8 2,-0.9 2,-2.7 2,-4.2 2,-5.1 2,-5.8 2,-6.3 2,-6.7 2,-7 2,-7 2,-7.1 2,-7 2,-6.8 2,-6.3 2,-5.5 2,-4.7 2,-3.8 2,-2.5 2,-1 2,0.3 2,1.2 2,2 2,2.5 2,3.2 2,3.5 2,3.8 2,3.7 2,3.6 2,3.2 2,3.1 2,2.9 2,2.8 2,2.8 2,2.6 2,2.5 2,2.5 2,2.4 2,2.2 2,2.2 2,2.1 2,2 2,2 2,1.8 2,1.8 2,1.8 2,1.7 2,1.6 2,1.3 2,1.1 2,0.7 2,0.4 2,0.3 2,0.3 2,0.2 2,0.1 2,0 2,-0.3 2,-0.7 2,-1 2,-1.3 2,-1.5 2,-1.8 2,-2 2,-2.3 2,-2.6 2,-2.7 2,-2.5 2,-2.3 2,-1.8 2,-1.5 2,-1.3 2,-1.1 2,-1 2,-0.9 2,-0.9 2,-0.7 2,-0.7 2,-0.6 2,-0.6 2,-0.4 2,-0.4 2,-0.4 2,-0.4 2,-0.4 2,-0.4 2,-0.4 2,-0.5 2,-0.5 2,-0.6 2,-0.6 2,-0.5 2,-0.5 2,-0.4 2,-0.3 2,-0.3 2,-0.2 2,-0.2 2,-0.2 2,-0.2 2,-0.1 2,0 2,0.2 2,0.3 2,0.6 2,0.7 2,0.7 2,0.8 2,0.8 2,0.9 2,0.8 2,1 2,0.9 2,1" stroke="#666666" stroke-width="9"/>
<path d="M1446.0,860.0l2,-0.1 2,0 2,-0.1 2,-0.1 2,0 2,-0.1 2,0 2,-0.1 2,-0.1 2,0 2,0 2,-0.1 2,0 2,0 2,-0.1 2,0 2,0 2,0 2,0 2,0 2,0 2,0 2,0 2,0.1 2,0 2,0.1 2,0 2,0.1 2,0 2,0 2,0 2,-0.2 2,-0.2 2,-0.4 2,-0.5 2,-0.6 2,-0.8 2,-1 2,-1.1 2,-1.2 2,-1.2 2,-1.1 2,-0.9 2,-0.8 2,-0.4 2,-0.1 2,0.3 2,0.7 2,1.3 2,1.7 2,2.2 2,2.6 2,3 2,3.5 2,3.7 2,4 2,4.2 2,4.2 2,4.1 2,3.8 2,3.5 2,2.8 2,2.1 2,1.2 2,0.2 2,-0.9 2,-2 2,-3.1 2,-4 2,-4.9 2,-5.6 2,-6.1 2,-6.5 2,-6.6 2,-6.7 2,-6.5 2,-6.3 2,-5.8 2,-5.2 2,-4.5 2,-3.8 2,-2.8 2,-2 2,-1 2,-0.2 2,0.7 2,1.5 2,2.2 2,2.7 2,3.3 2,3.5 2,3.7 2,3.8 2,3.8 2,3.6 2,3.5 2,3.2 2,3.1 2,2.7 2,2.6 2,2.3 2,2.1 2,1.9 2,1.7 2,1.6 2,1.4 2,1.3 2,1.2 2,1 2,1 2,0.8 2,0.6 2,0.5 2,0.4 2,0.3 2,0.1 2,0.1 2,-0.1 2,-0.1 2,-0.2 2,-0.4 2,-0.4 2,-0.4 2,-0.6 2,-0.6 2,-0.7 2,-0.7 2,-0.7 2,-0.7 2,-0.7 2,-0.7 2,-0.7 2,-0.7 2,-0.7 2,-0.8 2,-0.7 2,-0.7 2,-0.7 2,-0.7 2,-0.7 2,-0.7 2,-0.7 2,-0.6 2,-0.7 2,-0.6 2,-0.5 2,-0.6 2,-0.5 2,-0.5 2,-0.4 2,-0.5 2,-0.3 2,-0.4 2,-0.3 2,-0.3 2,-0.2 2,-0.2 2,-0.2 2,-0.2 2,-0.2 2,-0.1 2,-0.1 2,-0.1 2,-0.1 2,-0.1 2,0 2,-0.1 2,0 2,0 2,-0.1 2,0 2,0 2,0 2,-0.1 2,0 2,0 2,0" stroke="#ff0000" stroke-width="9"/>
</g>
<rect x="1688.1" y="836.8" width="8.8" height="44.2" fill="#0000ff"/>
<path d="M1445.0,807.5 H1801.0 M1445.0,908.0 H1801.0" stroke="#5a5a5a" stroke-width="2.2" fill="none"/>
<path d="M1446.0,806.5 V909.0 M1800.0,806.5 V909.0" stroke="#262626" stroke-width="2.2" fill="none"/>
<text x="1473.0" y="948.8" font-size="34" fill="#5a5a5a" text-anchor="middle">0</text>
<text x="1627.8" y="948.8" font-size="34" fill="#5a5a5a" text-anchor="middle">50</text>
<text x="1782.7" y="948.8" font-size="34" fill="#5a5a5a" text-anchor="middle">100</text>
<path d="M1477.0,908.0 V903.8 M1477.0,807.5 V811.7 M1631.8,908.0 V903.8 M1631.8,807.5 V811.7 M1786.7,908.0 V903.8 M1786.7,807.5 V811.7" stroke="#5a5a5a" stroke-width="2" fill="none"/>
<text x="1432.8" y="845.9" font-size="34" fill="#262626" text-anchor="end">5</text>
<text x="1432.8" y="873.4" font-size="34" fill="#262626" text-anchor="end">0</text>
<text x="1435.5" y="900.9" font-size="34" fill="#262626" text-anchor="end">-5</text>
<path d="M1446.0,832.5 H1450.2 M1800.0,832.5 H1795.8 M1446.0,860.0 H1450.2 M1800.0,860.0 H1795.8 M1446.0,887.5 H1450.2 M1800.0,887.5 H1795.8" stroke="#262626" stroke-width="2" fill="none"/>
<path d="M1451.1,782.6 l15.8,16 M1466.9,782.6 l-15.8,16" stroke="#262626" stroke-width="1.5"/>
<text x="1477.0" y="799.1" font-size="33" fill="#262626">10</text>
<text x="1522.0" y="782.1" font-size="26" fill="#262626">-7</text>
<text x="1477.3" y="848.5" font-size="34" fill="#000">P</text>
<text x="1659.6" y="839.8" font-size="34" fill="#000">NOUC.00</text>
<text x="1476.3" y="897.2" font-size="27.5" fill="#000" stroke="#000" stroke-width="0.3" font-family="Liberation Serif, serif">SNR=<tspan>20.2</tspan></text>
<text x="1659.6" y="899.6" font-size="34" fill="#000" stroke="#000" stroke-width="0.45" font-family="Liberation Serif, serif">173<tspan stroke-width="0">°</tspan>, 74<tspan stroke-width="0">°</tspan></text>
<clipPath id="c24"><rect x="1916.5" y="799.5" width="355.0" height="116.5"/></clipPath>
<g clip-path="url(#c24)" fill="none" stroke-linejoin="round" stroke-linecap="round">
<path d="M1916.5,844.2l2,0.2 2,0.1 2,0.2 2,0.2 2,0.1 2,0.2 2,0.2 2,0.2 2,0.2 2,0.2 2,0.2 2,0.3 2,0.2 2,0.2 2,0.2 2,0.3 2,0.3 2,0.3 2,0.3 2,0.4 2,0.3 2,0.2 2,0 2,-0.1 2,-0.3 2,-0.4 2,-0.5 2,-0.4 2,-0.4 2,-0.3 2,-0.2 2,-0.1 2,0 2,-0.1 2,0 2,-0.3 2,-0.5 2,-1 2,-1.5 2,-1.8 2,-2.2 2,-2.4 2,-2.6 2,-2.8 2,-2.5 2,-2.3 2,-1.7 2,-1.4 2,-0.9 2,-0.6 2,0.1 2,0.8 2,1.5 2,2.4 2,3 2,3.8 2,4.6 2,5.1 2,5.5 2,5.3 2,5.1 2,4.7 2,4.5 2,4.3 2,4.4 2,4.5 2,4.7 2,4.6 2,4.2 2,3.1 2,1.8 2,0 2,-1.5 2,-2.8 2,-3.9 2,-4.7 2,-5.5 2,-6.2 2,-6.5 2,-6.6 2,-6.7 2,-6.5 2,-6.3 2,-5.8 2,-5.2 2,-4.4 2,-3.9 2,-3.1 2,-2.5 2,-1.8 2,-1.2 2,-0.8 2,-0.6 2,-0.3 2,0 2,0.5 2,1 2,1.5 2,1.8 2,2 2,2.1 2,2.2 2,2.2 2,2.2 2,2 2,1.6 2,1.3 2,1 2,0.7 2,0.7 2,0.6 2,0.8 2,1.1 2,1.3 2,1.5 2,1.5 2,1.4 2,0.9 2,0.4 2,-0.2 2,-0.6 2,-0.9 2,-0.8 2,-0.7 2,-0.3 2,0.1 2,0.5 2,0.7 2,0.6 2,0.3 2,0 2,-0.3 2,-0.6 2,-0.7 2,-0.5 2,-0.2 2,0.5 2,1.2 2,1.8 2,2.1 2,2 2,1.7 2,1.6 2,1.3 2,1.3 2,1 2,0.9 2,0.5 2,0.2 2,-0.3 2,-0.6 2,-0.8 2,-0.8 2,-0.6 2,-0.4 2,-0.2 2,0 2,0 2,0.1 2,0 2,-0.2 2,-0.3 2,-0.6 2,-0.6 2,-0.8 2,-0.8 2,-0.9 2,-1 2,-1.1 2,-1.2 2,-1.3 2,-1.4 2,-1.6 2,-1.6 2,-1.6" stroke="#666666" stroke-width="9"/>
<path d="M1916.5,844.2l2,0.1 2,0 2,0 2,0 2,0 2,0 2,0 2,0 2,0 2,0 2,-0.1 2,0 2,0 2,0 2,0 2,0 2,0 2,0 2,0.1 2,0 2,0.1 2,0.1 2,0.2 2,0.2 2,0.2 2,0.2 2,0.3 2,0.3 2,0.3 2,0.3 2,0.3 2,0.2 2,0.1 2,-0.1 2,-0.4 2,-0.7 2,-1.1 2,-1.5 2,-1.8 2,-2.2 2,-2.5 2,-2.6 2,-2.7 2,-2.7 2,-2.4 2,-2.2 2,-1.9 2,-1.3 2,-0.8 2,-0.2 2,0.5 2,1.2 2,1.8 2,2.6 2,3.2 2,3.7 2,4.1 2,4.6 2,4.7 2,5 2,5 2,5 2,4.9 2,4.7 2,4.5 2,4 2,3.6 2,2.9 2,2.3 2,1.4 2,0.6 2,-0.4 2,-1.3 2,-2.2 2,-2.9 2,-3.7 2,-4.4 2,-4.8 2,-5.1 2,-5.4 2,-5.4 2,-5.5 2,-5.2 2,-5 2,-4.7 2,-4.4 2,-3.8 2,-3.5 2,-2.9 2,-2.5 2,-1.9 2,-1.5 2,-1 2,-0.5 2,-0.2 2,0.2 2,0.6 2,0.8 2,1.1 2,1.2 2,1.4 2,1.4 2,1.5 2,1.5 2,1.5 2,1.4 2,1.5 2,1.4 2,1.4 2,1.4 2,1.3 2,1.3 2,1.3 2,1.3 2,1.2 2,1.3 2,1.2 2,1.1 2,1.2 2,1.1 2,1 2,1 2,1 2,0.9 2,0.9 2,0.8 2,0.8 2,0.7 2,0.7 2,0.6 2,0.6 2,0.5 2,0.5 2,0.4 2,0.4 2,0.3 2,0.3 2,0.2 2,0.2 2,0.1 2,0.2 2,0.1 2,0 2,0.1 2,0 2,0 2,-0.1 2,-0.1 2,-0.2 2,-0.2 2,-0.2 2,-0.3 2,-0.2 2,-0.3 2,-0.3 2,-0.4 2,-0.3 2,-0.3 2,-0.3 2,-0.3 2,-0.4 2,-0.3 2,-0.3 2,-0.4 2,-0.3 2,-0.4 2,-0.4 2,-0.4 2,-0.4 2,-0.4 2,-0.4 2,-0.5 2,-0.4 2,-0.5 2,-0.4" stroke="#ff0000" stroke-width="9"/>
</g>
<rect x="2156.3" y="828.8" width="8.8" height="44.2" fill="#0000ff"/>
<path d="M1915.5,807.5 H2267.5 M1915.5,908.0 H2267.5" stroke="#5a5a5a" stroke-width="2.2" fill="none"/>
<path d="M1916.5,806.5 V909.0 M2266.5,806.5 V909.0" stroke="#262626" stroke-width="2.2" fill="none"/>
<text x="1943.1" y="948.8" font-size="34" fill="#5a5a5a" text-anchor="middle">0</text>
<text x="2096.2" y="948.8" font-size="34" fill="#5a5a5a" text-anchor="middle">50</text>
<text x="2249.4" y="948.8" font-size="34" fill="#5a5a5a" text-anchor="middle">100</text>
<path d="M1947.1,908.0 V903.8 M1947.1,807.5 V811.7 M2100.2,908.0 V903.8 M2100.2,807.5 V811.7 M2253.4,908.0 V903.8 M2253.4,807.5 V811.7" stroke="#5a5a5a" stroke-width="2" fill="none"/>
<text x="1903.3" y="822.6" font-size="34" fill="#262626" text-anchor="end">4</text>
<text x="1903.3" y="839.4" font-size="34" fill="#262626" text-anchor="end">2</text>
<text x="1903.3" y="856.4" font-size="34" fill="#262626" text-anchor="end">0</text>
<text x="1906.0" y="873.9" font-size="34" fill="#262626" text-anchor="end">-2</text>
<text x="1906.0" y="891.4" font-size="34" fill="#262626" text-anchor="end">-4</text>
<text x="1906.0" y="908.9" font-size="34" fill="#262626" text-anchor="end">-6</text>
<path d="M1916.5,809.2 H1920.7 M2266.5,809.2 H2262.3 M1916.5,826.0 H1920.7 M2266.5,826.0 H2262.3 M1916.5,843.0 H1920.7 M2266.5,843.0 H2262.3 M1916.5,860.5 H1920.7 M2266.5,860.5 H2262.3 M1916.5,878.0 H1920.7 M2266.5,878.0 H2262.3 M1916.5,895.5 H1920.7 M2266.5,895.5 H2262.3" stroke="#262626" stroke-width="2" fill="none"/>
<path d="M1921.6,782.6 l15.8,16 M1937.4,782.6 l-15.8,16" stroke="#262626" stroke-width="1.5"/>
<text x="1947.5" y="799.1" font-size="33" fill="#262626">10</text>
<text x="1992.5" y="782.1" font-size="26" fill="#262626">-7</text>
<text x="1947.5" y="840.5" font-size="34" fill="#000">PP</text>
<text x="2127.7" y="831.8" font-size="34" fill="#000">PAF.00</text>
<text x="1946.4" y="889.2" font-size="27.5" fill="#000" stroke="#000" stroke-width="0.3" font-family="Liberation Serif, serif">SNR=<tspan>6.9</tspan></text>
<text x="2127.7" y="891.6" font-size="34" fill="#000" stroke="#000" stroke-width="0.45" font-family="Liberation Serif, serif">233<tspan stroke-width="0">°</tspan>, 126<tspan stroke-width="0">°</tspan></text>
<clipPath id="c25"><rect x="41.5" y="987.0" width="355.5" height="120.5"/></clipPath>
<g clip-path="url(#c25)" fill="none" stroke-linejoin="round" stroke-linecap="round">
<path d="M41.5,1044.2l2,-0.4 2,-0.4 2,-0.3 2,-0.3 2,-0.3 2,-0.2 2,-0.1 2,-0.2 2,0 2,-0.1 2,-0.1 2,0 2,-0.1 2,-0.1 2,0.1 2,0.3 2,0.7 2,0.9 2,1.2 2,1.3 2,1.1 2,1.2 2,1 2,1.1 2,0.9 2,0.9 2,0.9 2,0.8 2,0.8 2,0.8 2,0.6 2,0.4 2,0 2,-0.3 2,-0.9 2,-1.3 2,-1.6 2,-2 2,-2.4 2,-2.9 2,-3.1 2,-3.3 2,-3.2 2,-3.2 2,-3.2 2,-3 2,-2.9 2,-2.5 2,-2.3 2,-2 2,-1.7 2,-1.4 2,-1.1 2,-0.4 2,0.5 2,1.3 2,2.2 2,2.8 2,3.4 2,4 2,4.7 2,5.1 2,5.4 2,5.2 2,5 2,4.6 2,4.5 2,4.5 2,4.6 2,4.9 2,5 2,4.6 2,3.6 2,2 2,0.4 2,-1.1 2,-1.9 2,-2.7 2,-3.2 2,-4 2,-4.8 2,-5.5 2,-6.1 2,-6.2 2,-6.2 2,-6.2 2,-6.2 2,-6 2,-5.9 2,-5.5 2,-5.1 2,-4.4 2,-3.5 2,-2.6 2,-1.9 2,-1.3 2,-0.5 2,0.4 2,1.4 2,2.2 2,2.9 2,3.2 2,3.5 2,3.7 2,4 2,4.2 2,4.1 2,3.8 2,3.6 2,3.3 2,3.1 2,3.1 2,3.1 2,3.2 2,3.5 2,3.5 2,3.6 2,3.5 2,3.4 2,3.4 2,3.2 2,3 2,2.4 2,1.7 2,0.7 2,-0.3 2,-1.1 2,-1.7 2,-2.4 2,-3.3 2,-4.2 2,-5.1 2,-5.6 2,-5.8 2,-5.9 2,-5.8 2,-5.8 2,-5.4 2,-5.1 2,-4.7 2,-4.3 2,-3.6 2,-2.7 2,-1.6 2,-0.4 2,0.3 2,0.8 2,1 2,1.3 2,1.6 2,2.1 2,2.4 2,2.8 2,3.1 2,3.3 2,3.5 2,3.6 2,3.6 2,3.5 2,3.3 2,3 2,2.7 2,2.2 2,1.7 2,1.1 2,0.8 2,0.5 2,0.4 2,0.1 2,-0.2 2,-0.6 2,-1 2,-1.5 2,-1.7 2,-1.9 0.5,-0.4" stroke="#666666" stroke-width="9"/>
<path d="M41.5,1044.2l2,0 2,0 2,0.1 2,0 2,0 2,0 2,0 2,0 2,0 2,0 2,0 2,0 2,0 2,0 2,0 2,0 2,0 2,0 2,0 2,0 2,0 2,0 2,0 2,0.1 2,0.1 2,0.1 2,0.1 2,0.1 2,0.2 2,0.3 2,0.3 2,0.3 2,0.3 2,0.3 2,0.3 2,0.1 2,0 2,-0.2 2,-0.4 2,-0.8 2,-1.1 2,-1.4 2,-1.8 2,-2.1 2,-2.3 2,-2.5 2,-2.6 2,-2.6 2,-2.4 2,-2.1 2,-1.9 2,-1.4 2,-1.1 2,-0.5 2,0.1 2,0.6 2,1.3 2,1.8 2,2.4 2,2.9 2,3.5 2,3.8 2,4.3 2,4.5 2,4.7 2,4.9 2,5 2,5 2,4.9 2,4.8 2,4.5 2,4.1 2,3.4 2,2.4 2,1.4 2,0.2 2,-0.9 2,-2.2 2,-3.1 2,-4 2,-4.7 2,-5.3 2,-5.6 2,-5.9 2,-5.9 2,-5.9 2,-5.7 2,-5.5 2,-5.1 2,-4.8 2,-4.3 2,-3.6 2,-3 2,-2.4 2,-1.6 2,-0.9 2,-0.4 2,0.1 2,0.6 2,0.9 2,1.1 2,1.3 2,1.5 2,1.5 2,1.5 2,1.5 2,1.5 2,1.5 2,1.5 2,1.5 2,1.4 2,1.4 2,1.5 2,1.5 2,1.4 2,1.6 2,1.5 2,1.5 2,1.5 2,1.5 2,1.5 2,1.3 2,1.3 2,1.2 2,1.2 2,1 2,1 2,0.9 2,0.8 2,0.8 2,0.8 2,0.6 2,0.6 2,0.6 2,0.4 2,0.4 2,0.4 2,0.3 2,0.2 2,0.2 2,0.1 2,0.1 2,0.1 2,0 2,0 2,-0.1 2,-0.1 2,-0.1 2,-0.1 2,-0.2 2,-0.2 2,-0.3 2,-0.3 2,-0.3 2,-0.3 2,-0.3 2,-0.3 2,-0.4 2,-0.4 2,-0.4 2,-0.4 2,-0.4 2,-0.4 2,-0.4 2,-0.4 2,-0.4 2,-0.4 2,-0.4 2,-0.4 2,-0.4 2,-0.4 2,-0.4 2,-0.5 2,-0.4 2,-0.4 0.5,-0.1" stroke="#ff0000" stroke-width="9"/>
</g>
<rect x="280.9" y="1022.2" width="8.8" height="46.5" fill="#0000ff"/>
<path d="M40.5,995.0 H393.0 M40.5,1099.5 H393.0" stroke="#5a5a5a" stroke-width="2.2" fill="none"/>
<path d="M41.5,994.0 V1100.5 M392.0,994.0 V1100.5" stroke="#262626" stroke-width="2.2" fill="none"/>
<text x="68.2" y="1140.3" font-size="34" fill="#5a5a5a" text-anchor="middle">0</text>
<text x="221.5" y="1140.3" font-size="34" fill="#5a5a5a" text-anchor="middle">50</text>
<text x="374.9" y="1140.3" font-size="34" fill="#5a5a5a" text-anchor="middle">100</text>
<path d="M72.2,1099.5 V1095.3 M72.2,995.0 V999.2 M225.5,1099.5 V1095.3 M225.5,995.0 V999.2 M378.9,1099.5 V1095.3 M378.9,995.0 V999.2" stroke="#5a5a5a" stroke-width="2" fill="none"/>
<text x="28.3" y="1013.9" font-size="34" fill="#262626" text-anchor="end">4</text>
<text x="28.3" y="1035.7" font-size="34" fill="#262626" text-anchor="end">2</text>
<text x="28.3" y="1057.7" font-size="34" fill="#262626" text-anchor="end">0</text>
<text x="31.0" y="1078.9" font-size="34" fill="#262626" text-anchor="end">-2</text>
<text x="31.0" y="1101.4" font-size="34" fill="#262626" text-anchor="end">-4</text>
<path d="M41.5,1000.5 H45.7 M392.0,1000.5 H387.8 M41.5,1022.2 H45.7 M392.0,1022.2 H387.8 M41.5,1044.2 H45.7 M392.0,1044.2 H387.8 M41.5,1065.5 H45.7 M392.0,1065.5 H387.8 M41.5,1088.0 H45.7 M392.0,1088.0 H387.8" stroke="#262626" stroke-width="2" fill="none"/>
<path d="M46.6,970.1 l15.8,16 M62.4,970.1 l-15.8,16" stroke="#262626" stroke-width="1.5"/>
<text x="72.5" y="986.6" font-size="33" fill="#262626">10</text>
<text x="117.5" y="969.6" font-size="26" fill="#262626">-7</text>
<text x="72.5" y="1034.0" font-size="34" fill="#000">PP</text>
<text x="253.0" y="1025.2" font-size="34" fill="#000">PEL.00</text>
<text x="71.5" y="1085.0" font-size="27.5" fill="#000" stroke="#000" stroke-width="0.3" font-family="Liberation Serif, serif">SNR=<tspan>5.9</tspan></text>
<text x="253.0" y="1087.3" font-size="34" fill="#000" stroke="#000" stroke-width="0.45" font-family="Liberation Serif, serif">82<tspan stroke-width="0">°</tspan>, 140<tspan stroke-width="0">°</tspan></text>
<clipPath id="c26"><rect x="508.5" y="987.0" width="359.5" height="120.5"/></clipPath>
<g clip-path="url(#c26)" fill="none" stroke-linejoin="round" stroke-linecap="round">
<path d="M508.5,1054.2l2,-0.5 2,-0.5 2,-0.5 2,-0.4 2,-0.4 2,-0.3 2,-0.2 2,-0.3 2,-0.1 2,-0.2 2,-0.1 2,-0.1 2,-0.1 2,0 2,0 2,0.1 2,0.1 2,0.2 2,0.3 2,0.4 2,0.4 2,0.4 2,0.6 2,0.5 2,0.4 2,0.2 2,0 2,-0.2 2,-0.5 2,-0.4 2,-0.3 2,0 2,0.5 2,0.8 2,0.8 2,0.4 2,-0.3 2,-1.2 2,-2 2,-2.1 2,-1.7 2,-1 2,-0.4 2,0 2,0 2,0.2 2,0.2 2,0.6 2,1 2,1.3 2,1.7 2,2.1 2,2.4 2,2.9 2,3.1 2,3.4 2,3.6 2,3.6 2,3.6 2,3.4 2,2.9 2,2.2 2,1.8 2,1.1 2,0.2 2,-0.8 2,-2.2 2,-3.5 2,-4.3 2,-4.9 2,-5.4 2,-5.7 2,-5.8 2,-5.9 2,-5.8 2,-5.7 2,-5.4 2,-4.7 2,-3.7 2,-2.9 2,-2.2 2,-1.7 2,-1.1 2,-0.4 2,0.4 2,1.3 2,1.9 2,2.5 2,2.9 2,3.3 2,3.7 2,3.9 2,3.9 2,3.7 2,3.3 2,2.9 2,2.8 2,2.6 2,2.6 2,2.8 2,2.7 2,2.7 2,2.4 2,2 2,1.6 2,1.4 2,1.2 2,0.9 2,0.8 2,0.6 2,0.4 2,0.3 2,0.3 2,0.3 2,0.2 2,0 2,-0.1 2,-0.5 2,-0.9 2,-1.2 2,-1.5 2,-1.6 2,-1.7 2,-1.8 2,-2 2,-2 2,-2.1 2,-2.1 2,-2 2,-1.9 2,-1.9 2,-1.9 2,-1.8 2,-1.6 2,-1.2 2,-1 2,-0.5 2,-0.3 2,-0.2 2,-0.1 2,-0.1 2,-0.1 2,-0.1 2,-0.2 2,-0.3 2,-0.4 2,-0.4 2,-0.4 2,-0.4 2,-0.5 2,-0.4 2,-0.5 2,-0.6 2,-0.5 2,-0.6 2,-0.5 2,-0.4 2,-0.3 2,-0.1 2,0.1 2,0.4 2,0.6 2,0.7 2,0.8 2,0.7 2,0.7 2,0.6 2,0.5 2,0.5 2,0.6 2,0.7 2,0.8 2,0.9 2,1 2,1.2 2,1.2 2,1.3 0.5,0.4" stroke="#666666" stroke-width="9"/>
<path d="M508.5,1054.3l2,0 2,0 2,0 2,0 2,0 2,0 2,0 2,0 2,-0.1 2,0 2,0 2,0 2,0 2,0 2,0 2,0 2,0 2,0 2,0 2,0 2,0 2,0 2,0 2,0 2,-0.1 2,0 2,0 2,-0.1 2,-0.1 2,-0.2 2,-0.3 2,-0.3 2,-0.4 2,-0.6 2,-0.6 2,-0.7 2,-0.9 2,-0.9 2,-0.9 2,-1 2,-0.9 2,-0.9 2,-0.7 2,-0.6 2,-0.4 2,0 2,0.2 2,0.6 2,1 2,1.4 2,1.8 2,2.2 2,2.6 2,3 2,3.4 2,3.7 2,4 2,4.1 2,4.2 2,4.1 2,3.9 2,3.4 2,2.8 2,2 2,1 2,0 2,-1.2 2,-2.4 2,-3.6 2,-4.6 2,-5.5 2,-6.3 2,-7 2,-7.3 2,-7.5 2,-7.5 2,-7.2 2,-6.9 2,-6.2 2,-5.5 2,-4.6 2,-3.6 2,-2.6 2,-1.4 2,-0.4 2,0.6 2,1.6 2,2.4 2,3.1 2,3.7 2,4.2 2,4.4 2,4.7 2,4.7 2,4.6 2,4.5 2,4.2 2,4 2,3.7 2,3.3 2,2.9 2,2.6 2,2.3 2,2 2,1.6 2,1.4 2,1.1 2,1 2,0.7 2,0.6 2,0.5 2,0.4 2,0.2 2,0.2 2,0.1 2,0 2,-0.1 2,-0.2 2,-0.3 2,-0.4 2,-0.5 2,-0.6 2,-0.6 2,-0.8 2,-0.9 2,-0.9 2,-1 2,-0.9 2,-1 2,-1 2,-1 2,-0.9 2,-0.9 2,-0.8 2,-0.9 2,-0.8 2,-0.8 2,-0.8 2,-0.7 2,-0.8 2,-0.7 2,-0.7 2,-0.7 2,-0.6 2,-0.6 2,-0.6 2,-0.5 2,-0.6 2,-0.4 2,-0.5 2,-0.4 2,-0.4 2,-0.3 2,-0.3 2,-0.3 2,-0.3 2,-0.2 2,-0.3 2,-0.1 2,-0.2 2,-0.1 2,-0.2 2,0 2,-0.1 2,0 2,-0.1 2,0 2,0 2,0 2,0 2,0 2,0 2,0 2,0.1 2,0 2,0 2,0 0.5,0" stroke="#ff0000" stroke-width="9"/>
</g>
<rect x="750.4" y="1027.5" width="8.8" height="46.8" fill="#0000ff"/>
<path d="M507.5,995.0 H864.0 M507.5,1099.5 H864.0" stroke="#5a5a5a" stroke-width="2.2" fill="none"/>
<path d="M508.5,994.0 V1100.5 M863.0,994.0 V1100.5" stroke="#262626" stroke-width="2.2" fill="none"/>
<text x="535.5" y="1140.3" font-size="34" fill="#5a5a5a" text-anchor="middle">0</text>
<text x="690.6" y="1140.3" font-size="34" fill="#5a5a5a" text-anchor="middle">50</text>
<text x="845.7" y="1140.3" font-size="34" fill="#5a5a5a" text-anchor="middle">100</text>
<path d="M539.5,1099.5 V1095.3 M539.5,995.0 V999.2 M694.6,1099.5 V1095.3 M694.6,995.0 V999.2 M849.7,1099.5 V1095.3 M849.7,995.0 V999.2" stroke="#5a5a5a" stroke-width="2" fill="none"/>
<text x="495.3" y="1035.2" font-size="34" fill="#262626" text-anchor="end">5</text>
<text x="495.3" y="1067.7" font-size="34" fill="#262626" text-anchor="end">0</text>
<text x="498.0" y="1099.4" font-size="34" fill="#262626" text-anchor="end">-5</text>
<path d="M508.5,1021.8 H512.7 M863.0,1021.8 H858.8 M508.5,1054.2 H512.7 M863.0,1054.2 H858.8 M508.5,1086.0 H512.7 M863.0,1086.0 H858.8" stroke="#262626" stroke-width="2" fill="none"/>
<path d="M513.6,970.1 l15.8,16 M529.4,970.1 l-15.8,16" stroke="#262626" stroke-width="1.5"/>
<text x="539.5" y="986.6" font-size="33" fill="#262626">10</text>
<text x="584.5" y="969.6" font-size="26" fill="#262626">-7</text>
<text x="539.9" y="1039.3" font-size="34" fill="#000">P</text>
<text x="722.4" y="1030.5" font-size="34" fill="#000">PPTF.00</text>
<text x="538.8" y="1090.5" font-size="27.5" fill="#000" stroke="#000" stroke-width="0.3" font-family="Liberation Serif, serif">SNR=<tspan>7.2</tspan></text>
<text x="722.4" y="1092.8" font-size="34" fill="#000" stroke="#000" stroke-width="0.45" font-family="Liberation Serif, serif">131<tspan stroke-width="0">°</tspan>, 83<tspan stroke-width="0">°</tspan></text>
<clipPath id="c27"><rect x="979.5" y="987.0" width="355.0" height="120.5"/></clipPath>
<g clip-path="url(#c27)" fill="none" stroke-linejoin="round" stroke-linecap="round">
<path d="M979.5,1042.9l2,-0.8 2,-0.8 2,-0.7 2,-0.6 2,-0.5 2,-0.4 2,-0.3 2,-0.2 2,-0.2 2,-0.1 2,-0.2 2,-0.1 2,-0.2 2,-0.1 2,0.3 2,0.8 2,1.6 2,2.1 2,2 2,1.4 2,0.6 2,-0.3 2,-0.7 2,-0.7 2,-0.3 2,0.3 2,1.1 2,1.5 2,1.5 2,1 2,0.3 2,-0.6 2,-1.1 2,-1.3 2,-1.1 2,-0.8 2,-0.6 2,-0.3 2,-0.4 2,-0.6 2,-1.3 2,-2.1 2,-2.8 2,-3.2 2,-3.3 2,-3.1 2,-2.6 2,-2.4 2,-2 2,-1.7 2,-1.3 2,-0.6 2,0.2 2,1 2,1.8 2,2.3 2,2.7 2,3 2,3.5 2,3.8 2,4.1 2,4.2 2,4.1 2,4 2,3.8 2,4 2,4.4 2,5.2 2,5.7 2,5.7 2,4.4 2,2.5 2,0.7 2,-0.5 2,-1.2 2,-1.7 2,-2.2 2,-2.8 2,-3.3 2,-3.8 2,-4.5 2,-5.1 2,-5.6 2,-5.8 2,-5.7 2,-5.4 2,-5.1 2,-4.7 2,-4.3 2,-3.9 2,-3.6 2,-3.3 2,-2.6 2,-2 2,-1.5 2,-0.9 2,-0.5 2,0.1 2,0.7 2,1.2 2,1.7 2,1.8 2,1.7 2,1.5 2,1.3 2,1.2 2,1.1 2,1.1 2,1.2 2,1.2 2,1.2 2,1.2 2,1.2 2,1.2 2,1.2 2,1.2 2,1.2 2,1.2 2,1.2 2,1.1 2,1.3 2,1.3 2,1.5 2,1.5 2,1.5 2,1.2 2,0.9 2,0.4 2,0 2,-0.3 2,-0.4 2,-0.6 2,-0.5 2,-0.4 2,-0.2 2,0.1 2,0.4 2,0.7 2,0.9 2,1 2,1.1 2,1.1 2,1.1 2,1.1 2,1.2 2,1.2 2,1.3 2,1.3 2,1.5 2,1.5 2,1.5 2,1.4 2,1 2,0.5 2,-0.1 2,-0.5 2,-0.8 2,-1 2,-1 2,-1 2,-0.9 2,-0.7 2,-0.7 2,-0.7 2,-0.7 2,-1 2,-1.2 2,-1.6 2,-2 2,-2.1 2,-2.2 2,-2.1 2,-2 2,-2 2,-1.9" stroke="#666666" stroke-width="9"/>
<path d="M979.5,1043.0l2,0 2,0 2,0 2,0 2,0 2,0 2,0 2,0 2,0 2,0 2,0 2,0 2,0 2,0 2,0 2,0 2,0 2,0 2,0 2,0.1 2,0 2,0.1 2,0.1 2,0.1 2,0.2 2,0.2 2,0.2 2,0.3 2,0.2 2,0.3 2,0.3 2,0.3 2,0.2 2,0 2,0 2,-0.4 2,-0.5 2,-0.9 2,-1.2 2,-1.6 2,-1.8 2,-2.1 2,-2.4 2,-2.4 2,-2.4 2,-2.4 2,-2.3 2,-2 2,-1.8 2,-1.3 2,-0.9 2,-0.4 2,0.1 2,0.7 2,1.3 2,1.8 2,2.4 2,2.7 2,3.2 2,3.6 2,3.9 2,4.2 2,4.4 2,4.5 2,4.6 2,4.7 2,4.7 2,4.7 2,4.6 2,4.3 2,3.9 2,3.2 2,2.5 2,1.6 2,0.6 2,-0.4 2,-1.3 2,-2.4 2,-3.2 2,-4 2,-4.6 2,-5.3 2,-5.6 2,-6 2,-6 2,-6.2 2,-6.1 2,-6 2,-5.8 2,-5.5 2,-5.1 2,-4.5 2,-4 2,-3.2 2,-2.6 2,-1.8 2,-1.2 2,-0.4 2,0.1 2,0.7 2,1.1 2,1.5 2,1.7 2,1.8 2,2.1 2,2.1 2,2.1 2,2.2 2,2.2 2,2.1 2,2.2 2,2 2,2.1 2,2 2,2 2,1.9 2,1.9 2,1.8 2,1.8 2,1.6 2,1.7 2,1.5 2,1.4 2,1.4 2,1.3 2,1.2 2,1.1 2,1 2,1 2,0.9 2,0.9 2,0.7 2,0.7 2,0.6 2,0.5 2,0.4 2,0.3 2,0.2 2,0.2 2,0.1 2,0.1 2,0.1 2,0 2,-0.1 2,0 2,-0.1 2,-0.1 2,-0.1 2,-0.2 2,-0.2 2,-0.2 2,-0.2 2,-0.3 2,-0.2 2,-0.3 2,-0.3 2,-0.4 2,-0.3 2,-0.4 2,-0.4 2,-0.4 2,-0.4 2,-0.4 2,-0.5 2,-0.5 2,-0.5 2,-0.5 2,-0.5 2,-0.6 2,-0.6 2,-0.6 2,-0.6 2,-0.6 2,-0.6 2,-0.7" stroke="#ff0000" stroke-width="9"/>
</g>
<rect x="1218.8" y="1021.8" width="8.8" height="46.2" fill="#0000ff"/>
<path d="M978.5,995.0 H1330.5 M978.5,1099.5 H1330.5" stroke="#5a5a5a" stroke-width="2.2" fill="none"/>
<path d="M979.5,994.0 V1100.5 M1329.5,994.0 V1100.5" stroke="#262626" stroke-width="2.2" fill="none"/>
<text x="1006.1" y="1140.3" font-size="34" fill="#5a5a5a" text-anchor="middle">0</text>
<text x="1159.2" y="1140.3" font-size="34" fill="#5a5a5a" text-anchor="middle">50</text>
<text x="1312.4" y="1140.3" font-size="34" fill="#5a5a5a" text-anchor="middle">100</text>
<path d="M1010.1,1099.5 V1095.3 M1010.1,995.0 V999.2 M1163.2,1099.5 V1095.3 M1163.2,995.0 V999.2 M1316.4,1099.5 V1095.3 M1316.4,995.0 V999.2" stroke="#5a5a5a" stroke-width="2" fill="none"/>
<text x="966.3" y="1011.4" font-size="34" fill="#262626" text-anchor="end">5</text>
<text x="966.3" y="1056.4" font-size="34" fill="#262626" text-anchor="end">0</text>
<text x="969.0" y="1102.7" font-size="34" fill="#262626" text-anchor="end">-5</text>
<path d="M979.5,998.0 H983.7 M1329.5,998.0 H1325.3 M979.5,1043.0 H983.7 M1329.5,1043.0 H1325.3 M979.5,1089.2 H983.7 M1329.5,1089.2 H1325.3" stroke="#262626" stroke-width="2" fill="none"/>
<path d="M984.6,970.1 l15.8,16 M1000.4,970.1 l-15.8,16" stroke="#262626" stroke-width="1.5"/>
<text x="1010.5" y="986.6" font-size="33" fill="#262626">10</text>
<text x="1055.5" y="969.6" font-size="26" fill="#262626">-7</text>
<text x="1010.5" y="1033.5" font-size="34" fill="#000">PP</text>
<text x="1190.7" y="1024.8" font-size="34" fill="#000">RER.00</text>
<text x="1009.4" y="1084.2" font-size="27.5" fill="#000" stroke="#000" stroke-width="0.3" font-family="Liberation Serif, serif">SNR=<tspan>3.8</tspan></text>
<text x="1190.7" y="1086.6" font-size="34" fill="#000" stroke="#000" stroke-width="0.45" font-family="Liberation Serif, serif">266<tspan stroke-width="0">°</tspan>, 114<tspan stroke-width="0">°</tspan></text>
<clipPath id="c28"><rect x="1446.0" y="987.0" width="359.0" height="120.5"/></clipPath>
<g clip-path="url(#c28)" fill="none" stroke-linejoin="round" stroke-linecap="round">
<path d="M1446.0,1043.0l2,0 2,0 2,0 2,-0.1 2,0 2,0 2,-0.1 2,-0.1 2,0 2,-0.1 2,-0.1 2,-0.1 2,-0.1 2,0 2,-0.2 2,-0.4 2,-0.6 2,-0.9 2,-1 2,-0.8 2,-0.3 2,0.1 2,0.2 2,0.3 2,0.3 2,0.2 2,0 2,-0.1 2,-0.1 2,-0.3 2,-0.3 2,-0.2 2,-0.2 2,0 2,0.2 2,0.3 2,0.5 2,0.8 2,0.9 2,1.2 2,1.1 2,0.7 2,0.1 2,-1 2,-1.8 2,-2.3 2,-2.5 2,-2.4 2,-2.2 2,-2.2 2,-1.9 2,-1.7 2,-1 2,-0.3 2,0.6 2,1.4 2,2.2 2,2.6 2,2.9 2,3.3 2,3.7 2,3.9 2,3.9 2,3.9 2,3.7 2,3.5 2,3.5 2,3.5 2,3.6 2,3.8 2,4 2,3.8 2,3 2,1.9 2,0.5 2,-0.7 2,-1.8 2,-2.5 2,-3 2,-3.4 2,-3.8 2,-4.5 2,-5 2,-5.4 2,-5.6 2,-5.8 2,-5.8 2,-5.7 2,-5.5 2,-5.1 2,-4.7 2,-4.3 2,-3.6 2,-2.7 2,-1.6 2,-0.6 2,0.2 2,0.5 2,0.7 2,1 2,1.1 2,1.3 2,1.4 2,1.4 2,1.2 2,1.2 2,1.1 2,1.1 2,1.3 2,1.3 2,1.5 2,1.7 2,1.8 2,1.9 2,1.9 2,1.9 2,1.9 2,1.8 2,1.9 2,1.9 2,1.8 2,1.7 2,1.6 2,1.5 2,1.5 2,1.4 2,1.1 2,0.9 2,0.6 2,0.4 2,0.2 2,0.2 2,0.2 2,0.2 2,0.1 2,0 2,-0.1 2,-0.4 2,-0.5 2,-0.7 2,-0.7 2,-0.6 2,-0.5 2,-0.2 2,0 2,0.1 2,0.1 2,0.2 2,0.3 2,0.4 2,0.7 2,1.1 2,1.3 2,1.5 2,1.3 2,1.2 2,0.8 2,0.7 2,0.5 2,0.4 2,0.4 2,0.2 2,-0.1 2,-0.3 2,-0.7 2,-1 2,-1.1 2,-1.3 2,-1.3 2,-1.4 2,-1.3 2,-1.3 2,-1.4 2,-1.5 2,-1.5 2,-1.6 2,-1.7" stroke="#666666" stroke-width="9"/>
<path d="M1446.0,1043.0l2,0 2,0 2,0 2,0 2,0 2,0 2,0 2,0 2,0 2,0 2,0 2,0 2,0 2,0 2,0 2,0 2,0 2,0 2,0 2,0.1 2,0 2,0.1 2,0.1 2,0.2 2,0.1 2,0.2 2,0.3 2,0.2 2,0.3 2,0.3 2,0.3 2,0.2 2,0.2 2,0 2,-0.1 2,-0.4 2,-0.6 2,-1 2,-1.2 2,-1.6 2,-1.9 2,-2.1 2,-2.3 2,-2.5 2,-2.4 2,-2.5 2,-2.3 2,-2.1 2,-1.8 2,-1.6 2,-1.1 2,-0.6 2,-0.2 2,0.4 2,1 2,1.5 2,2.2 2,2.7 2,3.1 2,3.6 2,4 2,4.3 2,4.5 2,4.7 2,4.7 2,4.7 2,4.7 2,4.6 2,4.5 2,4.3 2,4 2,3.5 2,2.9 2,2.3 2,1.3 2,0.5 2,-0.5 2,-1.4 2,-2.3 2,-3 2,-3.8 2,-4.4 2,-5 2,-5.5 2,-5.8 2,-6 2,-6.2 2,-6.2 2,-6 2,-5.9 2,-5.5 2,-5.1 2,-4.6 2,-4 2,-3.4 2,-2.8 2,-2 2,-1.4 2,-0.7 2,-0.1 2,0.4 2,0.9 2,1.3 2,1.6 2,1.9 2,2.1 2,2.2 2,2.3 2,2.3 2,2.3 2,2.3 2,2.3 2,2.1 2,2.1 2,2.1 2,1.9 2,2 2,1.8 2,1.9 2,1.7 2,1.7 2,1.6 2,1.5 2,1.5 2,1.3 2,1.3 2,1.2 2,1.1 2,1 2,0.9 2,0.9 2,0.8 2,0.6 2,0.7 2,0.5 2,0.5 2,0.4 2,0.3 2,0.3 2,0.2 2,0.2 2,0.1 2,0.1 2,0 2,0.1 2,0 2,-0.1 2,0 2,-0.1 2,-0.1 2,-0.2 2,-0.2 2,-0.2 2,-0.2 2,-0.2 2,-0.3 2,-0.3 2,-0.3 2,-0.3 2,-0.3 2,-0.4 2,-0.3 2,-0.4 2,-0.5 2,-0.4 2,-0.5 2,-0.4 2,-0.5 2,-0.6 2,-0.5 2,-0.6 2,-0.6 2,-0.6 2,-0.6 2,-0.7 2,-0.6 2,-0.6" stroke="#ff0000" stroke-width="9"/>
</g>
<rect x="1688.1" y="1021.8" width="8.8" height="46.2" fill="#0000ff"/>
<path d="M1445.0,995.0 H1801.0 M1445.0,1099.5 H1801.0" stroke="#5a5a5a" stroke-width="2.2" fill="none"/>
<path d="M1446.0,994.0 V1100.5 M1800.0,994.0 V1100.5" stroke="#262626" stroke-width="2.2" fill="none"/>
<text x="1473.0" y="1140.3" font-size="34" fill="#5a5a5a" text-anchor="middle">0</text>
<text x="1627.8" y="1140.3" font-size="34" fill="#5a5a5a" text-anchor="middle">50</text>
<text x="1782.7" y="1140.3" font-size="34" fill="#5a5a5a" text-anchor="middle">100</text>
<path d="M1477.0,1099.5 V1095.3 M1477.0,995.0 V999.2 M1631.8,1099.5 V1095.3 M1631.8,995.0 V999.2 M1786.7,1099.5 V1095.3 M1786.7,995.0 V999.2" stroke="#5a5a5a" stroke-width="2" fill="none"/>
<text x="1432.8" y="1015.1" font-size="34" fill="#262626" text-anchor="end">4</text>
<text x="1432.8" y="1035.7" font-size="34" fill="#262626" text-anchor="end">2</text>
<text x="1432.8" y="1056.4" font-size="34" fill="#262626" text-anchor="end">0</text>
<text x="1435.5" y="1076.4" font-size="34" fill="#262626" text-anchor="end">-2</text>
<text x="1435.5" y="1096.4" font-size="34" fill="#262626" text-anchor="end">-4</text>
<path d="M1446.0,1001.8 H1450.2 M1800.0,1001.8 H1795.8 M1446.0,1022.2 H1450.2 M1800.0,1022.2 H1795.8 M1446.0,1043.0 H1450.2 M1800.0,1043.0 H1795.8 M1446.0,1063.0 H1450.2 M1800.0,1063.0 H1795.8 M1446.0,1083.0 H1450.2 M1800.0,1083.0 H1795.8" stroke="#262626" stroke-width="2" fill="none"/>
<path d="M1451.1,970.1 l15.8,16 M1466.9,970.1 l-15.8,16" stroke="#262626" stroke-width="1.5"/>
<text x="1477.0" y="986.6" font-size="33" fill="#262626">10</text>
<text x="1522.0" y="969.6" font-size="26" fill="#262626">-7</text>
<text x="1477.3" y="1033.5" font-size="34" fill="#000">PP</text>
<text x="1659.6" y="1024.8" font-size="34" fill="#000">ROCAM.00</text>
<text x="1476.3" y="1084.2" font-size="27.5" fill="#000" stroke="#000" stroke-width="0.3" font-family="Liberation Serif, serif">SNR=<tspan>9.6</tspan></text>
<text x="1659.6" y="1086.6" font-size="34" fill="#000" stroke="#000" stroke-width="0.45" font-family="Liberation Serif, serif">261<tspan stroke-width="0">°</tspan>, 108<tspan stroke-width="0">°</tspan></text>
<clipPath id="c29"><rect x="1916.5" y="987.0" width="355.0" height="120.5"/></clipPath>
<g clip-path="url(#c29)" fill="none" stroke-linejoin="round" stroke-linecap="round">
<path d="M1916.5,1043.0l2,0 2,-0.2 2,-0.1 2,-0.2 2,-0.2 2,-0.3 2,-0.4 2,-0.3 2,-0.4 2,-0.4 2,-0.5 2,-0.4 2,-0.4 2,-0.5 2,-0.6 2,-0.8 2,-0.8 2,-0.9 2,-0.8 2,-0.3 2,0 2,0.5 2,0.6 2,0.6 2,0.4 2,0.1 2,-0.1 2,-0.2 2,-0.2 2,-0.3 2,-0.2 2,-0.2 2,0 2,0.2 2,0.4 2,0.5 2,0.8 2,1 2,1.4 2,1.5 2,1.5 2,0.9 2,0.1 2,-0.8 2,-1.8 2,-2.3 2,-2.6 2,-2.7 2,-2.7 2,-2.5 2,-2.1 2,-1.4 2,-0.3 2,0.7 2,1.6 2,2.3 2,2.8 2,3 2,3.4 2,3.7 2,4 2,3.9 2,3.8 2,3.7 2,3.5 2,3.5 2,3.5 2,3.6 2,3.9 2,4 2,3.6 2,2.8 2,1.6 2,0.1 2,-1 2,-2 2,-2.6 2,-3.1 2,-3.5 2,-4 2,-4.6 2,-5.1 2,-5.5 2,-5.7 2,-5.7 2,-5.8 2,-5.7 2,-5.4 2,-5 2,-4.6 2,-4.2 2,-3.4 2,-2.4 2,-1.3 2,-0.4 2,0.3 2,0.5 2,0.8 2,1 2,1.2 2,1.4 2,1.4 2,1.3 2,1.2 2,1.2 2,1.1 2,1.1 2,1.3 2,1.4 2,1.5 2,1.7 2,1.8 2,1.9 2,1.9 2,1.9 2,1.9 2,1.9 2,1.9 2,1.8 2,1.8 2,1.7 2,1.6 2,1.5 2,1.5 2,1.3 2,1.1 2,0.8 2,0.5 2,0.4 2,0.2 2,0.2 2,0.2 2,0.1 2,0.1 2,0 2,-0.2 2,-0.4 2,-0.6 2,-0.7 2,-0.7 2,-0.6 2,-0.4 2,-0.1 2,0 2,0.1 2,0.2 2,0.2 2,0.3 2,0.5 2,0.8 2,1.1 2,1.4 2,1.4 2,1.3 2,1.1 2,0.8 2,0.6 2,0.5 2,0.4 2,0.3 2,0.2 2,-0.1 2,-0.4 2,-0.8 2,-1 2,-1.2 2,-1.3 2,-1.3 2,-1.4 2,-1.4 2,-1.5 2,-1.6 2,-1.7 2,-1.9 2,-1.8" stroke="#666666" stroke-width="9"/>
<path d="M1916.5,1043.0l2,0 2,0 2,0 2,0 2,0 2,0 2,0 2,0 2,0 2,0 2,0 2,0 2,0 2,0 2,0 2,0 2,0 2,0 2,0 2,0.1 2,0 2,0.1 2,0.1 2,0.2 2,0.1 2,0.2 2,0.2 2,0.3 2,0.3 2,0.3 2,0.3 2,0.2 2,0.2 2,0 2,-0.1 2,-0.3 2,-0.7 2,-0.9 2,-1.3 2,-1.6 2,-1.9 2,-2.1 2,-2.4 2,-2.5 2,-2.5 2,-2.5 2,-2.3 2,-2.2 2,-1.8 2,-1.4 2,-0.9 2,-0.4 2,0.2 2,0.9 2,1.6 2,2.2 2,2.8 2,3.3 2,3.8 2,4.1 2,4.4 2,4.6 2,4.7 2,4.8 2,4.7 2,4.7 2,4.6 2,4.4 2,4.3 2,3.8 2,3.4 2,2.8 2,2 2,1.1 2,0.2 2,-0.7 2,-1.6 2,-2.4 2,-3.3 2,-3.9 2,-4.6 2,-5.2 2,-5.5 2,-5.9 2,-6.1 2,-6.1 2,-6.2 2,-6 2,-5.8 2,-5.4 2,-5 2,-4.5 2,-3.8 2,-3.3 2,-2.5 2,-1.9 2,-1.2 2,-0.6 2,0 2,0.6 2,1 2,1.4 2,1.7 2,1.9 2,2.1 2,2.3 2,2.3 2,2.3 2,2.3 2,2.3 2,2.2 2,2.1 2,2.1 2,2.1 2,1.9 2,1.9 2,1.9 2,1.8 2,1.7 2,1.7 2,1.6 2,1.5 2,1.4 2,1.4 2,1.2 2,1.2 2,1 2,1 2,0.9 2,0.9 2,0.7 2,0.7 2,0.6 2,0.5 2,0.5 2,0.4 2,0.3 2,0.2 2,0.2 2,0.2 2,0.1 2,0.1 2,0.1 2,0 2,0 2,-0.1 2,0 2,-0.2 2,-0.1 2,-0.1 2,-0.2 2,-0.2 2,-0.3 2,-0.2 2,-0.3 2,-0.2 2,-0.3 2,-0.3 2,-0.4 2,-0.3 2,-0.4 2,-0.4 2,-0.4 2,-0.5 2,-0.5 2,-0.5 2,-0.5 2,-0.6 2,-0.6 2,-0.6 2,-0.7 2,-0.7 2,-0.6 2,-0.7 2,-0.7" stroke="#ff0000" stroke-width="9"/>
</g>
<rect x="2156.3" y="1021.8" width="8.8" height="46.2" fill="#0000ff"/>
<path d="M1915.5,995.0 H2267.5 M1915.5,1099.5 H2267.5" stroke="#5a5a5a" stroke-width="2.2" fill="none"/>
<path d="M1916.5,994.0 V1100.5 M2266.5,994.0 V1100.5" stroke="#262626" stroke-width="2.2" fill="none"/>
<text x="1943.1" y="1140.3" font-size="34" fill="#5a5a5a" text-anchor="middle">0</text>
<text x="2096.2" y="1140.3" font-size="34" fill="#5a5a5a" text-anchor="middle">50</text>
<text x="2249.4" y="1140.3" font-size="34" fill="#5a5a5a" text-anchor="middle">100</text>
<path d="M1947.1,1099.5 V1095.3 M1947.1,995.0 V999.2 M2100.2,1099.5 V1095.3 M2100.2,995.0 V999.2 M2253.4,1099.5 V1095.3 M2253.4,995.0 V999.2" stroke="#5a5a5a" stroke-width="2" fill="none"/>
<text x="1903.3" y="1015.1" font-size="34" fill="#262626" text-anchor="end">4</text>
<text x="1903.3" y="1035.7" font-size="34" fill="#262626" text-anchor="end">2</text>
<text x="1903.3" y="1056.4" font-size="34" fill="#262626" text-anchor="end">0</text>
<text x="1906.0" y="1076.4" font-size="34" fill="#262626" text-anchor="end">-2</text>
<text x="1906.0" y="1096.4" font-size="34" fill="#262626" text-anchor="end">-4</text>
<path d="M1916.5,1001.8 H1920.7 M2266.5,1001.8 H2262.3 M1916.5,1022.2 H1920.7 M2266.5,1022.2 H2262.3 M1916.5,1043.0 H1920.7 M2266.5,1043.0 H2262.3 M1916.5,1063.0 H1920.7 M2266.5,1063.0 H2262.3 M1916.5,1083.0 H1920.7 M2266.5,1083.0 H2262.3" stroke="#262626" stroke-width="2" fill="none"/>
<path d="M1921.6,970.1 l15.8,16 M1937.4,970.1 l-15.8,16" stroke="#262626" stroke-width="1.5"/>
<text x="1947.5" y="986.6" font-size="33" fill="#262626">10</text>
<text x="1992.5" y="969.6" font-size="26" fill="#262626">-7</text>
<text x="1947.5" y="1033.5" font-size="34" fill="#000">PP</text>
<text x="2127.7" y="1024.8" font-size="34" fill="#000">ROCAM.10</text>
<text x="1946.4" y="1084.2" font-size="27.5" fill="#000" stroke="#000" stroke-width="0.3" font-family="Liberation Serif, serif">SNR=<tspan>5.5</tspan></text>
<text x="2127.7" y="1086.6" font-size="34" fill="#000" stroke="#000" stroke-width="0.45" font-family="Liberation Serif, serif">261<tspan stroke-width="0">°</tspan>, 108<tspan stroke-width="0">°</tspan></text>
<clipPath id="c30"><rect x="41.5" y="1178.0" width="355.5" height="120.5"/></clipPath>
<g clip-path="url(#c30)" fill="none" stroke-linejoin="round" stroke-linecap="round">
<path d="M41.5,1245.5l2,-0.2 2,-0.2 2,-0.2 2,-0.1 2,-0.1 2,-0.1 2,-0.1 2,-0.1 2,0 2,-0.1 2,0 2,0 2,0 2,-0.1 2,0 2,0 2,0.1 2,0.2 2,0.3 2,0.5 2,0.4 2,0.5 2,0.3 2,0.2 2,0.1 2,-0.1 2,-0.2 2,-0.1 2,-0.3 2,-0.2 2,-0.2 2,-0.3 2,-0.2 2,-0.4 2,-0.5 2,-0.7 2,-1.2 2,-1.7 2,-2 2,-1.9 2,-1.5 2,-0.9 2,-0.4 2,-0.1 2,0 2,0.2 2,0.5 2,1.2 2,1.9 2,2.5 2,2.8 2,3.1 2,3.3 2,3.4 2,3.6 2,3.9 2,4 2,4.4 2,4.2 2,3.7 2,2.5 2,1.1 2,-0.1 2,-1 2,-1.7 2,-2.4 2,-3.2 2,-4.3 2,-5.6 2,-6.5 2,-6.9 2,-7.2 2,-7.1 2,-6.9 2,-6.7 2,-6 2,-5.4 2,-4.7 2,-4.1 2,-3.1 2,-2.1 2,-0.7 2,0.5 2,1.3 2,2 2,2.6 2,3.1 2,3.7 2,4.4 2,4.8 2,4.9 2,4.6 2,4.4 2,4.1 2,3.9 2,3.9 2,3.8 2,3.7 2,3.7 2,3.5 2,3.3 2,3.2 2,2.9 2,2.6 2,2.2 2,1.7 2,1 2,0.6 2,0.4 2,0.2 2,0 2,-0.3 2,-0.7 2,-1.3 2,-1.7 2,-1.9 2,-2 2,-1.9 2,-2 2,-2 2,-2 2,-2.1 2,-2.1 2,-2.2 2,-2.3 2,-2.3 2,-2.1 2,-1.8 2,-1.4 2,-1.2 2,-0.8 2,-0.7 2,-0.6 2,-0.6 2,-0.5 2,-0.6 2,-0.5 2,-0.6 2,-0.6 2,-0.6 2,-0.5 2,-0.5 2,-0.4 2,-0.4 2,-0.2 2,-0.2 2,-0.2 2,-0.1 2,-0.1 2,-0.1 2,-0.2 2,-0.3 2,-0.4 2,-0.5 2,-0.5 2,-0.5 2,-0.3 2,-0.1 2,0.1 2,0.5 2,0.6 2,0.8 2,0.7 2,0.8 2,0.6 2,0.6 2,0.5 2,0.5 2,0.6 2,0.7 2,0.8 2,0.9 2,1.1 2,1.1 2,1.2 0.5,0.3" stroke="#666666" stroke-width="9"/>
<path d="M41.5,1245.5l2,0 2,0 2,0 2,0 2,0 2,0 2,0 2,0 2,0 2,0 2,0 2,0 2,0 2,0 2,0 2,0 2,-0.1 2,0 2,0 2,-0.1 2,0 2,-0.1 2,-0.1 2,-0.1 2,-0.2 2,-0.2 2,-0.2 2,-0.3 2,-0.4 2,-0.5 2,-0.6 2,-0.7 2,-0.8 2,-1 2,-1 2,-1.1 2,-1.1 2,-1.2 2,-1 2,-0.9 2,-0.7 2,-0.5 2,-0.2 2,0.2 2,0.5 2,1 2,1.4 2,1.9 2,2.4 2,2.8 2,3.2 2,3.6 2,3.9 2,4.2 2,4.3 2,4.3 2,4.3 2,4.1 2,3.7 2,3.1 2,2.4 2,1.6 2,0.4 2,-0.6 2,-1.9 2,-2.9 2,-4.1 2,-5.1 2,-6 2,-6.6 2,-7.1 2,-7.4 2,-7.5 2,-7.5 2,-7.1 2,-6.6 2,-6 2,-5.2 2,-4.4 2,-3.3 2,-2.3 2,-1.3 2,-0.3 2,0.7 2,1.6 2,2.3 2,2.9 2,3.6 2,3.9 2,4.3 2,4.4 2,4.5 2,4.5 2,4.3 2,4.2 2,4 2,3.8 2,3.5 2,3.3 2,3 2,2.7 2,2.4 2,2.1 2,1.9 2,1.5 2,1.3 2,1 2,0.8 2,0.5 2,0.4 2,0.2 2,0 2,-0.1 2,-0.2 2,-0.3 2,-0.5 2,-0.6 2,-0.6 2,-0.8 2,-0.8 2,-0.9 2,-0.9 2,-1 2,-1 2,-1 2,-0.9 2,-1 2,-0.9 2,-0.9 2,-0.8 2,-0.9 2,-0.8 2,-0.8 2,-0.7 2,-0.8 2,-0.7 2,-0.7 2,-0.7 2,-0.7 2,-0.7 2,-0.7 2,-0.6 2,-0.7 2,-0.6 2,-0.6 2,-0.6 2,-0.6 2,-0.6 2,-0.5 2,-0.5 2,-0.4 2,-0.4 2,-0.4 2,-0.3 2,-0.3 2,-0.3 2,-0.2 2,-0.1 2,-0.2 2,0 2,-0.1 2,0 2,0 2,0 2,0 2,0 2,0 2,0 2,0 2,0.1 2,0 2,0 2,0 2,0 2,0 0.5,0" stroke="#ff0000" stroke-width="9"/>
</g>
<rect x="280.9" y="1218.8" width="8.8" height="46.8" fill="#0000ff"/>
<path d="M40.5,1186.0 H393.0 M40.5,1290.5 H393.0" stroke="#5a5a5a" stroke-width="2.2" fill="none"/>
<path d="M41.5,1185.0 V1291.5 M392.0,1185.0 V1291.5" stroke="#262626" stroke-width="2.2" fill="none"/>
<text x="68.2" y="1331.3" font-size="34" fill="#5a5a5a" text-anchor="middle">0</text>
<text x="221.5" y="1331.3" font-size="34" fill="#5a5a5a" text-anchor="middle">50</text>
<text x="374.9" y="1331.3" font-size="34" fill="#5a5a5a" text-anchor="middle">100</text>
<path d="M72.2,1290.5 V1286.3 M72.2,1186.0 V1190.2 M225.5,1290.5 V1286.3 M225.5,1186.0 V1190.2 M378.9,1290.5 V1286.3 M378.9,1186.0 V1190.2" stroke="#5a5a5a" stroke-width="2" fill="none"/>
<text x="28.3" y="1226.9" font-size="34" fill="#262626" text-anchor="end">5</text>
<text x="28.3" y="1258.4" font-size="34" fill="#262626" text-anchor="end">0</text>
<text x="31.0" y="1288.9" font-size="34" fill="#262626" text-anchor="end">-5</text>
<path d="M41.5,1213.5 H45.7 M392.0,1213.5 H387.8 M41.5,1245.0 H45.7 M392.0,1245.0 H387.8 M41.5,1275.5 H45.7 M392.0,1275.5 H387.8" stroke="#262626" stroke-width="2" fill="none"/>
<path d="M46.6,1161.1 l15.8,16 M62.4,1161.1 l-15.8,16" stroke="#262626" stroke-width="1.5"/>
<text x="72.5" y="1177.6" font-size="33" fill="#262626">10</text>
<text x="117.5" y="1160.6" font-size="26" fill="#262626">-7</text>
<text x="72.5" y="1230.5" font-size="34" fill="#000">P</text>
<text x="253.0" y="1221.8" font-size="34" fill="#000">SANVU.00</text>
<text x="71.5" y="1281.7" font-size="27.5" fill="#000" stroke="#000" stroke-width="0.3" font-family="Liberation Serif, serif">SNR=<tspan>15.8</tspan></text>
<text x="253.0" y="1284.1" font-size="34" fill="#000" stroke="#000" stroke-width="0.45" font-family="Liberation Serif, serif">171<tspan stroke-width="0">°</tspan>, 67<tspan stroke-width="0">°</tspan></text>
<clipPath id="c31"><rect x="508.5" y="1178.0" width="359.5" height="120.5"/></clipPath>
<g clip-path="url(#c31)" fill="none" stroke-linejoin="round" stroke-linecap="round">
<path d="M508.5,1230.5l2,0.1 2,0.2 2,0.2 2,0.1 2,0.3 2,0.2 2,0.2 2,0.3 2,0.2 2,0.3 2,0.3 2,0.3 2,0.2 2,0.4 2,0.3 2,0.4 2,0.5 2,0.5 2,0.4 2,0.2 2,0.1 2,-0.3 2,-0.4 2,-0.4 2,-0.5 2,-0.2 2,-0.1 2,0.3 2,0.4 2,0.6 2,0.5 2,0.4 2,0.2 2,-0.1 2,-0.4 2,-0.7 2,-1.1 2,-1.6 2,-2.4 2,-3.2 2,-3.8 2,-3.9 2,-3.8 2,-3.6 2,-3.4 2,-3.3 2,-2.9 2,-2.4 2,-1.5 2,-0.3 2,0.8 2,1.9 2,2.8 2,3.4 2,3.8 2,4.2 2,4.6 2,5.1 2,5.2 2,5.2 2,4.9 2,4.6 2,4.4 2,4.5 2,4.8 2,5.3 2,5.7 2,5.6 2,4.7 2,3.1 2,1.3 2,-0.1 2,-1.1 2,-1.6 2,-2.3 2,-3.3 2,-4.7 2,-5.9 2,-6.7 2,-6.8 2,-6.5 2,-6.1 2,-5.7 2,-5.4 2,-5.1 2,-4.8 2,-4.4 2,-4.2 2,-3.9 2,-3.6 2,-3.2 2,-3.1 2,-2.6 2,-2.1 2,-1.2 2,-0.5 2,0.1 2,0.4 2,0.6 2,0.9 2,1.2 2,1.6 2,2.1 2,2.4 2,2.5 2,2.5 2,2.4 2,2.1 2,1.9 2,1.9 2,2 2,2 2,2.1 2,2.4 2,2.5 2,2.5 2,2.6 2,2.3 2,2.2 2,2 2,1.7 2,1.6 2,1.3 2,1.1 2,0.9 2,0.7 2,0.6 2,0.4 2,0.1 2,-0.1 2,-0.4 2,-0.5 2,-0.6 2,-0.6 2,-0.6 2,-0.5 2,-0.6 2,-0.4 2,-0.4 2,-0.1 2,0 2,0.3 2,0.5 2,0.7 2,0.7 2,0.8 2,0.9 2,0.9 2,1 2,1 2,0.9 2,0.6 2,0.3 2,0.1 2,-0.2 2,-0.2 2,-0.2 2,-0.3 2,-0.3 2,-0.5 2,-0.5 2,-0.7 2,-0.8 2,-1 2,-1 2,-1.3 2,-1.3 2,-1.6 2,-1.5 2,-1.6 2,-1.5 2,-1.4 2,-1.3 2,-1.3 2,-1.3 2,-1.2 2,-1.3 0.5,-0.3" stroke="#666666" stroke-width="9"/>
<path d="M508.5,1230.5l2,0 2,0 2,0 2,0 2,0 2,0 2,0 2,0 2,0 2,0 2,0 2,0 2,-0.1 2,0 2,0 2,0 2,0.1 2,0 2,0.1 2,0.1 2,0.1 2,0.2 2,0.1 2,0.3 2,0.2 2,0.3 2,0.2 2,0.3 2,0.2 2,0.1 2,0.1 2,-0.1 2,-0.3 2,-0.5 2,-0.9 2,-1.1 2,-1.5 2,-1.7 2,-2 2,-2.2 2,-2.2 2,-2.3 2,-2.3 2,-2.1 2,-1.9 2,-1.6 2,-1.3 2,-0.9 2,-0.4 2,0.1 2,0.6 2,1.3 2,1.7 2,2.3 2,2.7 2,3.2 2,3.6 2,3.8 2,4.1 2,4.3 2,4.4 2,4.5 2,4.5 2,4.4 2,4.4 2,4.1 2,3.9 2,3.5 2,3 2,2.3 2,1.5 2,0.7 2,-0.2 2,-1.1 2,-1.9 2,-2.7 2,-3.5 2,-4.1 2,-4.7 2,-5.1 2,-5.5 2,-5.6 2,-5.8 2,-5.8 2,-5.7 2,-5.4 2,-5.2 2,-4.8 2,-4.3 2,-3.8 2,-3.3 2,-2.6 2,-2 2,-1.4 2,-0.8 2,-0.2 2,0.3 2,0.7 2,1 2,1.4 2,1.5 2,1.7 2,1.9 2,1.9 2,1.9 2,2 2,1.9 2,2 2,1.8 2,1.9 2,1.8 2,1.8 2,1.7 2,1.7 2,1.7 2,1.6 2,1.6 2,1.5 2,1.5 2,1.4 2,1.3 2,1.3 2,1.2 2,1.1 2,1.1 2,0.9 2,0.9 2,0.8 2,0.7 2,0.6 2,0.6 2,0.5 2,0.4 2,0.4 2,0.4 2,0.2 2,0.3 2,0.2 2,0.2 2,0.1 2,0.1 2,0 2,0 2,0 2,-0.1 2,-0.1 2,-0.2 2,-0.2 2,-0.2 2,-0.2 2,-0.3 2,-0.3 2,-0.3 2,-0.3 2,-0.3 2,-0.4 2,-0.4 2,-0.3 2,-0.4 2,-0.4 2,-0.4 2,-0.4 2,-0.4 2,-0.4 2,-0.4 2,-0.4 2,-0.4 2,-0.4 2,-0.4 2,-0.4 2,-0.4 2,-0.4 2,-0.4 2,-0.5 2,-0.4 2,-0.4 2,-0.4 0.5,-0.1" stroke="#ff0000" stroke-width="9"/>
</g>
<rect x="750.4" y="1211.2" width="8.8" height="46.2" fill="#0000ff"/>
<path d="M507.5,1186.0 H864.0 M507.5,1290.5 H864.0" stroke="#5a5a5a" stroke-width="2.2" fill="none"/>
<path d="M508.5,1185.0 V1291.5 M863.0,1185.0 V1291.5" stroke="#262626" stroke-width="2.2" fill="none"/>
<text x="535.5" y="1331.3" font-size="34" fill="#5a5a5a" text-anchor="middle">0</text>
<text x="690.6" y="1331.3" font-size="34" fill="#5a5a5a" text-anchor="middle">50</text>
<text x="845.7" y="1331.3" font-size="34" fill="#5a5a5a" text-anchor="middle">100</text>
<path d="M539.5,1290.5 V1286.3 M539.5,1186.0 V1190.2 M694.6,1290.5 V1286.3 M694.6,1186.0 V1190.2 M849.7,1290.5 V1286.3 M849.7,1186.0 V1190.2" stroke="#5a5a5a" stroke-width="2" fill="none"/>
<text x="495.3" y="1206.9" font-size="34" fill="#262626" text-anchor="end">4</text>
<text x="495.3" y="1225.2" font-size="34" fill="#262626" text-anchor="end">2</text>
<text x="495.3" y="1243.4" font-size="34" fill="#262626" text-anchor="end">0</text>
<text x="498.0" y="1261.9" font-size="34" fill="#262626" text-anchor="end">-2</text>
<text x="498.0" y="1280.9" font-size="34" fill="#262626" text-anchor="end">-4</text>
<text x="498.0" y="1299.4" font-size="34" fill="#262626" text-anchor="end">-6</text>
<path d="M508.5,1193.5 H512.7 M863.0,1193.5 H858.8 M508.5,1211.8 H512.7 M863.0,1211.8 H858.8 M508.5,1230.0 H512.7 M863.0,1230.0 H858.8 M508.5,1248.5 H512.7 M863.0,1248.5 H858.8 M508.5,1267.5 H512.7 M863.0,1267.5 H858.8 M508.5,1286.0 H512.7 M863.0,1286.0 H858.8" stroke="#262626" stroke-width="2" fill="none"/>
<path d="M513.6,1161.1 l15.8,16 M529.4,1161.1 l-15.8,16" stroke="#262626" stroke-width="1.5"/>
<text x="539.5" y="1177.6" font-size="33" fill="#262626">10</text>
<text x="584.5" y="1160.6" font-size="26" fill="#262626">-7</text>
<text x="539.9" y="1223.0" font-size="34" fill="#000">PP</text>
<text x="722.4" y="1214.2" font-size="34" fill="#000">SOK.00</text>
<text x="538.8" y="1273.7" font-size="27.5" fill="#000" stroke="#000" stroke-width="0.3" font-family="Liberation Serif, serif">SNR=<tspan>9.4</tspan></text>
<text x="722.4" y="1276.1" font-size="34" fill="#000" stroke="#000" stroke-width="0.45" font-family="Liberation Serif, serif">355<tspan stroke-width="0">°</tspan>, 114<tspan stroke-width="0">°</tspan></text>
<clipPath id="c32"><rect x="979.5" y="1178.0" width="355.0" height="120.5"/></clipPath>
<g clip-path="url(#c32)" fill="none" stroke-linejoin="round" stroke-linecap="round">
<path d="M979.5,1226.8l2,-0.1 2,0 2,0 2,0 2,-0.1 2,0 2,-0.1 2,-0.1 2,-0.1 2,-0.1 2,-0.1 2,0 2,-0.1 2,-0.2 2,-0.2 2,-0.5 2,-0.8 2,-1 2,-1.2 2,-1 2,-0.9 2,-0.6 2,-0.6 2,-0.4 2,-0.4 2,-0.2 2,0.1 2,0.4 2,0.7 2,0.8 2,0.8 2,0.6 2,0.2 2,-0.1 2,-0.5 2,-0.7 2,-1.1 2,-1.3 2,-1.6 2,-2 2,-2.2 2,-2.1 2,-1.9 2,-1.7 2,-1.5 2,-1.3 2,-1 2,-0.6 2,-0.1 2,0.5 2,1 2,1.3 2,1.8 2,2.2 2,2.9 2,3.7 2,4.3 2,4.6 2,4.8 2,4.7 2,4.6 2,4.9 2,5.5 2,6.4 2,7.4 2,7.6 2,6.3 2,3.9 2,1.3 2,-0.8 2,-2 2,-2.7 2,-3.3 2,-4.3 2,-5.4 2,-6.2 2,-6.8 2,-7 2,-7 2,-6.9 2,-6.7 2,-6.3 2,-5.8 2,-5.2 2,-4.6 2,-3.9 2,-2.9 2,-1.9 2,-1 2,-0.4 2,-0.1 2,0.2 2,0.6 2,0.9 2,1.3 2,1.4 2,1.6 2,1.5 2,1.6 2,1.5 2,1.7 2,1.6 2,1.7 2,1.6 2,1.5 2,1.5 2,1.5 2,1.5 2,1.7 2,1.8 2,2.1 2,2.4 2,2.5 2,2.7 2,2.5 2,2.4 2,2.2 2,2 2,1.6 2,1.2 2,0.8 2,0.5 2,0.4 2,0.2 2,-0.1 2,-0.6 2,-1.3 2,-2 2,-2.3 2,-2.5 2,-2.3 2,-2.2 2,-2.1 2,-1.8 2,-1.5 2,-0.9 2,-0.4 2,0 2,0.4 2,0.6 2,0.7 2,1.1 2,1.5 2,1.9 2,2.2 2,2.3 2,2.2 2,1.9 2,1.8 2,1.6 2,1.5 2,1.2 2,0.9 2,0.5 2,0 2,-0.5 2,-0.7 2,-0.9 2,-1 2,-1.2 2,-1.4 2,-1.6 2,-1.9 2,-2 2,-1.9 2,-1.8 2,-1.6 2,-1.3 2,-1.1 2,-1 2,-0.7 2,-0.7 2,-0.4 2,-0.4 2,-0.4" stroke="#666666" stroke-width="9"/>
<path d="M979.5,1226.8l2,0 2,0 2,0 2,0 2,0 2,0 2,0 2,0 2,0 2,-0.1 2,0 2,0 2,0 2,-0.1 2,0 2,0 2,0 2,0 2,0.1 2,0.1 2,0.1 2,0.2 2,0.3 2,0.3 2,0.3 2,0.4 2,0.4 2,0.4 2,0.4 2,0.2 2,0 2,-0.3 2,-0.5 2,-1 2,-1.4 2,-1.8 2,-2.2 2,-2.4 2,-2.8 2,-2.9 2,-2.9 2,-2.9 2,-2.8 2,-2.5 2,-2.1 2,-1.8 2,-1.2 2,-0.7 2,0 2,0.5 2,1.2 2,1.9 2,2.4 2,3 2,3.5 2,4 2,4.5 2,4.9 2,5.2 2,5.6 2,5.9 2,6 2,6.1 2,6.1 2,5.9 2,5.3 2,4.4 2,3.4 2,2.1 2,0.9 2,-0.5 2,-1.7 2,-2.9 2,-3.9 2,-4.7 2,-5.4 2,-6 2,-6.2 2,-6.5 2,-6.4 2,-6.3 2,-6 2,-5.6 2,-5.2 2,-4.7 2,-4.1 2,-3.5 2,-2.9 2,-2.3 2,-1.7 2,-1.1 2,-0.6 2,-0.1 2,0.3 2,0.7 2,0.9 2,1.1 2,1.3 2,1.4 2,1.4 2,1.5 2,1.4 2,1.5 2,1.5 2,1.4 2,1.4 2,1.4 2,1.3 2,1.4 2,1.4 2,1.3 2,1.4 2,1.4 2,1.3 2,1.4 2,1.3 2,1.3 2,1.3 2,1.2 2,1.2 2,1.1 2,1 2,1 2,1 2,0.9 2,0.8 2,0.8 2,0.7 2,0.6 2,0.5 2,0.5 2,0.4 2,0.3 2,0.2 2,0.2 2,0.1 2,0.1 2,0.1 2,0 2,0 2,0 2,-0.1 2,0 2,-0.1 2,0 2,-0.1 2,-0.2 2,-0.1 2,-0.2 2,-0.2 2,-0.2 2,-0.2 2,-0.3 2,-0.3 2,-0.3 2,-0.4 2,-0.4 2,-0.4 2,-0.4 2,-0.4 2,-0.4 2,-0.4 2,-0.4 2,-0.4 2,-0.4 2,-0.4 2,-0.3 2,-0.4 2,-0.4 2,-0.4 2,-0.3 2,-0.4 2,-0.4 2,-0.4 2,-0.3" stroke="#ff0000" stroke-width="9"/>
</g>
<rect x="1218.8" y="1208.8" width="8.8" height="46.8" fill="#0000ff"/>
<path d="M978.5,1186.0 H1330.5 M978.5,1290.5 H1330.5" stroke="#5a5a5a" stroke-width="2.2" fill="none"/>
<path d="M979.5,1185.0 V1291.5 M1329.5,1185.0 V1291.5" stroke="#262626" stroke-width="2.2" fill="none"/>
<text x="1006.1" y="1331.3" font-size="34" fill="#5a5a5a" text-anchor="middle">0</text>
<text x="1159.2" y="1331.3" font-size="34" fill="#5a5a5a" text-anchor="middle">50</text>
<text x="1312.4" y="1331.3" font-size="34" fill="#5a5a5a" text-anchor="middle">100</text>
<path d="M1010.1,1290.5 V1286.3 M1010.1,1186.0 V1190.2 M1163.2,1290.5 V1286.3 M1163.2,1186.0 V1190.2 M1316.4,1290.5 V1286.3 M1316.4,1186.0 V1190.2" stroke="#5a5a5a" stroke-width="2" fill="none"/>
<text x="966.3" y="1207.7" font-size="34" fill="#262626" text-anchor="end">4</text>
<text x="966.3" y="1223.9" font-size="34" fill="#262626" text-anchor="end">2</text>
<text x="966.3" y="1240.2" font-size="34" fill="#262626" text-anchor="end">0</text>
<text x="969.0" y="1255.9" font-size="34" fill="#262626" text-anchor="end">-2</text>
<text x="969.0" y="1271.9" font-size="34" fill="#262626" text-anchor="end">-4</text>
<text x="969.0" y="1288.4" font-size="34" fill="#262626" text-anchor="end">-6</text>
<path d="M979.5,1194.2 H983.7 M1329.5,1194.2 H1325.3 M979.5,1210.5 H983.7 M1329.5,1210.5 H1325.3 M979.5,1226.8 H983.7 M1329.5,1226.8 H1325.3 M979.5,1242.5 H983.7 M1329.5,1242.5 H1325.3 M979.5,1258.5 H983.7 M1329.5,1258.5 H1325.3 M979.5,1275.0 H983.7 M1329.5,1275.0 H1325.3" stroke="#262626" stroke-width="2" fill="none"/>
<path d="M984.6,1161.1 l15.8,16 M1000.4,1161.1 l-15.8,16" stroke="#262626" stroke-width="1.5"/>
<text x="1010.5" y="1177.6" font-size="33" fill="#262626">10</text>
<text x="1055.5" y="1160.6" font-size="26" fill="#262626">-7</text>
<text x="1010.5" y="1220.5" font-size="34" fill="#000">PP</text>
<text x="1190.7" y="1211.8" font-size="34" fill="#000">SPB.00</text>
<text x="1009.4" y="1271.7" font-size="27.5" fill="#000" stroke="#000" stroke-width="0.3" font-family="Liberation Serif, serif">SNR=<tspan>5.2</tspan></text>
<text x="1190.7" y="1274.1" font-size="34" fill="#000" stroke="#000" stroke-width="0.45" font-family="Liberation Serif, serif">45<tspan stroke-width="0">°</tspan>, 146<tspan stroke-width="0">°</tspan></text>
<clipPath id="c33"><rect x="1446.0" y="1178.0" width="359.0" height="120.5"/></clipPath>
<g clip-path="url(#c33)" fill="none" stroke-linejoin="round" stroke-linecap="round">
<path d="M1446.0,1237.5l2,0 2,0 2,0 2,0 2,-0.1 2,0 2,0 2,-0.1 2,0 2,-0.1 2,0 2,0 2,-0.1 2,0 2,-0.1 2,-0.3 2,-0.4 2,-0.6 2,-0.7 2,-0.4 2,-0.1 2,0.2 2,0.5 2,0.6 2,0.5 2,0.3 2,0.2 2,0 2,0 2,0 2,0.1 2,-0.1 2,-0.3 2,-0.6 2,-1 2,-1.4 2,-1.6 2,-1.8 2,-1.9 2,-2.1 2,-2 2,-1.7 2,-1.2 2,-0.5 2,0.3 2,1 2,1.5 2,2 2,2.6 2,3.1 2,3.9 2,4.7 2,5.2 2,5.7 2,6 2,6.2 2,6 2,5.4 2,4.6 2,3.6 2,2.1 2,0.6 2,-0.8 2,-2.2 2,-3.4 2,-4.7 2,-6.2 2,-7.3 2,-7.8 2,-7.6 2,-7 2,-6.5 2,-6.1 2,-5.8 2,-5.7 2,-5.5 2,-5 2,-4.4 2,-3.5 2,-2.5 2,-1.7 2,-0.8 2,0.1 2,1.1 2,1.9 2,2.6 2,2.9 2,3.1 2,3.2 2,3.4 2,3.5 2,3.5 2,3.6 2,3.4 2,3.5 2,3.3 2,3.1 2,2.7 2,2.4 2,1.8 2,1.6 2,1.2 2,1 2,0.6 2,0.4 2,0.2 2,0.1 2,0.1 2,0.2 2,0.2 2,0.4 2,0.5 2,0.6 2,0.6 2,0.7 2,0.7 2,0.7 2,0.8 2,0.7 2,0.8 2,0.6 2,0.3 2,0.2 2,-0.2 2,-0.4 2,-0.5 2,-0.7 2,-0.8 2,-0.7 2,-0.7 2,-0.7 2,-0.6 2,-0.6 2,-0.5 2,-0.6 2,-0.5 2,-0.5 2,-0.4 2,-0.3 2,-0.3 2,-0.1 2,-0.2 2,-0.1 2,-0.1 2,-0.2 2,-0.2 2,-0.2 2,-0.4 2,-0.4 2,-0.4 2,-0.5 2,-0.6 2,-0.6 2,-0.8 2,-1 2,-1.2 2,-1.3 2,-1.4 2,-1.2 2,-1.1 2,-0.8 2,-0.8 2,-0.6 2,-0.6 2,-0.5 2,-0.4 2,-0.2 2,-0.1 2,0 2,0.1 2,0.1 2,0.2 2,0.2 2,0.4 2,0.4 2,0.5 2,0.5" stroke="#666666" stroke-width="9"/>
<path d="M1446.0,1237.5l2,0 2,0 2,0 2,0 2,0 2,0 2,0 2,0 2,0 2,0 2,0 2,0 2,0 2,0 2,0 2,0 2,-0.1 2,0 2,0 2,0 2,0 2,-0.1 2,0 2,-0.1 2,-0.1 2,-0.2 2,-0.2 2,-0.3 2,-0.4 2,-0.5 2,-0.6 2,-0.7 2,-0.9 2,-1 2,-1 2,-1.1 2,-1 2,-1 2,-0.7 2,-0.5 2,-0.1 2,0.3 2,0.8 2,1.2 2,1.7 2,2.2 2,2.6 2,2.9 2,3.2 2,3.4 2,3.5 2,3.5 2,3.4 2,3.3 2,2.9 2,2.7 2,2.1 2,1.7 2,1.1 2,0.4 2,-0.2 2,-1 2,-1.7 2,-2.4 2,-3 2,-3.7 2,-4.1 2,-4.5 2,-4.9 2,-5.1 2,-5.2 2,-5.2 2,-5 2,-4.9 2,-4.6 2,-4.2 2,-3.7 2,-3.1 2,-2.6 2,-1.9 2,-1.4 2,-0.7 2,0 2,0.5 2,1.1 2,1.7 2,2.2 2,2.6 2,3 2,3.3 2,3.4 2,3.6 2,3.6 2,3.5 2,3.4 2,3.3 2,3.1 2,2.8 2,2.6 2,2.3 2,2.1 2,1.7 2,1.5 2,1.3 2,1.1 2,0.8 2,0.7 2,0.5 2,0.3 2,0.3 2,0.1 2,0.1 2,0 2,0 2,-0.1 2,-0.1 2,-0.1 2,-0.2 2,-0.3 2,-0.3 2,-0.3 2,-0.4 2,-0.4 2,-0.5 2,-0.5 2,-0.6 2,-0.5 2,-0.6 2,-0.7 2,-0.6 2,-0.7 2,-0.6 2,-0.7 2,-0.6 2,-0.7 2,-0.6 2,-0.7 2,-0.6 2,-0.6 2,-0.5 2,-0.6 2,-0.5 2,-0.5 2,-0.5 2,-0.5 2,-0.4 2,-0.4 2,-0.4 2,-0.5 2,-0.3 2,-0.4 2,-0.4 2,-0.3 2,-0.4 2,-0.3 2,-0.3 2,-0.3 2,-0.2 2,-0.2 2,-0.2 2,-0.2 2,-0.1 2,-0.2 2,-0.1 2,-0.1 2,-0.1 2,-0.1 2,0 2,-0.1 2,-0.1 2,0 2,-0.1 2,0 2,-0.1 2,0 2,-0.1 2,0" stroke="#ff0000" stroke-width="9"/>
</g>
<rect x="1688.1" y="1215.0" width="8.8" height="46.0" fill="#0000ff"/>
<path d="M1445.0,1186.0 H1801.0 M1445.0,1290.5 H1801.0" stroke="#5a5a5a" stroke-width="2.2" fill="none"/>
<path d="M1446.0,1185.0 V1291.5 M1800.0,1185.0 V1291.5" stroke="#262626" stroke-width="2.2" fill="none"/>
<text x="1473.0" y="1331.3" font-size="34" fill="#5a5a5a" text-anchor="middle">0</text>
<text x="1627.8" y="1331.3" font-size="34" fill="#5a5a5a" text-anchor="middle">50</text>
<text x="1782.7" y="1331.3" font-size="34" fill="#5a5a5a" text-anchor="middle">100</text>
<path d="M1477.0,1290.5 V1286.3 M1477.0,1186.0 V1190.2 M1631.8,1290.5 V1286.3 M1631.8,1186.0 V1190.2 M1786.7,1290.5 V1286.3 M1786.7,1186.0 V1190.2" stroke="#5a5a5a" stroke-width="2" fill="none"/>
<text x="1432.8" y="1217.7" font-size="34" fill="#262626" text-anchor="end">1</text>
<text x="1432.8" y="1250.9" font-size="34" fill="#262626" text-anchor="end">0</text>
<text x="1435.5" y="1282.7" font-size="34" fill="#262626" text-anchor="end">-1</text>
<path d="M1446.0,1204.2 H1450.2 M1800.0,1204.2 H1795.8 M1446.0,1237.5 H1450.2 M1800.0,1237.5 H1795.8 M1446.0,1269.2 H1450.2 M1800.0,1269.2 H1795.8" stroke="#262626" stroke-width="2" fill="none"/>
<path d="M1451.1,1161.1 l15.8,16 M1466.9,1161.1 l-15.8,16" stroke="#262626" stroke-width="1.5"/>
<text x="1477.0" y="1177.6" font-size="33" fill="#262626">10</text>
<text x="1522.0" y="1160.6" font-size="26" fill="#262626">-6</text>
<text x="1477.3" y="1226.8" font-size="34" fill="#000">P</text>
<text x="1659.6" y="1218.0" font-size="34" fill="#000">SSB.00</text>
<text x="1476.3" y="1277.2" font-size="27.5" fill="#000" stroke="#000" stroke-width="0.3" font-family="Liberation Serif, serif">SNR=<tspan>16.6</tspan></text>
<text x="1659.6" y="1279.6" font-size="34" fill="#000" stroke="#000" stroke-width="0.45" font-family="Liberation Serif, serif">342<tspan stroke-width="0">°</tspan>, 81<tspan stroke-width="0">°</tspan></text>
<clipPath id="c34"><rect x="1916.5" y="1178.0" width="355.0" height="120.5"/></clipPath>
<g clip-path="url(#c34)" fill="none" stroke-linejoin="round" stroke-linecap="round">
<path d="M1916.5,1237.5l2,0 2,0 2,-0.1 2,0 2,0 2,-0.1 2,-0.1 2,0 2,-0.1 2,-0.1 2,-0.1 2,-0.1 2,-0.1 2,-0.1 2,-0.1 2,-0.2 2,-0.2 2,-0.3 2,-0.3 2,-0.3 2,-0.1 2,0 2,0.3 2,0.5 2,0.6 2,0.5 2,0.3 2,0.2 2,-0.1 2,-0.2 2,-0.4 2,-0.4 2,-0.6 2,-0.7 2,-0.9 2,-1.1 2,-1.4 2,-1.8 2,-2.2 2,-2.5 2,-2.4 2,-2 2,-1.1 2,-0.1 2,0.8 2,1.7 2,2.2 2,2.6 2,3.2 2,3.9 2,4.4 2,4.9 2,5.2 2,5.3 2,5.3 2,5.4 2,5.1 2,4.8 2,4.4 2,3.5 2,2.2 2,0.7 2,-0.8 2,-2.2 2,-3.3 2,-4.8 2,-6.2 2,-7.3 2,-7.8 2,-7.6 2,-7 2,-6.5 2,-6.1 2,-5.8 2,-5.7 2,-5.5 2,-5.1 2,-4.3 2,-3.5 2,-2.5 2,-1.6 2,-0.8 2,-0.1 2,0.9 2,1.6 2,2.3 2,2.7 2,3.2 2,3.5 2,4 2,4.2 2,4.3 2,4 2,3.8 2,3.6 2,3.2 2,2.9 2,2.4 2,2.1 2,1.8 2,1.4 2,1.1 2,0.6 2,0.4 2,0.1 2,0.2 2,0.1 2,0.1 2,0.3 2,0.4 2,0.5 2,0.6 2,0.7 2,0.7 2,0.7 2,0.7 2,0.8 2,0.7 2,0.7 2,0.6 2,0.3 2,0.1 2,-0.2 2,-0.3 2,-0.4 2,-0.5 2,-0.5 2,-0.6 2,-0.5 2,-0.6 2,-0.6 2,-0.7 2,-0.8 2,-0.8 2,-0.8 2,-0.6 2,-0.5 2,-0.4 2,-0.3 2,-0.1 2,-0.1 2,-0.1 2,-0.2 2,-0.1 2,-0.2 2,-0.3 2,-0.4 2,-0.4 2,-0.4 2,-0.5 2,-0.6 2,-0.7 2,-0.8 2,-1.1 2,-1.2 2,-1.4 2,-1.3 2,-1.2 2,-1 2,-0.8 2,-0.7 2,-0.7 2,-0.5 2,-0.5 2,-0.3 2,-0.2 2,-0.1 2,0 2,0.1 2,0.2 2,0.3 2,0.3 2,0.5 2,0.5 2,0.5" stroke="#666666" stroke-width="9"/>
<path d="M1916.5,1237.5l2,0 2,0 2,0 2,0 2,0 2,0 2,0 2,0 2,0 2,0 2,0 2,0 2,0 2,0 2,0 2,0 2,-0.1 2,0 2,0 2,0 2,0 2,-0.1 2,0 2,-0.1 2,-0.1 2,-0.2 2,-0.2 2,-0.3 2,-0.4 2,-0.5 2,-0.6 2,-0.8 2,-0.9 2,-1 2,-1 2,-1.2 2,-1.1 2,-1 2,-0.7 2,-0.5 2,-0.2 2,0.3 2,0.8 2,1.3 2,1.8 2,2.2 2,2.6 2,3 2,3.2 2,3.4 2,3.5 2,3.6 2,3.4 2,3.4 2,3 2,2.7 2,2.3 2,1.8 2,1.2 2,0.5 2,-0.2 2,-1 2,-1.8 2,-2.5 2,-3.1 2,-3.8 2,-4.2 2,-4.6 2,-4.9 2,-5.1 2,-5.3 2,-5.2 2,-5.2 2,-5 2,-4.7 2,-4.4 2,-3.8 2,-3.3 2,-2.7 2,-2 2,-1.2 2,-0.6 2,0.1 2,0.9 2,1.4 2,2.1 2,2.6 2,2.9 2,3.3 2,3.5 2,3.5 2,3.6 2,3.6 2,3.5 2,3.2 2,3.1 2,2.9 2,2.7 2,2.4 2,2.1 2,1.9 2,1.6 2,1.4 2,1.2 2,0.9 2,0.8 2,0.7 2,0.5 2,0.4 2,0.2 2,0.3 2,0.1 2,0.1 2,0 2,0 2,-0.1 2,-0.2 2,-0.2 2,-0.3 2,-0.4 2,-0.4 2,-0.4 2,-0.6 2,-0.5 2,-0.7 2,-0.6 2,-0.7 2,-0.7 2,-0.6 2,-0.7 2,-0.7 2,-0.7 2,-0.7 2,-0.6 2,-0.7 2,-0.6 2,-0.6 2,-0.6 2,-0.6 2,-0.6 2,-0.5 2,-0.6 2,-0.5 2,-0.5 2,-0.5 2,-0.5 2,-0.5 2,-0.4 2,-0.4 2,-0.4 2,-0.4 2,-0.3 2,-0.4 2,-0.3 2,-0.3 2,-0.2 2,-0.3 2,-0.2 2,-0.2 2,-0.2 2,-0.1 2,-0.2 2,-0.1 2,-0.1 2,-0.1 2,-0.1 2,-0.1 2,-0.1 2,-0.1 2,-0.1 2,0 2,-0.1 2,-0.1 2,0 2,-0.1" stroke="#ff0000" stroke-width="9"/>
</g>
<rect x="2156.3" y="1215.0" width="8.8" height="46.0" fill="#0000ff"/>
<path d="M1915.5,1186.0 H2267.5 M1915.5,1290.5 H2267.5" stroke="#5a5a5a" stroke-width="2.2" fill="none"/>
<path d="M1916.5,1185.0 V1291.5 M2266.5,1185.0 V1291.5" stroke="#262626" stroke-width="2.2" fill="none"/>
<text x="1943.1" y="1331.3" font-size="34" fill="#5a5a5a" text-anchor="middle">0</text>
<text x="2096.2" y="1331.3" font-size="34" fill="#5a5a5a" text-anchor="middle">50</text>
<text x="2249.4" y="1331.3" font-size="34" fill="#5a5a5a" text-anchor="middle">100</text>
<path d="M1947.1,1290.5 V1286.3 M1947.1,1186.0 V1190.2 M2100.2,1290.5 V1286.3 M2100.2,1186.0 V1190.2 M2253.4,1290.5 V1286.3 M2253.4,1186.0 V1190.2" stroke="#5a5a5a" stroke-width="2" fill="none"/>
<text x="1903.3" y="1216.9" font-size="34" fill="#262626" text-anchor="end">1</text>
<text x="1903.3" y="1250.9" font-size="34" fill="#262626" text-anchor="end">0</text>
<text x="1906.0" y="1285.2" font-size="34" fill="#262626" text-anchor="end">-1</text>
<path d="M1916.5,1203.5 H1920.7 M2266.5,1203.5 H2262.3 M1916.5,1237.5 H1920.7 M2266.5,1237.5 H2262.3 M1916.5,1271.8 H1920.7 M2266.5,1271.8 H2262.3" stroke="#262626" stroke-width="2" fill="none"/>
<path d="M1921.6,1161.1 l15.8,16 M1937.4,1161.1 l-15.8,16" stroke="#262626" stroke-width="1.5"/>
<text x="1947.5" y="1177.6" font-size="33" fill="#262626">10</text>
<text x="1992.5" y="1160.6" font-size="26" fill="#262626">-6</text>
<text x="1947.5" y="1226.8" font-size="34" fill="#000">P</text>
<text x="2127.7" y="1218.0" font-size="34" fill="#000">SSB.10</text>
<text x="1946.4" y="1277.2" font-size="27.5" fill="#000" stroke="#000" stroke-width="0.3" font-family="Liberation Serif, serif">SNR=<tspan>15.9</tspan></text>
<text x="2127.7" y="1279.6" font-size="34" fill="#000" stroke="#000" stroke-width="0.45" font-family="Liberation Serif, serif">342<tspan stroke-width="0">°</tspan>, 81<tspan stroke-width="0">°</tspan></text>
<clipPath id="c35"><rect x="41.5" y="1370.5" width="355.5" height="120.5"/></clipPath>
<g clip-path="url(#c35)" fill="none" stroke-linejoin="round" stroke-linecap="round">
<path d="M41.5,1428.7l2,0.2 2,0.1 2,0.1 2,0.2 2,0.1 2,0.2 2,0.2 2,0.2 2,0.2 2,0.2 2,0.3 2,0.2 2,0.2 2,0.3 2,0.2 2,0.3 2,0.4 2,0.4 2,0.4 2,0.4 2,0.4 2,0.2 2,0.1 2,0.1 2,0 2,0 2,0 2,-0.1 2,0 2,0 2,0 2,0 2,0.1 2,0.1 2,0.1 2,-0.1 2,-0.5 2,-1.2 2,-1.9 2,-2.5 2,-2.9 2,-3.1 2,-3.2 2,-3.3 2,-3.1 2,-2.9 2,-2.4 2,-1.9 2,-1.5 2,-0.7 2,0.1 2,1 2,1.7 2,2.4 2,2.9 2,3.4 2,4 2,4.5 2,4.8 2,4.8 2,4.7 2,4.6 2,4.5 2,4.7 2,4.9 2,5.1 2,4.6 2,3.5 2,1.6 2,-0.2 2,-1.7 2,-2.7 2,-3.6 2,-4.6 2,-5.6 2,-6.3 2,-6.7 2,-6.5 2,-6.3 2,-6 2,-5.6 2,-5.2 2,-4.6 2,-4.1 2,-3.5 2,-3.1 2,-2.4 2,-1.9 2,-1.3 2,-0.8 2,-0.4 2,0.4 2,1.4 2,2.3 2,2.9 2,3 2,3 2,2.7 2,2.5 2,2.4 2,2.3 2,2.3 2,2.3 2,2.2 2,2.2 2,2.1 2,2 2,1.9 2,1.7 2,1.6 2,1.4 2,1.4 2,1.2 2,1 2,0.9 2,0.7 2,0.6 2,0.6 2,0.4 2,0.4 2,0.2 2,-0.1 2,-0.2 2,-0.6 2,-0.7 2,-0.9 2,-0.8 2,-0.8 2,-0.7 2,-0.6 2,-0.6 2,-0.5 2,-0.4 2,-0.4 2,-0.1 2,0 2,0.1 2,0.3 2,0.4 2,0.5 2,0.6 2,0.7 2,0.8 2,1 2,1 2,1.1 2,1.1 2,1 2,1 2,1 2,0.9 2,0.8 2,0.6 2,0.6 2,0.5 2,0.3 2,0.4 2,0.2 2,0 2,-0.3 2,-0.7 2,-1.1 2,-1.3 2,-1.6 2,-1.6 2,-1.9 2,-1.9 2,-2.1 2,-2.1 2,-1.9 2,-1.8 2,-1.5 2,-1.3 2,-1.3 2,-1.1 0.5,-0.3" stroke="#666666" stroke-width="9"/>
<path d="M41.5,1428.8l2,0 2,0 2,0 2,0 2,0 2,0 2,-0.1 2,0 2,0 2,0 2,0 2,0 2,-0.1 2,0 2,0 2,0.1 2,0 2,0.1 2,0.1 2,0.1 2,0.2 2,0.2 2,0.2 2,0.2 2,0.2 2,0.2 2,0.1 2,0 2,-0.2 2,-0.4 2,-0.6 2,-0.8 2,-1.2 2,-1.4 2,-1.6 2,-1.9 2,-2 2,-2 2,-2.1 2,-2 2,-1.8 2,-1.5 2,-1.3 2,-1 2,-0.5 2,-0.2 2,0.4 2,0.7 2,1.3 2,1.8 2,2.3 2,2.7 2,3.2 2,3.5 2,3.7 2,4.1 2,4.3 2,4.4 2,4.4 2,4.5 2,4.5 2,4.4 2,4.1 2,3.9 2,3.5 2,2.8 2,2.2 2,1.3 2,0.3 2,-0.7 2,-1.7 2,-2.7 2,-3.6 2,-4.5 2,-5.2 2,-5.8 2,-6.3 2,-6.5 2,-6.7 2,-6.6 2,-6.6 2,-6.3 2,-6 2,-5.5 2,-4.9 2,-4.2 2,-3.4 2,-2.6 2,-1.8 2,-1 2,-0.2 2,0.4 2,1.1 2,1.5 2,1.9 2,2.2 2,2.4 2,2.6 2,2.6 2,2.5 2,2.6 2,2.5 2,2.4 2,2.3 2,2.2 2,2.1 2,1.9 2,1.9 2,1.7 2,1.7 2,1.5 2,1.5 2,1.4 2,1.3 2,1.3 2,1.1 2,1.2 2,1.1 2,1 2,1 2,0.9 2,0.8 2,0.8 2,0.7 2,0.6 2,0.6 2,0.5 2,0.5 2,0.4 2,0.4 2,0.3 2,0.3 2,0.2 2,0.2 2,0.1 2,0.1 2,0.1 2,0 2,-0.1 2,-0.2 2,-0.1 2,-0.3 2,-0.3 2,-0.3 2,-0.4 2,-0.4 2,-0.4 2,-0.5 2,-0.5 2,-0.5 2,-0.5 2,-0.5 2,-0.5 2,-0.6 2,-0.4 2,-0.5 2,-0.5 2,-0.4 2,-0.4 2,-0.4 2,-0.4 2,-0.4 2,-0.3 2,-0.4 2,-0.4 2,-0.3 2,-0.4 2,-0.4 2,-0.5 2,-0.4 2,-0.4 2,-0.4 2,-0.5 2,-0.4 2,-0.5 0.5,-0.1" stroke="#ff0000" stroke-width="9"/>
</g>
<rect x="280.9" y="1406.2" width="8.8" height="46.0" fill="#0000ff"/>
<path d="M40.5,1378.5 H393.0 M40.5,1483.0 H393.0" stroke="#5a5a5a" stroke-width="2.2" fill="none"/>
<path d="M41.5,1377.5 V1484.0 M392.0,1377.5 V1484.0" stroke="#262626" stroke-width="2.2" fill="none"/>
<text x="68.2" y="1523.8" font-size="34" fill="#5a5a5a" text-anchor="middle">0</text>
<text x="221.5" y="1523.8" font-size="34" fill="#5a5a5a" text-anchor="middle">50</text>
<text x="374.9" y="1523.8" font-size="34" fill="#5a5a5a" text-anchor="middle">100</text>
<path d="M72.2,1483.0 V1478.8 M72.2,1378.5 V1382.7 M225.5,1483.0 V1478.8 M225.5,1378.5 V1382.7 M378.9,1483.0 V1478.8 M378.9,1378.5 V1382.7" stroke="#5a5a5a" stroke-width="2" fill="none"/>
<text x="28.3" y="1402.7" font-size="34" fill="#262626" text-anchor="end">5</text>
<text x="28.3" y="1441.4" font-size="34" fill="#262626" text-anchor="end">0</text>
<text x="31.0" y="1480.2" font-size="34" fill="#262626" text-anchor="end">-5</text>
<path d="M41.5,1389.2 H45.7 M392.0,1389.2 H387.8 M41.5,1428.0 H45.7 M392.0,1428.0 H387.8 M41.5,1466.8 H45.7 M392.0,1466.8 H387.8" stroke="#262626" stroke-width="2" fill="none"/>
<path d="M46.6,1353.6 l15.8,16 M62.4,1353.6 l-15.8,16" stroke="#262626" stroke-width="1.5"/>
<text x="72.5" y="1370.1" font-size="33" fill="#262626">10</text>
<text x="117.5" y="1353.1" font-size="26" fill="#262626">-7</text>
<text x="72.5" y="1418.0" font-size="34" fill="#000">PP</text>
<text x="253.0" y="1409.2" font-size="34" fill="#000">TAM.00</text>
<text x="71.5" y="1468.5" font-size="27.5" fill="#000" stroke="#000" stroke-width="0.3" font-family="Liberation Serif, serif">SNR=<tspan>9.2</tspan></text>
<text x="253.0" y="1470.8" font-size="34" fill="#000" stroke="#000" stroke-width="0.45" font-family="Liberation Serif, serif">335<tspan stroke-width="0">°</tspan>, 102<tspan stroke-width="0">°</tspan></text>
<clipPath id="c36"><rect x="508.5" y="1370.5" width="359.5" height="120.5"/></clipPath>
<g clip-path="url(#c36)" fill="none" stroke-linejoin="round" stroke-linecap="round">
<path d="M508.5,1428.8l2,0.2 2,0.2 2,0.3 2,0.2 2,0.3 2,0.2 2,0.3 2,0.2 2,0.2 2,0.3 2,0.2 2,0.3 2,0.2 2,0.2 2,0.3 2,0.2 2,0.3 2,0.3 2,0.3 2,0.3 2,0.2 2,0.2 2,0 2,0.1 2,0 2,0 2,0 2,-0.1 2,0 2,0 2,0 2,0 2,0.1 2,0.1 2,0.1 2,-0.1 2,-0.5 2,-1.1 2,-2 2,-2.5 2,-2.9 2,-3.2 2,-3.3 2,-3.4 2,-3.1 2,-2.7 2,-2 2,-1.5 2,-1.1 2,-0.6 2,-0.1 2,0.7 2,1.5 2,2.3 2,2.8 2,3.3 2,3.8 2,4.2 2,4.7 2,4.8 2,4.8 2,4.7 2,4.6 2,4.7 2,4.6 2,4.6 2,4.4 2,3.6 2,2.2 2,0.6 2,-1 2,-2.1 2,-3 2,-3.9 2,-5 2,-5.9 2,-6.5 2,-6.6 2,-6.5 2,-6.2 2,-5.9 2,-5.4 2,-5 2,-4.4 2,-3.9 2,-3.4 2,-2.8 2,-2.2 2,-1.6 2,-1.2 2,-0.6 2,-0.1 2,0.7 2,1.8 2,2.5 2,3 2,3.1 2,2.8 2,2.6 2,2.5 2,2.4 2,2.3 2,2.3 2,2.2 2,2.2 2,2.2 2,2.1 2,1.9 2,1.8 2,1.7 2,1.5 2,1.5 2,1.3 2,1.1 2,1 2,0.8 2,0.7 2,0.5 2,0.5 2,0.4 2,0.3 2,0.2 2,-0.1 2,-0.4 2,-0.6 2,-0.7 2,-0.9 2,-0.8 2,-0.8 2,-0.8 2,-0.7 2,-0.7 2,-0.7 2,-0.6 2,-0.5 2,-0.3 2,-0.1 2,0.2 2,0.5 2,0.6 2,0.7 2,0.8 2,0.9 2,1 2,1.1 2,1.2 2,1.2 2,1.2 2,1 2,1 2,1 2,0.8 2,0.7 2,0.6 2,0.3 2,0.2 2,0 2,0 2,0 2,0 2,-0.2 2,-0.5 2,-0.8 2,-1 2,-1.2 2,-1.5 2,-1.6 2,-1.9 2,-2 2,-2.2 2,-2 2,-1.7 2,-1.5 2,-1.3 2,-1.1 2,-1 2,-0.9 0.5,-0.2" stroke="#666666" stroke-width="9"/>
<path d="M508.5,1428.8l2,0 2,0 2,0 2,0 2,0 2,0 2,0 2,-0.1 2,0 2,0 2,0 2,0 2,0 2,0 2,0 2,0 2,0 2,0.1 2,0.1 2,0.1 2,0.1 2,0.2 2,0.2 2,0.2 2,0.2 2,0.2 2,0.2 2,0 2,0 2,-0.1 2,-0.4 2,-0.5 2,-0.8 2,-1.1 2,-1.3 2,-1.6 2,-1.8 2,-2 2,-2.1 2,-2.1 2,-2 2,-1.9 2,-1.6 2,-1.3 2,-0.9 2,-0.4 2,0.1 2,0.6 2,1.2 2,1.7 2,2.3 2,2.7 2,3.1 2,3.5 2,3.8 2,4.1 2,4.2 2,4.4 2,4.4 2,4.5 2,4.4 2,4.3 2,4 2,3.9 2,3.4 2,2.9 2,2.3 2,1.6 2,0.7 2,-0.2 2,-1.3 2,-2.2 2,-3.1 2,-4 2,-4.8 2,-5.4 2,-6 2,-6.4 2,-6.6 2,-6.6 2,-6.6 2,-6.5 2,-6.2 2,-5.8 2,-5.3 2,-4.6 2,-3.8 2,-3.1 2,-2.2 2,-1.5 2,-0.6 2,0 2,0.7 2,1.2 2,1.6 2,2 2,2.2 2,2.5 2,2.5 2,2.5 2,2.6 2,2.5 2,2.5 2,2.3 2,2.3 2,2.2 2,2 2,1.9 2,1.9 2,1.7 2,1.6 2,1.5 2,1.4 2,1.4 2,1.2 2,1.3 2,1.1 2,1.2 2,1 2,1 2,1 2,0.9 2,0.9 2,0.8 2,0.7 2,0.7 2,0.6 2,0.6 2,0.4 2,0.4 2,0.4 2,0.3 2,0.2 2,0.1 2,0.2 2,0 2,0.1 2,0 2,-0.1 2,-0.1 2,-0.1 2,-0.2 2,-0.3 2,-0.2 2,-0.4 2,-0.3 2,-0.4 2,-0.4 2,-0.4 2,-0.5 2,-0.5 2,-0.5 2,-0.5 2,-0.5 2,-0.5 2,-0.6 2,-0.5 2,-0.5 2,-0.6 2,-0.5 2,-0.5 2,-0.6 2,-0.5 2,-0.5 2,-0.5 2,-0.4 2,-0.5 2,-0.4 2,-0.4 2,-0.4 2,-0.4 2,-0.4 2,-0.3 2,-0.4 2,-0.3 2,-0.4 2,-0.3 0.5,-0.1" stroke="#ff0000" stroke-width="9"/>
</g>
<rect x="750.4" y="1406.2" width="8.8" height="46.0" fill="#0000ff"/>
<path d="M507.5,1378.5 H864.0 M507.5,1483.0 H864.0" stroke="#5a5a5a" stroke-width="2.2" fill="none"/>
<path d="M508.5,1377.5 V1484.0 M863.0,1377.5 V1484.0" stroke="#262626" stroke-width="2.2" fill="none"/>
<text x="535.5" y="1523.8" font-size="34" fill="#5a5a5a" text-anchor="middle">0</text>
<text x="690.6" y="1523.8" font-size="34" fill="#5a5a5a" text-anchor="middle">50</text>
<text x="845.7" y="1523.8" font-size="34" fill="#5a5a5a" text-anchor="middle">100</text>
<path d="M539.5,1483.0 V1478.8 M539.5,1378.5 V1382.7 M694.6,1483.0 V1478.8 M694.6,1378.5 V1382.7 M849.7,1483.0 V1478.8 M849.7,1378.5 V1382.7" stroke="#5a5a5a" stroke-width="2" fill="none"/>
<text x="495.3" y="1402.7" font-size="34" fill="#262626" text-anchor="end">5</text>
<text x="495.3" y="1441.4" font-size="34" fill="#262626" text-anchor="end">0</text>
<text x="498.0" y="1480.2" font-size="34" fill="#262626" text-anchor="end">-5</text>
<path d="M508.5,1389.2 H512.7 M863.0,1389.2 H858.8 M508.5,1428.0 H512.7 M863.0,1428.0 H858.8 M508.5,1466.8 H512.7 M863.0,1466.8 H858.8" stroke="#262626" stroke-width="2" fill="none"/>
<path d="M513.6,1353.6 l15.8,16 M529.4,1353.6 l-15.8,16" stroke="#262626" stroke-width="1.5"/>
<text x="539.5" y="1370.1" font-size="33" fill="#262626">10</text>
<text x="584.5" y="1353.1" font-size="26" fill="#262626">-7</text>
<text x="539.9" y="1418.0" font-size="34" fill="#000">PP</text>
<text x="722.4" y="1409.2" font-size="34" fill="#000">TAM.10</text>
<text x="538.8" y="1468.5" font-size="27.5" fill="#000" stroke="#000" stroke-width="0.3" font-family="Liberation Serif, serif">SNR=<tspan>9.3</tspan></text>
<text x="722.4" y="1470.8" font-size="34" fill="#000" stroke="#000" stroke-width="0.45" font-family="Liberation Serif, serif">335<tspan stroke-width="0">°</tspan>, 102<tspan stroke-width="0">°</tspan></text>
<clipPath id="c37"><rect x="979.5" y="1370.5" width="355.0" height="120.5"/></clipPath>
<g clip-path="url(#c37)" fill="none" stroke-linejoin="round" stroke-linecap="round">
<path d="M979.5,1436.0l2,0 2,-0.1 2,-0.1 2,-0.2 2,-0.2 2,-0.3 2,-0.3 2,-0.3 2,-0.4 2,-0.5 2,-0.5 2,-0.7 2,-1.1 2,-1.6 2,-2 2,-1.8 2,-0.9 2,-0.1 2,0.6 2,0.7 2,0.6 2,0.5 2,0.3 2,0.2 2,0.1 2,0.1 2,0 2,0 2,-0.1 2,0 2,0.1 2,0.2 2,0.4 2,0.6 2,0.6 2,0.4 2,0 2,-0.5 2,-0.8 2,-0.9 2,-0.8 2,-0.3 2,0.1 2,0.5 2,0.8 2,1.2 2,1.5 2,2.1 2,2.7 2,3.3 2,3.5 2,3.9 2,4 2,4.1 2,4.2 2,3.9 2,3.7 2,3.6 2,3.1 2,2.6 2,1.6 2,0.3 2,-1.2 2,-2.4 2,-3.5 2,-4.1 2,-4.6 2,-5.2 2,-5.9 2,-6.3 2,-6.5 2,-6.5 2,-6.5 2,-6.5 2,-6.1 2,-5.6 2,-5 2,-4.5 2,-3.7 2,-2.6 2,-1.1 2,0.5 2,1.9 2,2.9 2,3.5 2,3.6 2,3.7 2,3.8 2,3.6 2,3.1 2,2.6 2,2.2 2,1.8 2,1.8 2,2.2 2,2.6 2,3.1 2,3.6 2,3.7 2,3.7 2,3.5 2,3.3 2,3.2 2,3 2,2.6 2,2.2 2,1.9 2,1.6 2,1.3 2,1 2,0.5 2,-0.1 2,-0.9 2,-1.6 2,-2.3 2,-2.7 2,-3 2,-3.3 2,-3.5 2,-3.7 2,-3.6 2,-3.4 2,-3 2,-2.8 2,-2.5 2,-2.1 2,-1.6 2,-1.3 2,-1.1 2,-0.9 2,-0.8 2,-0.6 2,-0.5 2,-0.4 2,-0.3 2,-0.3 2,-0.2 2,-0.2 2,-0.1 2,0 2,0.1 2,0 2,0.2 2,0.1 2,0.1 2,0.1 2,0.2 2,0.2 2,0.2 2,0.2 2,0.2 2,0.2 2,0.1 2,0.1 2,0 2,0 2,0 2,-0.1 2,0 2,0.1 2,0.2 2,0.4 2,0.7 2,1 2,1 2,1 2,0.9 2,0.8 2,0.7 2,0.8 2,0.7 2,0.7 2,0.8 2,0.8 2,0.7" stroke="#666666" stroke-width="9"/>
<path d="M979.5,1436.0l2,0 2,0 2,0 2,0 2,0 2,0 2,0 2,0 2,0 2,0 2,0 2,0 2,0 2,0 2,0 2,0 2,-0.1 2,0 2,0 2,0 2,-0.1 2,0 2,0 2,-0.1 2,0 2,0 2,-0.1 2,-0.1 2,-0.1 2,-0.2 2,-0.3 2,-0.4 2,-0.5 2,-0.7 2,-0.8 2,-0.9 2,-1 2,-1.1 2,-1.1 2,-1.1 2,-0.9 2,-0.6 2,-0.4 2,0.1 2,0.4 2,0.9 2,1.4 2,1.8 2,2.4 2,2.7 2,3.2 2,3.5 2,3.8 2,4 2,4 2,4.1 2,4 2,3.7 2,3.4 2,2.7 2,2.1 2,1.2 2,0.1 2,-1 2,-2.1 2,-3.2 2,-4.1 2,-5 2,-5.7 2,-6.3 2,-6.7 2,-6.9 2,-7.1 2,-7 2,-6.7 2,-6.3 2,-5.8 2,-5 2,-4.1 2,-3.1 2,-2 2,-0.9 2,0.1 2,1.1 2,2 2,2.7 2,3.3 2,3.7 2,4 2,4.1 2,4.2 2,4.1 2,4 2,3.9 2,3.6 2,3.5 2,3.3 2,3.1 2,2.8 2,2.6 2,2.3 2,2.1 2,1.8 2,1.6 2,1.3 2,1 2,0.9 2,0.6 2,0.4 2,0.3 2,0.1 2,0 2,-0.1 2,-0.2 2,-0.3 2,-0.4 2,-0.5 2,-0.5 2,-0.7 2,-0.8 2,-0.8 2,-0.9 2,-1 2,-1 2,-1 2,-0.9 2,-1 2,-0.9 2,-0.9 2,-0.9 2,-0.8 2,-0.8 2,-0.8 2,-0.8 2,-0.8 2,-0.7 2,-0.7 2,-0.8 2,-0.6 2,-0.7 2,-0.7 2,-0.6 2,-0.6 2,-0.5 2,-0.6 2,-0.5 2,-0.4 2,-0.5 2,-0.3 2,-0.4 2,-0.3 2,-0.2 2,-0.2 2,-0.2 2,-0.1 2,-0.2 2,-0.1 2,0 2,-0.1 2,-0.1 2,0 2,0 2,0 2,0 2,0 2,0 2,0 2,0.1 2,0 2,0 2,0.1 2,0.1 2,0 2,0.1 2,0" stroke="#ff0000" stroke-width="9"/>
</g>
<rect x="1218.8" y="1410.0" width="8.8" height="46.0" fill="#0000ff"/>
<path d="M978.5,1378.5 H1330.5 M978.5,1483.0 H1330.5" stroke="#5a5a5a" stroke-width="2.2" fill="none"/>
<path d="M979.5,1377.5 V1484.0 M1329.5,1377.5 V1484.0" stroke="#262626" stroke-width="2.2" fill="none"/>
<text x="1006.1" y="1523.8" font-size="34" fill="#5a5a5a" text-anchor="middle">0</text>
<text x="1159.2" y="1523.8" font-size="34" fill="#5a5a5a" text-anchor="middle">50</text>
<text x="1312.4" y="1523.8" font-size="34" fill="#5a5a5a" text-anchor="middle">100</text>
<path d="M1010.1,1483.0 V1478.8 M1010.1,1378.5 V1382.7 M1163.2,1483.0 V1478.8 M1163.2,1378.5 V1382.7 M1316.4,1483.0 V1478.8 M1316.4,1378.5 V1382.7" stroke="#5a5a5a" stroke-width="2" fill="none"/>
<text x="966.3" y="1416.4" font-size="34" fill="#262626" text-anchor="end">5</text>
<text x="966.3" y="1448.4" font-size="34" fill="#262626" text-anchor="end">0</text>
<text x="969.0" y="1478.9" font-size="34" fill="#262626" text-anchor="end">-5</text>
<path d="M979.5,1403.0 H983.7 M1329.5,1403.0 H1325.3 M979.5,1435.0 H983.7 M1329.5,1435.0 H1325.3 M979.5,1465.5 H983.7 M1329.5,1465.5 H1325.3" stroke="#262626" stroke-width="2" fill="none"/>
<path d="M984.6,1353.6 l15.8,16 M1000.4,1353.6 l-15.8,16" stroke="#262626" stroke-width="1.5"/>
<text x="1010.5" y="1370.1" font-size="33" fill="#262626">10</text>
<text x="1055.5" y="1353.1" font-size="26" fill="#262626">-7</text>
<text x="1010.5" y="1421.8" font-size="34" fill="#000">P</text>
<text x="1190.7" y="1413.0" font-size="34" fill="#000">TAOE.00</text>
<text x="1009.4" y="1472.2" font-size="27.5" fill="#000" stroke="#000" stroke-width="0.3" font-family="Liberation Serif, serif">SNR=<tspan>3.7</tspan></text>
<text x="1190.7" y="1474.6" font-size="34" fill="#000" stroke="#000" stroke-width="0.45" font-family="Liberation Serif, serif">118<tspan stroke-width="0">°</tspan>, 80<tspan stroke-width="0">°</tspan></text>
<clipPath id="c38"><rect x="1446.0" y="1370.5" width="359.0" height="120.5"/></clipPath>
<g clip-path="url(#c38)" fill="none" stroke-linejoin="round" stroke-linecap="round">
<path d="M1446.0,1437.5l2,0 2,-0.1 2,0 2,-0.1 2,0 2,0 2,-0.1 2,0 2,-0.1 2,0 2,-0.1 2,0 2,-0.1 2,0 2,-0.1 2,0 2,-0.1 2,0 2,-0.1 2,0 2,-0.1 2,0 2,0 2,-0.1 2,-0.1 2,0 2,-0.1 2,-0.1 2,-0.1 2,-0.2 2,-0.3 2,-0.3 2,-0.4 2,-0.5 2,-0.6 2,-0.8 2,-1.1 2,-1.5 2,-1.8 2,-1.8 2,-1.7 2,-1.3 2,-1 2,-0.7 2,-0.2 2,0.5 2,1 2,1.7 2,2.2 2,2.6 2,3.1 2,3.6 2,4.1 2,4.3 2,4.5 2,4.4 2,4.3 2,4.3 2,3.9 2,3.5 2,3.1 2,2.5 2,1.7 2,0.5 2,-0.7 2,-2.1 2,-3.1 2,-4 2,-4.8 2,-5.6 2,-6.6 2,-7.3 2,-7.7 2,-7.7 2,-7.7 2,-7.4 2,-6.8 2,-5.8 2,-4.6 2,-3.6 2,-2.7 2,-2 2,-1.3 2,-0.3 2,0.5 2,1.4 2,2.2 2,2.6 2,3 2,3.4 2,3.8 2,4.1 2,4.3 2,4.3 2,4.3 2,4.1 2,4.1 2,3.9 2,3.7 2,3.5 2,3.2 2,3.1 2,2.7 2,2.5 2,2.3 2,2.2 2,1.9 2,1.6 2,1.2 2,0.6 2,0.2 2,0 2,-0.2 2,-0.2 2,-0.3 2,-0.4 2,-0.6 2,-0.9 2,-1.3 2,-1.6 2,-1.7 2,-1.6 2,-1.5 2,-1.4 2,-1.3 2,-1.3 2,-1.1 2,-1.1 2,-1 2,-0.8 2,-0.8 2,-0.7 2,-0.6 2,-0.7 2,-0.6 2,-0.5 2,-0.6 2,-0.5 2,-0.4 2,-0.5 2,-0.4 2,-0.5 2,-0.5 2,-0.7 2,-0.8 2,-0.9 2,-1 2,-1.1 2,-1.1 2,-1.1 2,-1 2,-0.9 2,-0.9 2,-0.9 2,-0.8 2,-0.6 2,-0.4 2,-0.2 2,0.1 2,0.2 2,0.3 2,0.3 2,0.4 2,0.5 2,0.5 2,0.7 2,0.7 2,0.9 2,0.9 2,1 2,1 2,1 2,1 2,1.1 2,1.2 2,1.2 2,1.2" stroke="#666666" stroke-width="9"/>
<path d="M1446.0,1437.5l2,0 2,0 2,0 2,0 2,0 2,0 2,0 2,0 2,0 2,0 2,0 2,0 2,0 2,0 2,0 2,0 2,-0.1 2,0 2,0 2,0 2,0 2,0 2,0 2,0 2,-0.1 2,0 2,-0.1 2,-0.1 2,-0.2 2,-0.2 2,-0.4 2,-0.4 2,-0.6 2,-0.7 2,-0.9 2,-1 2,-1 2,-1.2 2,-1.1 2,-1.2 2,-0.9 2,-0.8 2,-0.5 2,-0.2 2,0.3 2,0.7 2,1.2 2,1.7 2,2.2 2,2.6 2,3 2,3.3 2,3.6 2,3.9 2,3.9 2,4 2,3.9 2,3.8 2,3.5 2,3.2 2,2.6 2,2 2,1.3 2,0.4 2,-0.6 2,-1.5 2,-2.5 2,-3.5 2,-4.4 2,-5.2 2,-5.9 2,-6.4 2,-6.8 2,-6.8 2,-6.8 2,-6.6 2,-6 2,-5.5 2,-4.6 2,-3.7 2,-2.7 2,-1.7 2,-0.6 2,0.3 2,1.1 2,1.9 2,2.4 2,2.8 2,3.1 2,3.3 2,3.4 2,3.4 2,3.3 2,3.1 2,3 2,2.8 2,2.6 2,2.3 2,2.1 2,1.8 2,1.7 2,1.5 2,1.3 2,1.1 2,1.1 2,0.9 2,0.8 2,0.7 2,0.7 2,0.6 2,0.5 2,0.4 2,0.3 2,0.3 2,0.2 2,0.1 2,0 2,-0.1 2,-0.1 2,-0.2 2,-0.3 2,-0.4 2,-0.4 2,-0.6 2,-0.5 2,-0.6 2,-0.7 2,-0.6 2,-0.7 2,-0.6 2,-0.7 2,-0.6 2,-0.6 2,-0.6 2,-0.6 2,-0.5 2,-0.6 2,-0.5 2,-0.5 2,-0.5 2,-0.5 2,-0.4 2,-0.4 2,-0.4 2,-0.4 2,-0.3 2,-0.4 2,-0.3 2,-0.3 2,-0.3 2,-0.3 2,-0.3 2,-0.2 2,-0.3 2,-0.3 2,-0.2 2,-0.3 2,-0.2 2,-0.2 2,-0.2 2,-0.2 2,-0.1 2,-0.1 2,-0.1 2,-0.1 2,0 2,0 2,0 2,0 2,0 2,0 2,0 2,0 2,0.1 2,0 2,0 2,0" stroke="#ff0000" stroke-width="9"/>
</g>
<rect x="1688.1" y="1411.2" width="8.8" height="46.0" fill="#0000ff"/>
<path d="M1445.0,1378.5 H1801.0 M1445.0,1483.0 H1801.0" stroke="#5a5a5a" stroke-width="2.2" fill="none"/>
<path d="M1446.0,1377.5 V1484.0 M1800.0,1377.5 V1484.0" stroke="#262626" stroke-width="2.2" fill="none"/>
<text x="1473.0" y="1523.8" font-size="34" fill="#5a5a5a" text-anchor="middle">0</text>
<text x="1627.8" y="1523.8" font-size="34" fill="#5a5a5a" text-anchor="middle">50</text>
<text x="1782.7" y="1523.8" font-size="34" fill="#5a5a5a" text-anchor="middle">100</text>
<path d="M1477.0,1483.0 V1478.8 M1477.0,1378.5 V1382.7 M1631.8,1483.0 V1478.8 M1631.8,1378.5 V1382.7 M1786.7,1483.0 V1478.8 M1786.7,1378.5 V1382.7" stroke="#5a5a5a" stroke-width="2" fill="none"/>
<text x="1432.8" y="1401.4" font-size="34" fill="#262626" text-anchor="end">10</text>
<text x="1432.8" y="1426.4" font-size="34" fill="#262626" text-anchor="end">5</text>
<text x="1432.8" y="1450.9" font-size="34" fill="#262626" text-anchor="end">0</text>
<text x="1435.5" y="1475.2" font-size="34" fill="#262626" text-anchor="end">-5</text>
<path d="M1446.0,1388.0 H1450.2 M1800.0,1388.0 H1795.8 M1446.0,1413.0 H1450.2 M1800.0,1413.0 H1795.8 M1446.0,1437.5 H1450.2 M1800.0,1437.5 H1795.8 M1446.0,1461.8 H1450.2 M1800.0,1461.8 H1795.8" stroke="#262626" stroke-width="2" fill="none"/>
<path d="M1451.1,1353.6 l15.8,16 M1466.9,1353.6 l-15.8,16" stroke="#262626" stroke-width="1.5"/>
<text x="1477.0" y="1370.1" font-size="33" fill="#262626">10</text>
<text x="1522.0" y="1353.1" font-size="26" fill="#262626">-7</text>
<text x="1477.3" y="1423.0" font-size="34" fill="#000">P</text>
<text x="1659.6" y="1414.2" font-size="34" fill="#000">UNM.00</text>
<text x="1476.3" y="1473.5" font-size="27.5" fill="#000" stroke="#000" stroke-width="0.3" font-family="Liberation Serif, serif">SNR=<tspan>17.7</tspan></text>
<text x="1659.6" y="1475.8" font-size="34" fill="#000" stroke="#000" stroke-width="0.45" font-family="Liberation Serif, serif">69<tspan stroke-width="0">°</tspan>, 82<tspan stroke-width="0">°</tspan></text>
<clipPath id="c39"><rect x="1916.5" y="1370.5" width="355.0" height="120.5"/></clipPath>
<g clip-path="url(#c39)" fill="none" stroke-linejoin="round" stroke-linecap="round">
<path d="M1916.5,1438.8l2,-0.1 2,0 2,0 2,-0.1 2,0 2,-0.1 2,0 2,0 2,-0.1 2,0 2,-0.1 2,0 2,-0.1 2,-0.1 2,0 2,-0.1 2,0 2,-0.1 2,0 2,-0.1 2,0 2,-0.1 2,-0.1 2,0 2,-0.1 2,-0.1 2,-0.1 2,-0.1 2,-0.1 2,-0.1 2,-0.2 2,-0.2 2,-0.3 2,-0.5 2,-0.5 2,-0.7 2,-0.9 2,-1.2 2,-1.5 2,-1.9 2,-1.9 2,-1.6 2,-0.9 2,-0.4 2,0.2 2,0.7 2,0.9 2,1.4 2,2.1 2,2.8 2,3.5 2,3.9 2,4 2,4 2,4 2,4.1 2,4.2 2,4.5 2,4.5 2,4.3 2,3.3 2,1.9 2,0.4 2,-0.7 2,-1.4 2,-2 2,-2.4 2,-3.1 2,-4.1 2,-5.1 2,-5.9 2,-6.3 2,-6.5 2,-6.5 2,-6.3 2,-6.2 2,-5.6 2,-5 2,-4.5 2,-3.9 2,-3.3 2,-2.9 2,-2.3 2,-2 2,-1.6 2,-1.2 2,-0.7 2,0.1 2,1 2,1.9 2,2.6 2,2.9 2,3.2 2,3.3 2,3.5 2,3.6 2,3.6 2,3.6 2,3.6 2,3.5 2,3.5 2,3.5 2,3.6 2,3.7 2,3.7 2,3.5 2,3.3 2,3 2,2.9 2,2.6 2,2.4 2,1.8 2,1.3 2,0.7 2,0.2 2,-0.1 2,-0.2 2,-0.3 2,-0.3 2,-0.4 2,-0.7 2,-1.1 2,-1.4 2,-1.6 2,-1.7 2,-1.5 2,-1.4 2,-1.2 2,-1.1 2,-1.1 2,-1 2,-0.9 2,-0.8 2,-0.8 2,-0.6 2,-0.6 2,-0.5 2,-0.5 2,-0.4 2,-0.5 2,-0.4 2,-0.5 2,-0.5 2,-0.6 2,-0.6 2,-0.5 2,-0.5 2,-0.4 2,-0.2 2,-0.2 2,0 2,0 2,0 2,0 2,0 2,0 2,0 2,0 2,-0.2 2,-0.3 2,-0.5 2,-0.6 2,-0.7 2,-0.7 2,-0.8 2,-0.8 2,-0.8 2,-0.9 2,-1 2,-1.1 2,-1.2 2,-1.2 2,-1.4 2,-1.4 2,-1.4" stroke="#666666" stroke-width="9"/>
<path d="M1916.5,1438.8l2,0 2,0 2,0 2,0 2,0 2,0 2,0 2,0 2,0 2,0 2,-0.1 2,0 2,0 2,0 2,0 2,0 2,0 2,0 2,0 2,-0.1 2,0 2,0 2,-0.1 2,0 2,0 2,-0.1 2,0 2,-0.1 2,-0.1 2,-0.2 2,-0.2 2,-0.4 2,-0.4 2,-0.5 2,-0.7 2,-0.8 2,-0.8 2,-1 2,-1.1 2,-1 2,-1 2,-0.7 2,-0.6 2,-0.2 2,0.1 2,0.6 2,1.1 2,1.5 2,2 2,2.5 2,2.8 2,3 2,3.3 2,3.3 2,3.4 2,3.3 2,3.2 2,3 2,2.8 2,2.4 2,2.1 2,1.5 2,0.9 2,0.3 2,-0.4 2,-1.1 2,-1.8 2,-2.6 2,-3.2 2,-3.9 2,-4.4 2,-4.9 2,-5.3 2,-5.6 2,-5.7 2,-5.8 2,-5.7 2,-5.6 2,-5.3 2,-5 2,-4.6 2,-4.2 2,-3.5 2,-3 2,-2.2 2,-1.4 2,-0.7 2,0.2 2,1 2,1.8 2,2.4 2,3 2,3.6 2,3.9 2,4.2 2,4.5 2,4.6 2,4.7 2,4.7 2,4.5 2,4.5 2,4.2 2,3.9 2,3.7 2,3.4 2,3 2,2.7 2,2.3 2,2 2,1.6 2,1.3 2,0.9 2,0.7 2,0.4 2,0.1 2,0 2,-0.2 2,-0.3 2,-0.5 2,-0.6 2,-0.8 2,-0.8 2,-1 2,-1 2,-1 2,-1 2,-0.9 2,-1 2,-0.9 2,-0.9 2,-0.9 2,-0.8 2,-0.9 2,-0.8 2,-0.8 2,-0.9 2,-0.8 2,-0.9 2,-0.8 2,-0.9 2,-0.8 2,-0.8 2,-0.8 2,-0.8 2,-0.7 2,-0.8 2,-0.7 2,-0.6 2,-0.7 2,-0.6 2,-0.5 2,-0.6 2,-0.5 2,-0.4 2,-0.5 2,-0.4 2,-0.4 2,-0.4 2,-0.3 2,-0.3 2,-0.3 2,-0.3 2,-0.3 2,-0.3 2,-0.2 2,-0.3 2,-0.2 2,-0.3 2,-0.2 2,-0.2 2,-0.1 2,-0.2 2,-0.2 2,-0.2 2,-0.1" stroke="#ff0000" stroke-width="9"/>
</g>
<rect x="2156.3" y="1411.8" width="8.8" height="46.2" fill="#0000ff"/>
<path d="M1915.5,1378.5 H2267.5 M1915.5,1483.0 H2267.5" stroke="#5a5a5a" stroke-width="2.2" fill="none"/>
<path d="M1916.5,1377.5 V1484.0 M2266.5,1377.5 V1484.0" stroke="#262626" stroke-width="2.2" fill="none"/>
<text x="1943.1" y="1523.8" font-size="34" fill="#5a5a5a" text-anchor="middle">0</text>
<text x="2096.2" y="1523.8" font-size="34" fill="#5a5a5a" text-anchor="middle">50</text>
<text x="2249.4" y="1523.8" font-size="34" fill="#5a5a5a" text-anchor="middle">100</text>
<path d="M1947.1,1483.0 V1478.8 M1947.1,1378.5 V1382.7 M2100.2,1483.0 V1478.8 M2100.2,1378.5 V1382.7 M2253.4,1483.0 V1478.8 M2253.4,1378.5 V1382.7" stroke="#5a5a5a" stroke-width="2" fill="none"/>
<text x="1903.3" y="1393.9" font-size="34" fill="#262626" text-anchor="end">2</text>
<text x="1903.3" y="1422.7" font-size="34" fill="#262626" text-anchor="end">1</text>
<text x="1903.3" y="1451.4" font-size="34" fill="#262626" text-anchor="end">0</text>
<text x="1906.0" y="1481.4" font-size="34" fill="#262626" text-anchor="end">-1</text>
<path d="M1916.5,1380.5 H1920.7 M2266.5,1380.5 H2262.3 M1916.5,1409.2 H1920.7 M2266.5,1409.2 H2262.3 M1916.5,1438.0 H1920.7 M2266.5,1438.0 H2262.3 M1916.5,1468.0 H1920.7 M2266.5,1468.0 H2262.3" stroke="#262626" stroke-width="2" fill="none"/>
<path d="M1921.6,1353.6 l15.8,16 M1937.4,1353.6 l-15.8,16" stroke="#262626" stroke-width="1.5"/>
<text x="1947.5" y="1370.1" font-size="33" fill="#262626">10</text>
<text x="1992.5" y="1353.1" font-size="26" fill="#262626">-6</text>
<text x="1947.5" y="1423.5" font-size="34" fill="#000">P</text>
<text x="2127.7" y="1414.8" font-size="34" fill="#000">WUS.00</text>
<text x="1946.4" y="1474.2" font-size="27.5" fill="#000" stroke="#000" stroke-width="0.3" font-family="Liberation Serif, serif">SNR=<tspan>62.9</tspan></text>
<text x="2127.7" y="1476.6" font-size="34" fill="#000" stroke="#000" stroke-width="0.45" font-family="Liberation Serif, serif">292<tspan stroke-width="0">°</tspan>, 53<tspan stroke-width="0">°</tspan></text>
<clipPath id="c40"><rect x="41.5" y="1562.8" width="355.5" height="115.5"/></clipPath>
<g clip-path="url(#c40)" fill="none" stroke-linejoin="round" stroke-linecap="round">
<path d="M41.5,1627.0l2,-0.1 2,-0.1 2,-0.1 2,0 2,-0.1 2,-0.1 2,-0.1 2,-0.1 2,0 2,-0.1 2,-0.1 2,0 2,-0.1 2,-0.1 2,0 2,-0.1 2,-0.1 2,0 2,-0.1 2,0 2,0 2,-0.1 2,0 2,0 2,-0.1 2,0 2,-0.1 2,0 2,0 2,0 2,-0.1 2,-0.4 2,-0.7 2,-1.1 2,-1.4 2,-1.5 2,-1.6 2,-1.5 2,-1.3 2,-1.3 2,-1.2 2,-1 2,-0.5 2,0.1 2,0.9 2,1.7 2,2.3 2,2.8 2,3.4 2,3.8 2,4.2 2,4.3 2,4.2 2,3.8 2,3.7 2,3.5 2,3.5 2,3.4 2,3.3 2,3.1 2,2.5 2,1.5 2,0.1 2,-1.1 2,-2.1 2,-2.9 2,-3.4 2,-3.9 2,-4.8 2,-5.5 2,-6.3 2,-6.5 2,-6.7 2,-6.7 2,-6.5 2,-6.2 2,-5.7 2,-5 2,-4.2 2,-3.7 2,-3 2,-2.3 2,-1.7 2,-1.1 2,-0.7 2,-0.5 2,-0.3 2,0.2 2,1 2,1.8 2,2.6 2,3.2 2,3.7 2,4.1 2,4.5 2,4.7 2,4.6 2,4.4 2,4 2,3.7 2,3.4 2,3.4 2,3.3 2,3.4 2,3.3 2,3.1 2,2.7 2,2.3 2,2 2,1.7 2,1.4 2,1.1 2,0.8 2,0.5 2,0.1 2,-0.1 2,-0.1 2,-0.2 2,-0.3 2,-0.3 2,-0.7 2,-1 2,-1.3 2,-1.6 2,-1.7 2,-1.6 2,-1.4 2,-1.2 2,-1.1 2,-1 2,-1 2,-0.9 2,-0.9 2,-0.9 2,-0.8 2,-0.8 2,-0.7 2,-0.7 2,-0.7 2,-0.6 2,-0.5 2,-0.5 2,-0.5 2,-0.4 2,-0.4 2,-0.4 2,-0.4 2,-0.3 2,-0.2 2,-0.2 2,-0.2 2,-0.1 2,-0.1 2,0 2,-0.1 2,-0.1 2,0 2,-0.1 2,-0.1 2,-0.1 2,-0.2 2,-0.1 2,-0.1 2,-0.1 2,-0.2 2,-0.2 2,-0.6 2,-0.8 2,-1.2 2,-1.4 2,-1.4 2,-1.4 2,-1.2 2,-1.1 2,-1 0.5,-0.2" stroke="#666666" stroke-width="9"/>
<path d="M41.5,1627.0l2,0 2,0 2,0 2,0 2,0 2,0 2,0 2,0 2,0 2,0 2,0 2,0 2,0 2,0 2,0 2,0 2,-0.1 2,0 2,0 2,0 2,0 2,0 2,0 2,0 2,-0.1 2,0 2,-0.1 2,-0.1 2,-0.2 2,-0.2 2,-0.4 2,-0.5 2,-0.5 2,-0.8 2,-0.8 2,-0.9 2,-0.9 2,-1 2,-0.9 2,-0.8 2,-0.7 2,-0.4 2,-0.1 2,0.2 2,0.7 2,1 2,1.6 2,2 2,2.4 2,2.7 2,3 2,3.2 2,3.3 2,3.2 2,3.2 2,3 2,2.8 2,2.4 2,2 2,1.5 2,1 2,0.5 2,-0.2 2,-0.8 2,-1.4 2,-2.1 2,-2.8 2,-3.4 2,-4 2,-4.5 2,-4.9 2,-5.1 2,-5.3 2,-5.4 2,-5.4 2,-5.2 2,-5 2,-4.8 2,-4.5 2,-4 2,-3.6 2,-3.1 2,-2.5 2,-2 2,-1.3 2,-0.6 2,0 2,0.7 2,1.4 2,2.1 2,2.6 2,3.1 2,3.5 2,3.9 2,4 2,4.3 2,4.3 2,4.3 2,4.2 2,4.1 2,3.9 2,3.7 2,3.5 2,3.2 2,3 2,2.6 2,2.4 2,2 2,1.8 2,1.5 2,1.2 2,0.9 2,0.7 2,0.5 2,0.3 2,0.2 2,0 2,-0.1 2,-0.3 2,-0.3 2,-0.5 2,-0.6 2,-0.7 2,-0.8 2,-0.8 2,-0.8 2,-0.9 2,-0.8 2,-0.9 2,-0.9 2,-0.9 2,-0.8 2,-0.9 2,-0.9 2,-0.8 2,-0.9 2,-0.9 2,-0.8 2,-0.9 2,-0.8 2,-0.8 2,-0.8 2,-0.8 2,-0.8 2,-0.7 2,-0.8 2,-0.7 2,-0.7 2,-0.7 2,-0.7 2,-0.6 2,-0.6 2,-0.6 2,-0.6 2,-0.5 2,-0.5 2,-0.4 2,-0.4 2,-0.3 2,-0.3 2,-0.3 2,-0.2 2,-0.1 2,-0.2 2,-0.1 2,-0.1 2,-0.2 2,0 2,-0.1 2,-0.1 2,-0.1 2,0 2,-0.1 2,0 2,-0.1 0.5,0" stroke="#ff0000" stroke-width="9"/>
</g>
<rect x="280.9" y="1600.8" width="8.8" height="46.2" fill="#0000ff"/>
<path d="M40.5,1570.8 H393.0 M40.5,1670.2 H393.0" stroke="#5a5a5a" stroke-width="2.2" fill="none"/>
<path d="M41.5,1569.8 V1671.2 M392.0,1569.8 V1671.2" stroke="#262626" stroke-width="2.2" fill="none"/>
<text x="68.2" y="1711.0" font-size="34" fill="#5a5a5a" text-anchor="middle">0</text>
<text x="221.5" y="1711.0" font-size="34" fill="#5a5a5a" text-anchor="middle">50</text>
<text x="374.9" y="1711.0" font-size="34" fill="#5a5a5a" text-anchor="middle">100</text>
<path d="M72.2,1670.2 V1666.0 M72.2,1570.8 V1575.0 M225.5,1670.2 V1666.0 M225.5,1570.8 V1575.0 M378.9,1670.2 V1666.0 M378.9,1570.8 V1575.0" stroke="#5a5a5a" stroke-width="2" fill="none"/>
<text x="28.3" y="1584.7" font-size="34" fill="#262626" text-anchor="end">2</text>
<text x="28.3" y="1612.4" font-size="34" fill="#262626" text-anchor="end">1</text>
<text x="28.3" y="1640.4" font-size="34" fill="#262626" text-anchor="end">0</text>
<text x="31.0" y="1668.4" font-size="34" fill="#262626" text-anchor="end">-1</text>
<path d="M41.5,1571.2 H45.7 M392.0,1571.2 H387.8 M41.5,1599.0 H45.7 M392.0,1599.0 H387.8 M41.5,1627.0 H45.7 M392.0,1627.0 H387.8 M41.5,1655.0 H45.7 M392.0,1655.0 H387.8" stroke="#262626" stroke-width="2" fill="none"/>
<path d="M46.6,1545.8 l15.8,16 M62.4,1545.8 l-15.8,16" stroke="#262626" stroke-width="1.5"/>
<text x="72.5" y="1562.3" font-size="33" fill="#262626">10</text>
<text x="117.5" y="1545.3" font-size="26" fill="#262626">-6</text>
<text x="72.5" y="1612.5" font-size="34" fill="#000">P</text>
<text x="253.0" y="1603.8" font-size="34" fill="#000">WUS.10</text>
<text x="71.5" y="1663.2" font-size="27.5" fill="#000" stroke="#000" stroke-width="0.3" font-family="Liberation Serif, serif">SNR=<tspan>64.7</tspan></text>
<text x="253.0" y="1665.6" font-size="34" fill="#000" stroke="#000" stroke-width="0.45" font-family="Liberation Serif, serif">292<tspan stroke-width="0">°</tspan>, 53<tspan stroke-width="0">°</tspan></text>
<g font-size="29" fill="#000">
<text x="1917" y="1580.4">Type = P waves</text>
<text x="1918" y="1600.1">Black=Data</text>
<text x="1918" y="1619.8">Red=Model</text>
<text x="1917" y="1640.4">Y = Displacement(m)</text>
<text x="1958" y="1660.1">[0.01Hz 0.036Hz]</text>
<text x="1917" y="1679.9">X = Time(s)</text>
</g>
</svg></body></html>
